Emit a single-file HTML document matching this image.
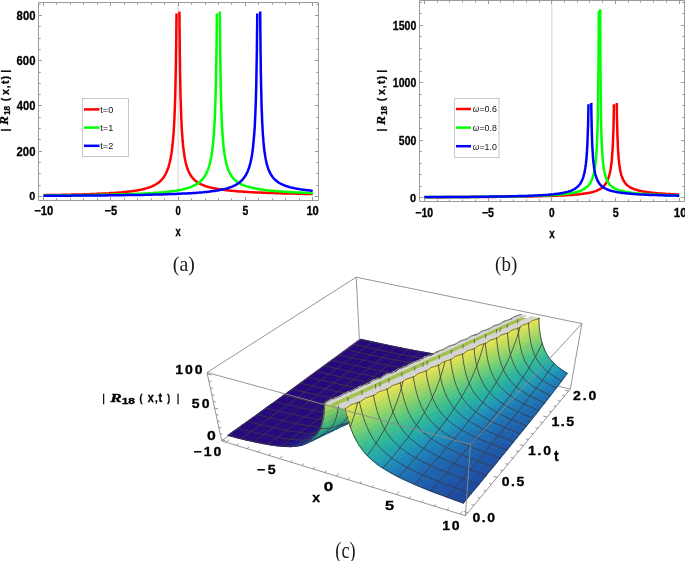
<!DOCTYPE html>
<html><head><meta charset="utf-8"><style>html,body{margin:0;padding:0;background:#fff;width:685px;height:561px;overflow:hidden}</style></head>
<body>
<svg width="685" height="561" viewBox="0 0 685 561" style="position:absolute;left:0;top:0;will-change:transform">
<rect width="685" height="561" fill="#fff"/>
<path d="M178.1 2.5V200.5" stroke="#d4d4d4" stroke-width="1"/>
<clipPath id="ca"><rect x="38.5" y="2.5" width="280.0" height="198.0"/></clipPath><g clip-path="url(#ca)">
<polyline points="43.5,195.2 46.3,195.1 49.2,195.1 51.9,195.0 54.7,195.0 57.3,194.9 60.0,194.9 62.6,194.8 65.2,194.8 67.7,194.7 70.2,194.7 72.6,194.6 75.1,194.6 77.4,194.5 79.8,194.4 82.1,194.4 84.3,194.3 86.6,194.2 88.8,194.2 90.9,194.1 93.0,194.0 95.1,193.9 97.2,193.8 99.2,193.7 101.2,193.7 103.1,193.6 105.0,193.5 106.9,193.4 108.8,193.3 110.6,193.1 112.4,193.0 114.1,192.9 115.8,192.8 117.5,192.7 119.2,192.5 120.8,192.4 122.4,192.3 123.9,192.1 125.5,192.0 127.0,191.8 128.4,191.6 129.9,191.5 131.3,191.3 132.7,191.1 134.0,190.9 135.4,190.7 136.7,190.5 137.9,190.3 139.2,190.0 140.4,189.8 141.6,189.5 142.8,189.3 143.9,189.0 145.0,188.7 146.1,188.4 147.1,188.1 148.2,187.8 149.2,187.4 150.2,187.1 151.1,186.7 152.1,186.3 153.0,185.9 153.9,185.5 154.8,185.0 155.6,184.5 156.4,184.0 157.2,183.5 158.0,183.0 158.8,182.4 159.5,181.8 160.2,181.2 160.9,180.5 161.6,179.8 162.3,179.1 162.9,178.3 163.5,177.5 164.1,176.6 164.7,175.7 165.3,174.7 165.8,173.7 166.3,172.6 166.8,171.5 167.3,170.3 167.8,169.1 168.3,167.7 168.7,166.3 169.1,164.8 169.5,163.3 169.9,161.6 170.3,159.9 170.7,158.0 171.0,156.0 171.4,154.0 171.7,151.8 172.0,149.5 172.3,147.0 172.6,144.5 172.8,141.7 173.1,138.9 173.3,135.9 173.6,132.7 173.8,129.4 174.0,125.9 174.2,122.3 174.4,118.5 174.6,114.6 174.7,110.5 174.9,106.2 175.0,101.8 175.2,97.3 175.3,92.7 175.4,88.0 175.5,83.2 175.6,78.4 175.7,73.5 175.8,68.6 175.9,63.8 176.0,59.1 176.0,54.5 176.1,50.0 176.2,45.7 176.2,41.6 176.3,37.7 176.3,34.1 176.3,30.8 176.4,27.8 176.4,25.1 176.4,22.8 176.4,20.7 176.5,18.9 176.5,17.5 176.5,16.3 176.5,15.3 176.5,14.6 176.5,14.1 176.5,13.8 176.5,13.6 176.5,13.4 176.5,13.4 176.5,13.4" fill="none" stroke="#ff0000" stroke-width="2.5" stroke-linejoin="round"/>
<polyline points="179.4,11.6 179.4,11.6 179.4,11.6 179.4,11.8 179.4,12.0 179.4,12.4 179.4,13.0 179.4,13.9 179.5,15.0 179.5,16.4 179.5,18.2 179.5,20.2 179.5,22.7 179.5,25.4 179.6,28.6 179.6,32.0 179.6,35.8 179.7,39.9 179.7,44.3 179.8,48.8 179.8,53.6 179.9,58.5 180.0,63.6 180.0,68.7 180.1,73.8 180.2,78.9 180.3,84.0 180.4,89.0 180.5,93.9 180.6,98.7 180.8,103.3 180.9,107.8 181.1,112.2 181.2,116.3 181.4,120.3 181.6,124.1 181.7,127.7 181.9,131.2 182.2,134.4 182.4,137.5 182.6,140.5 182.9,143.3 183.1,145.9 183.4,148.4 183.7,150.7 184.0,152.9 184.3,155.0 184.6,157.0 184.9,158.8 185.3,160.6 185.6,162.2 186.0,163.8 186.4,165.3 186.8,166.7 187.2,168.0 187.7,169.2 188.1,170.4 188.6,171.5 189.1,172.5 189.6,173.5 190.1,174.5 190.7,175.3 191.3,176.2 191.8,177.0 192.4,177.7 193.1,178.4 193.7,179.1 194.4,179.8 195.0,180.4 195.7,181.0 196.5,181.5 197.2,182.0 198.0,182.6 198.7,183.0 199.5,183.5 200.4,183.9 201.2,184.3 202.1,184.7 203.0,185.1 203.9,185.5 204.8,185.8 205.8,186.2 206.8,186.5 207.8,186.8 208.8,187.1 209.9,187.4 211.0,187.6 212.1,187.9 213.2,188.1 214.4,188.4 215.6,188.6 216.8,188.8 218.1,189.1 219.3,189.3 220.6,189.5 222.0,189.6 223.3,189.8 224.7,190.0 226.1,190.2 227.6,190.3 229.1,190.5 230.6,190.7 232.1,190.8 233.7,191.0 235.2,191.1 236.9,191.2 238.5,191.4 240.2,191.5 241.9,191.6 243.7,191.7 245.5,191.8 247.3,191.9 249.1,192.1 251.0,192.2 252.9,192.3 254.9,192.4 256.9,192.4 258.9,192.5 261.0,192.6 263.1,192.7 265.2,192.8 267.3,192.9 269.5,193.0 271.8,193.0 274.0,193.1 276.4,193.2 278.7,193.3 281.1,193.3 283.5,193.4 286.0,193.5 288.5,193.5 291.0,193.6 293.6,193.6 296.2,193.7 298.8,193.7 301.5,193.8 304.3,193.9 307.0,193.9 309.8,194.0 312.7,194.0" fill="none" stroke="#ff0000" stroke-width="2.5" stroke-linejoin="round"/>
<polyline points="43.5,195.6 47.2,195.5 50.9,195.5 54.5,195.5 58.0,195.5 61.5,195.4 65.0,195.4 68.4,195.3 71.7,195.3 75.0,195.3 78.3,195.2 81.5,195.2 84.6,195.1 87.7,195.1 90.8,195.1 93.8,195.0 96.7,195.0 99.7,194.9 102.5,194.8 105.3,194.8 108.1,194.7 110.8,194.7 113.5,194.6 116.1,194.5 118.7,194.5 121.2,194.4 123.7,194.3 126.2,194.3 128.6,194.2 131.0,194.1 133.3,194.0 135.6,193.9 137.8,193.8 140.0,193.7 142.1,193.6 144.3,193.5 146.3,193.4 148.4,193.3 150.4,193.2 152.3,193.1 154.2,192.9 156.1,192.8 158.0,192.7 159.8,192.5 161.5,192.4 163.3,192.2 165.0,192.0 166.6,191.9 168.2,191.7 169.8,191.5 171.4,191.3 172.9,191.1 174.4,190.9 175.8,190.7 177.2,190.4 178.6,190.2 180.0,189.9 181.3,189.7 182.6,189.4 183.8,189.1 185.1,188.8 186.2,188.5 187.4,188.1 188.5,187.8 189.6,187.4 190.7,187.0 191.8,186.6 192.8,186.2 193.8,185.7 194.7,185.2 195.7,184.7 196.6,184.2 197.5,183.6 198.3,183.0 199.2,182.4 200.0,181.7 200.7,181.0 201.5,180.3 202.2,179.5 202.9,178.7 203.6,177.8 204.3,176.9 204.9,175.9 205.5,174.9 206.1,173.8 206.7,172.6 207.3,171.4 207.8,170.1 208.3,168.7 208.8,167.2 209.3,165.6 209.7,164.0 210.2,162.2 210.6,160.3 211.0,158.3 211.4,156.2 211.7,153.9 212.1,151.5 212.4,149.0 212.7,146.3 213.1,143.4 213.3,140.4 213.6,137.2 213.9,133.8 214.1,130.2 214.3,126.4 214.6,122.5 214.8,118.4 215.0,114.0 215.1,109.5 215.3,104.8 215.5,100.0 215.6,95.0 215.7,89.9 215.9,84.7 216.0,79.4 216.1,74.1 216.2,68.8 216.3,63.6 216.4,58.4 216.4,53.4 216.5,48.5 216.6,43.9 216.6,39.5 216.7,35.5 216.7,31.8 216.7,28.4 216.8,25.4 216.8,22.8 216.8,20.6 216.8,18.7 216.8,17.1 216.9,15.9 216.9,15.0 216.9,14.3 216.9,13.9 216.9,13.6 216.9,13.5 216.9,13.4 216.9,13.4" fill="none" stroke="#00ff00" stroke-width="2.5" stroke-linejoin="round"/>
<polyline points="219.8,11.6 219.8,11.6 219.8,11.6 219.8,11.7 219.8,11.9 219.8,12.2 219.8,12.6 219.8,13.2 219.8,14.0 219.8,15.0 219.8,16.2 219.9,17.7 219.9,19.4 219.9,21.5 219.9,23.8 219.9,26.3 220.0,29.2 220.0,32.3 220.0,35.7 220.0,39.3 220.1,43.1 220.1,47.1 220.2,51.2 220.2,55.5 220.3,59.9 220.4,64.4 220.4,68.9 220.5,73.5 220.6,78.0 220.7,82.5 220.7,87.0 220.8,91.4 220.9,95.7 221.1,99.9 221.2,104.0 221.3,108.0 221.4,111.8 221.6,115.5 221.7,119.1 221.9,122.5 222.0,125.8 222.2,129.0 222.4,132.0 222.6,134.8 222.8,137.6 223.0,140.2 223.2,142.7 223.4,145.0 223.6,147.3 223.9,149.4 224.1,151.5 224.4,153.4 224.7,155.2 225.0,157.0 225.3,158.6 225.6,160.2 225.9,161.7 226.2,163.1 226.6,164.4 226.9,165.7 227.3,166.9 227.7,168.1 228.1,169.2 228.5,170.2 228.9,171.2 229.3,172.1 229.8,173.0 230.2,173.9 230.7,174.7 231.2,175.5 231.7,176.2 232.2,176.9 232.7,177.6 233.3,178.2 233.8,178.9 234.4,179.4 235.0,180.0 235.6,180.5 236.2,181.1 236.9,181.5 237.5,182.0 238.2,182.5 238.9,182.9 239.6,183.3 240.3,183.7 241.1,184.1 241.8,184.4 242.6,184.8 243.4,185.1 244.2,185.5 245.0,185.8 245.9,186.1 246.7,186.4 247.6,186.6 248.5,186.9 249.5,187.2 250.4,187.4 251.4,187.6 252.4,187.9 253.4,188.1 254.4,188.3 255.4,188.5 256.5,188.7 257.6,188.9 258.7,189.1 259.9,189.3 261.0,189.5 262.2,189.6 263.4,189.8 264.6,189.9 265.8,190.1 267.1,190.2 268.4,190.4 269.7,190.5 271.1,190.7 272.4,190.8 273.8,190.9 275.2,191.1 276.6,191.2 278.1,191.3 279.6,191.4 281.1,191.5 282.6,191.6 284.2,191.7 285.8,191.8 287.4,191.9 289.0,192.0 290.7,192.1 292.3,192.2 294.1,192.3 295.8,192.4 297.6,192.5 299.4,192.5 301.2,192.6 303.0,192.7 304.9,192.8 306.8,192.8 308.7,192.9 310.7,193.0 312.7,193.1" fill="none" stroke="#00ff00" stroke-width="2.5" stroke-linejoin="round"/>
<polyline points="43.5,195.8 48.1,195.8 52.6,195.8 57.0,195.7 61.4,195.7 65.7,195.7 70.0,195.7 74.2,195.6 78.3,195.6 82.4,195.6 86.4,195.6 90.3,195.5 94.2,195.5 98.0,195.5 101.8,195.4 105.5,195.4 109.1,195.3 112.7,195.3 116.3,195.3 119.7,195.2 123.1,195.2 126.5,195.1 129.8,195.1 133.0,195.0 136.2,195.0 139.3,194.9 142.4,194.9 145.4,194.8 148.4,194.7 151.3,194.7 154.2,194.6 157.0,194.5 159.8,194.5 162.5,194.4 165.1,194.3 167.7,194.2 170.3,194.1 172.8,194.0 175.3,193.9 177.7,193.8 180.0,193.7 182.3,193.6 184.6,193.5 186.8,193.4 189.0,193.3 191.2,193.2 193.2,193.0 195.3,192.9 197.3,192.7 199.2,192.6 201.1,192.4 203.0,192.3 204.8,192.1 206.6,191.9 208.4,191.7 210.1,191.5 211.7,191.3 213.4,191.1 215.0,190.9 216.5,190.6 218.0,190.4 219.5,190.1 220.9,189.8 222.3,189.5 223.7,189.2 225.0,188.9 226.3,188.6 227.6,188.2 228.8,187.8 230.0,187.4 231.1,187.0 232.2,186.6 233.3,186.1 234.4,185.6 235.4,185.1 236.4,184.5 237.4,183.9 238.3,183.3 239.2,182.7 240.1,182.0 240.9,181.2 241.7,180.5 242.5,179.6 243.3,178.7 244.0,177.8 244.7,176.8 245.4,175.8 246.1,174.6 246.7,173.4 247.3,172.2 247.9,170.8 248.5,169.3 249.0,167.8 249.5,166.2 250.0,164.4 250.5,162.5 250.9,160.5 251.4,158.4 251.8,156.1 252.2,153.7 252.5,151.1 252.9,148.3 253.2,145.4 253.5,142.2 253.8,138.9 254.1,135.4 254.4,131.6 254.7,127.6 254.9,123.5 255.1,119.1 255.3,114.4 255.5,109.6 255.7,104.6 255.9,99.4 256.0,94.0 256.2,88.5 256.3,82.9 256.4,77.2 256.5,71.5 256.6,65.9 256.7,60.3 256.8,54.9 256.9,49.6 256.9,44.6 257.0,39.9 257.0,35.5 257.1,31.6 257.1,28.0 257.2,24.9 257.2,22.1 257.2,19.9 257.2,18.0 257.2,16.5 257.2,15.4 257.3,14.5 257.3,14.0 257.3,13.6 257.3,13.5 257.3,13.4 257.3,13.4" fill="none" stroke="#0000ff" stroke-width="2.5" stroke-linejoin="round"/>
<polyline points="260.2,11.6 260.2,11.6 260.2,11.6 260.2,11.7 260.2,11.8 260.2,11.9 260.2,12.2 260.2,12.5 260.2,13.0 260.2,13.5 260.2,14.2 260.2,15.1 260.2,16.1 260.2,17.3 260.2,18.7 260.3,20.2 260.3,22.0 260.3,23.9 260.3,26.0 260.3,28.3 260.3,30.8 260.4,33.5 260.4,36.3 260.4,39.3 260.5,42.5 260.5,45.7 260.5,49.1 260.6,52.6 260.6,56.2 260.7,59.8 260.7,63.5 260.8,67.3 260.8,71.0 260.9,74.8 261.0,78.5 261.0,82.3 261.1,86.0 261.2,89.6 261.3,93.2 261.4,96.7 261.4,100.2 261.5,103.6 261.6,106.9 261.7,110.1 261.9,113.2 262.0,116.3 262.1,119.2 262.2,122.1 262.4,124.8 262.5,127.4 262.6,130.0 262.8,132.5 262.9,134.8 263.1,137.1 263.3,139.3 263.4,141.4 263.6,143.4 263.8,145.3 264.0,147.2 264.2,149.0 264.4,150.7 264.6,152.3 264.9,153.9 265.1,155.4 265.3,156.8 265.6,158.2 265.8,159.5 266.1,160.8 266.3,162.0 266.6,163.2 266.9,164.3 267.2,165.3 267.5,166.4 267.8,167.3 268.1,168.3 268.4,169.2 268.8,170.1 269.1,170.9 269.5,171.7 269.8,172.4 270.2,173.2 270.6,173.9 271.0,174.6 271.4,175.2 271.8,175.8 272.2,176.4 272.6,177.0 273.1,177.6 273.5,178.1 274.0,178.6 274.4,179.1 274.9,179.6 275.4,180.0 275.9,180.5 276.4,180.9 277.0,181.3 277.5,181.7 278.0,182.1 278.6,182.5 279.2,182.8 279.7,183.2 280.3,183.5 280.9,183.8 281.6,184.1 282.2,184.4 282.8,184.7 283.5,185.0 284.1,185.3 284.8,185.5 285.5,185.8 286.2,186.1 286.9,186.3 287.7,186.5 288.4,186.7 289.2,187.0 289.9,187.2 290.7,187.4 291.5,187.6 292.3,187.8 293.1,188.0 294.0,188.1 294.8,188.3 295.7,188.5 296.6,188.7 297.5,188.8 298.4,189.0 299.3,189.1 300.2,189.3 301.2,189.4 302.2,189.6 303.1,189.7 304.1,189.8 305.2,190.0 306.2,190.1 307.2,190.2 308.3,190.3 309.4,190.5 310.5,190.6 311.6,190.7 312.7,190.8" fill="none" stroke="#0000ff" stroke-width="2.5" stroke-linejoin="round"/>
</g>
<path d="M38.5 2.5H318.5V200.5H38.5ZM43.5 200.5v-3.6M43.5 2.5v3.6M110.5 200.5v-3.6M110.5 2.5v3.6M178.5 200.5v-3.6M178.5 2.5v3.6M245.5 200.5v-3.6M245.5 2.5v3.6M312.5 200.5v-3.6M312.5 2.5v3.6M56.5 200.5v-2.2M56.5 2.5v2.2M70.5 200.5v-2.2M70.5 2.5v2.2M83.5 200.5v-2.2M83.5 2.5v2.2M97.5 200.5v-2.2M97.5 2.5v2.2M124.5 200.5v-2.2M124.5 2.5v2.2M137.5 200.5v-2.2M137.5 2.5v2.2M151.5 200.5v-2.2M151.5 2.5v2.2M164.5 200.5v-2.2M164.5 2.5v2.2M191.5 200.5v-2.2M191.5 2.5v2.2M205.5 200.5v-2.2M205.5 2.5v2.2M218.5 200.5v-2.2M218.5 2.5v2.2M231.5 200.5v-2.2M231.5 2.5v2.2M258.5 200.5v-2.2M258.5 2.5v2.2M272.5 200.5v-2.2M272.5 2.5v2.2M285.5 200.5v-2.2M285.5 2.5v2.2M299.5 200.5v-2.2M299.5 2.5v2.2M38.5 196.5h3.6M318.5 196.5h-3.6M38.5 151.5h3.6M318.5 151.5h-3.6M38.5 105.5h3.6M318.5 105.5h-3.6M38.5 60.5h3.6M318.5 60.5h-3.6M38.5 15.5h3.6M318.5 15.5h-3.6M38.5 185.5h2.2M318.5 185.5h-2.2M38.5 173.5h2.2M318.5 173.5h-2.2M38.5 162.5h2.2M318.5 162.5h-2.2M38.5 139.5h2.2M318.5 139.5h-2.2M38.5 128.5h2.2M318.5 128.5h-2.2M38.5 117.5h2.2M318.5 117.5h-2.2M38.5 94.5h2.2M318.5 94.5h-2.2M38.5 83.5h2.2M318.5 83.5h-2.2M38.5 72.5h2.2M318.5 72.5h-2.2M38.5 49.5h2.2M318.5 49.5h-2.2M38.5 38.5h2.2M318.5 38.5h-2.2M38.5 26.5h2.2M318.5 26.5h-2.2M38.5 4.5h2.2M318.5 4.5h-2.2" stroke="#9a9a9a" stroke-width="1" fill="none"/>
<text transform="translate(16.55 155.56) scale(0.883 1)" font-family="Liberation Sans, sans-serif" font-weight="bold" font-style="normal" font-size="12.82" fill="#000" stroke="#000" stroke-width="0.30">200</text>
<text transform="translate(16.78 110.40) scale(0.872 1)" font-family="Liberation Sans, sans-serif" font-weight="bold" font-style="normal" font-size="12.82" fill="#000" stroke="#000" stroke-width="0.30">400</text>
<text transform="translate(16.55 65.24) scale(0.883 1)" font-family="Liberation Sans, sans-serif" font-weight="bold" font-style="normal" font-size="12.82" fill="#000" stroke="#000" stroke-width="0.30">600</text>
<text transform="translate(16.61 20.08) scale(0.880 1)" font-family="Liberation Sans, sans-serif" font-weight="bold" font-style="normal" font-size="12.82" fill="#000" stroke="#000" stroke-width="0.30">800</text>
<text transform="translate(29.22 200.23) scale(0.918 1)" font-family="Liberation Sans, sans-serif" font-weight="bold" font-style="normal" font-size="11.69" fill="#000" stroke="#000" stroke-width="0.30">0</text>
<text transform="translate(34.20 215.03) scale(0.920 1)" font-family="Liberation Sans, sans-serif" font-weight="bold" font-style="normal" font-size="12.25" fill="#000" stroke="#000" stroke-width="0.30">−10</text>
<text transform="translate(104.61 215.03) scale(0.891 1)" font-family="Liberation Sans, sans-serif" font-weight="bold" font-style="normal" font-size="12.43" fill="#000" stroke="#000" stroke-width="0.30">−5</text>
<text transform="translate(175.47 215.03) scale(0.773 1)" font-family="Liberation Sans, sans-serif" font-weight="bold" font-style="normal" font-size="12.25" fill="#000" stroke="#000" stroke-width="0.30">0</text>
<text transform="translate(242.54 215.03) scale(0.837 1)" font-family="Liberation Sans, sans-serif" font-weight="bold" font-style="normal" font-size="12.43" fill="#000" stroke="#000" stroke-width="0.30">5</text>
<text transform="translate(306.38 215.03) scale(0.905 1)" font-family="Liberation Sans, sans-serif" font-weight="bold" font-style="normal" font-size="12.25" fill="#000" stroke="#000" stroke-width="0.30">10</text>
<text transform="translate(175.56 236.05) scale(0.758 1)" font-family="Liberation Sans, sans-serif" font-weight="bold" font-style="normal" font-size="12.45" fill="#000" stroke="#000" stroke-width="0.30">x</text>
<text transform="translate(172.86 270.93) scale(0.985 1)" font-family="Liberation Serif, serif" font-weight="normal" font-style="normal" font-size="20.11" fill="#1a1a1a">(a)</text>
<rect x="82.5" y="98.5" width="46" height="58" fill="#fff" stroke="#c8c8c8" stroke-width="1"/>
<path d="M84 109.4H99.5" stroke="#ff0000" stroke-width="2.5"/>
<text transform="translate(100.31 112.86) scale(0.963 1)" font-family="Liberation Sans, sans-serif" font-weight="normal" font-style="normal" font-size="9.44" fill="#111">t=0</text>
<path d="M84 127.6H99.5" stroke="#00ff00" stroke-width="2.5"/>
<text transform="translate(100.31 131.05) scale(0.956 1)" font-family="Liberation Sans, sans-serif" font-weight="normal" font-style="normal" font-size="9.57" fill="#111">t=1</text>
<path d="M84 145.8H99.5" stroke="#0000ff" stroke-width="2.5"/>
<text transform="translate(100.31 149.26) scale(0.973 1)" font-family="Liberation Sans, sans-serif" font-weight="normal" font-style="normal" font-size="9.44" fill="#111">t=2</text>
<path d="M551.8 0.5V201.5" stroke="#d4d4d4" stroke-width="1"/>
<clipPath id="cb"><rect x="419.5" y="0.5" width="265.0" height="201.0"/></clipPath><g clip-path="url(#cb)">
<polyline points="424.3,197.2 428.4,197.2 432.4,197.2 436.3,197.2 440.2,197.2 444.0,197.2 447.8,197.1 451.5,197.1 455.2,197.1 458.8,197.1 462.4,197.1 465.9,197.1 469.3,197.0 472.7,197.0 476.0,197.0 479.3,197.0 482.5,197.0 485.7,196.9 488.9,196.9 491.9,196.9 495.0,196.9 497.9,196.8 500.9,196.8 503.7,196.8 506.6,196.8 509.3,196.7 512.1,196.7 514.7,196.7 517.4,196.6 520.0,196.6 522.5,196.5 525.0,196.5 527.4,196.5 529.9,196.4 532.2,196.4 534.5,196.3 536.8,196.3 539.0,196.2 541.2,196.2 543.3,196.1 545.4,196.1 547.5,196.0 549.5,196.0 551.5,195.9 553.4,195.8 555.3,195.8 557.2,195.7 559.0,195.6 560.7,195.5 562.5,195.5 564.2,195.4 565.8,195.3 567.5,195.2 569.0,195.1 570.6,195.0 572.1,194.9 573.6,194.8 575.0,194.6 576.4,194.5 577.8,194.4 579.1,194.3 580.5,194.1 581.7,194.0 583.0,193.8 584.2,193.6 585.3,193.5 586.5,193.3 587.6,193.1 588.7,192.9 589.7,192.7 590.8,192.4 591.8,192.2 592.7,191.9 593.7,191.7 594.6,191.4 595.5,191.1 596.3,190.8 597.1,190.5 597.9,190.1 598.7,189.7 599.5,189.3 600.2,188.9 600.9,188.5 601.6,188.0 602.2,187.5 602.8,187.0 603.5,186.4 604.0,185.8 604.6,185.2 605.1,184.5 605.7,183.8 606.2,183.0 606.6,182.2 607.1,181.3 607.5,180.3 607.9,179.4 608.3,178.3 608.7,177.2 609.1,176.0 609.4,174.7 609.8,173.3 610.1,171.9 610.4,170.3 610.7,168.7 610.9,166.9 611.2,165.1 611.4,163.2 611.7,161.1 611.9,159.0 612.1,156.7 612.2,154.3 612.4,151.9 612.6,149.3 612.7,146.6 612.9,143.9 613.0,141.2 613.1,138.3 613.2,135.5 613.3,132.7 613.4,129.8 613.5,127.1 613.6,124.4 613.6,121.8 613.7,119.4 613.7,117.1 613.8,115.0 613.8,113.0 613.8,111.3 613.9,109.8 613.9,108.5 613.9,107.4 613.9,106.5 613.9,105.8 613.9,105.2 614.0,104.8 614.0,104.6 614.0,104.4 614.0,104.3 614.0,104.3 614.0,104.3" fill="none" stroke="#ff0000" stroke-width="2.5" stroke-linejoin="round"/>
<polyline points="616.8,103.1 616.8,103.1 616.8,103.1 616.8,103.2 616.8,103.2 616.8,103.3 616.8,103.5 616.8,103.7 616.8,104.0 616.8,104.3 616.8,104.8 616.8,105.3 616.8,105.9 616.8,106.7 616.8,107.5 616.8,108.4 616.8,109.5 616.9,110.7 616.9,111.9 616.9,113.3 616.9,114.8 617.0,116.3 617.0,118.0 617.0,119.7 617.1,121.5 617.1,123.4 617.2,125.3 617.2,127.3 617.3,129.3 617.3,131.3 617.4,133.3 617.4,135.3 617.5,137.4 617.6,139.4 617.7,141.3 617.8,143.3 617.8,145.2 617.9,147.1 618.0,148.9 618.1,150.7 618.2,152.5 618.4,154.1 618.5,155.8 618.6,157.4 618.7,158.9 618.9,160.3 619.0,161.8 619.2,163.1 619.3,164.4 619.5,165.7 619.7,166.9 619.8,168.0 620.0,169.1 620.2,170.2 620.4,171.2 620.6,172.1 620.8,173.1 621.1,173.9 621.3,174.8 621.5,175.6 621.8,176.4 622.0,177.1 622.3,177.8 622.6,178.5 622.8,179.1 623.1,179.7 623.4,180.3 623.7,180.9 624.1,181.4 624.4,181.9 624.7,182.4 625.1,182.9 625.4,183.3 625.8,183.8 626.2,184.2 626.6,184.6 627.0,185.0 627.4,185.3 627.8,185.7 628.2,186.0 628.7,186.3 629.1,186.6 629.6,186.9 630.0,187.2 630.5,187.5 631.0,187.8 631.5,188.0 632.1,188.3 632.6,188.5 633.1,188.7 633.7,189.0 634.3,189.2 634.9,189.4 635.5,189.6 636.1,189.8 636.7,190.0 637.3,190.1 638.0,190.3 638.6,190.5 639.3,190.7 640.0,190.8 640.7,191.0 641.4,191.1 642.2,191.3 642.9,191.4 643.7,191.5 644.4,191.7 645.2,191.8 646.0,191.9 646.9,192.0 647.7,192.2 648.6,192.3 649.4,192.4 650.3,192.5 651.2,192.6 652.1,192.7 653.0,192.8 654.0,192.9 655.0,193.0 655.9,193.1 656.9,193.2 657.9,193.3 659.0,193.4 660.0,193.4 661.1,193.5 662.2,193.6 663.3,193.7 664.4,193.7 665.5,193.8 666.7,193.9 667.8,194.0 669.0,194.0 670.2,194.1 671.5,194.2 672.7,194.2 674.0,194.3 675.2,194.4 676.5,194.4 677.9,194.5 679.2,194.5" fill="none" stroke="#ff0000" stroke-width="2.5" stroke-linejoin="round"/>
<polyline points="424.3,197.2 428.0,197.2 431.7,197.1 435.4,197.1 438.9,197.1 442.5,197.1 445.9,197.1 449.4,197.1 452.7,197.0 456.0,197.0 459.3,197.0 462.5,197.0 465.7,197.0 468.8,196.9 471.9,196.9 474.9,196.9 477.9,196.9 480.8,196.8 483.7,196.8 486.5,196.8 489.3,196.8 492.0,196.7 494.7,196.7 497.4,196.7 500.0,196.6 502.5,196.6 505.0,196.6 507.5,196.5 509.9,196.5 512.3,196.5 514.6,196.4 516.9,196.4 519.2,196.3 521.4,196.3 523.6,196.2 525.7,196.2 527.8,196.1 529.8,196.1 531.8,196.0 533.8,196.0 535.7,195.9 537.6,195.8 539.5,195.8 541.3,195.7 543.1,195.6 544.8,195.5 546.5,195.5 548.2,195.4 549.8,195.3 551.4,195.2 553.0,195.1 554.5,195.0 556.0,194.9 557.5,194.8 558.9,194.7 560.3,194.5 561.6,194.4 563.0,194.3 564.3,194.1 565.5,194.0 566.8,193.8 568.0,193.7 569.1,193.5 570.3,193.3 571.4,193.1 572.5,192.9 573.5,192.7 574.5,192.5 575.5,192.3 576.5,192.0 577.4,191.8 578.4,191.5 579.2,191.2 580.1,190.9 580.9,190.6 581.8,190.2 582.5,189.8 583.3,189.5 584.0,189.0 584.8,188.6 585.4,188.1 586.1,187.6 586.8,187.1 587.4,186.5 588.0,185.9 588.6,185.3 589.1,184.6 589.7,183.9 590.2,183.1 590.7,182.2 591.1,181.3 591.6,180.3 592.0,179.3 592.5,178.2 592.9,177.0 593.3,175.7 593.6,174.3 594.0,172.7 594.3,171.1 594.6,169.3 594.9,167.4 595.2,165.4 595.5,163.2 595.8,160.8 596.0,158.2 596.2,155.4 596.5,152.3 596.7,149.1 596.9,145.5 597.0,141.7 597.2,137.6 597.4,133.2 597.5,128.5 597.6,123.5 597.8,118.2 597.9,112.5 598.0,106.6 598.1,100.3 598.2,93.8 598.3,87.1 598.3,80.3 598.4,73.4 598.5,66.4 598.5,59.6 598.6,53.0 598.6,46.6 598.6,40.6 598.7,35.1 598.7,30.1 598.7,25.7 598.7,22.0 598.8,18.8 598.8,16.3 598.8,14.4 598.8,12.9 598.8,12.0 598.8,11.4 598.8,11.1 598.8,11.0 598.8,10.9" fill="none" stroke="#00ff00" stroke-width="2.5" stroke-linejoin="round"/>
<polyline points="600.2,9.2 600.2,9.2 600.2,9.3 600.2,9.5 600.2,9.8 600.2,10.3 600.2,11.1 600.2,12.2 600.2,13.6 600.2,15.4 600.2,17.6 600.2,20.2 600.2,23.2 600.2,26.6 600.3,30.5 600.3,34.7 600.3,39.3 600.3,44.1 600.3,49.3 600.4,54.6 600.4,60.1 600.4,65.7 600.5,71.3 600.5,77.0 600.6,82.6 600.6,88.1 600.7,93.5 600.8,98.7 600.8,103.8 600.9,108.7 601.0,113.4 601.0,117.9 601.1,122.2 601.2,126.3 601.3,130.1 601.4,133.8 601.5,137.2 601.7,140.5 601.8,143.5 601.9,146.4 602.1,149.1 602.2,151.7 602.4,154.1 602.5,156.3 602.7,158.4 602.9,160.4 603.0,162.3 603.2,164.0 603.4,165.6 603.6,167.2 603.8,168.6 604.1,170.0 604.3,171.3 604.6,172.5 604.8,173.6 605.1,174.7 605.3,175.7 605.6,176.6 605.9,177.5 606.2,178.3 606.5,179.1 606.9,179.9 607.2,180.6 607.5,181.3 607.9,181.9 608.3,182.5 608.6,183.1 609.0,183.6 609.4,184.1 609.8,184.6 610.3,185.1 610.7,185.5 611.2,185.9 611.6,186.3 612.1,186.7 612.6,187.1 613.1,187.4 613.6,187.7 614.1,188.1 614.7,188.4 615.2,188.6 615.8,188.9 616.4,189.2 617.0,189.4 617.6,189.7 618.2,189.9 618.9,190.1 619.5,190.3 620.2,190.5 620.9,190.7 621.6,190.9 622.3,191.1 623.1,191.3 623.8,191.5 624.6,191.6 625.4,191.8 626.2,191.9 627.0,192.1 627.9,192.2 628.7,192.4 629.6,192.5 630.5,192.6 631.4,192.7 632.3,192.9 633.3,193.0 634.2,193.1 635.2,193.2 636.2,193.3 637.2,193.4 638.3,193.5 639.3,193.6 640.4,193.7 641.5,193.8 642.6,193.9 643.8,193.9 644.9,194.0 646.1,194.1 647.3,194.2 648.5,194.2 649.8,194.3 651.0,194.4 652.3,194.5 653.6,194.5 654.9,194.6 656.3,194.7 657.6,194.7 659.0,194.8 660.4,194.8 661.9,194.9 663.3,194.9 664.8,195.0 666.3,195.1 667.9,195.1 669.4,195.2 671.0,195.2 672.6,195.2 674.2,195.3 675.8,195.3 677.5,195.4 679.2,195.4" fill="none" stroke="#00ff00" stroke-width="2.5" stroke-linejoin="round"/>
<polyline points="424.3,197.1 427.8,197.1 431.3,197.1 434.7,197.1 438.1,197.1 441.4,197.1 444.7,197.0 447.9,197.0 451.0,197.0 454.2,197.0 457.2,197.0 460.3,196.9 463.3,196.9 466.2,196.9 469.1,196.9 471.9,196.8 474.7,196.8 477.5,196.8 480.2,196.8 482.8,196.7 485.5,196.7 488.0,196.7 490.6,196.6 493.1,196.6 495.5,196.6 497.9,196.5 500.3,196.5 502.6,196.5 504.9,196.4 507.1,196.4 509.3,196.3 511.5,196.3 513.6,196.2 515.7,196.2 517.7,196.1 519.7,196.1 521.7,196.0 523.6,196.0 525.5,195.9 527.3,195.9 529.2,195.8 530.9,195.7 532.7,195.7 534.4,195.6 536.1,195.5 537.7,195.4 539.3,195.3 540.9,195.3 542.4,195.2 543.9,195.1 545.4,195.0 546.8,194.9 548.2,194.8 549.6,194.6 550.9,194.5 552.2,194.4 553.5,194.3 554.8,194.1 556.0,194.0 557.2,193.8 558.3,193.7 559.5,193.5 560.6,193.3 561.6,193.2 562.7,193.0 563.7,192.8 564.7,192.6 565.7,192.3 566.6,192.1 567.5,191.9 568.4,191.6 569.3,191.3 570.1,191.1 570.9,190.8 571.7,190.4 572.4,190.1 573.2,189.7 573.9,189.4 574.6,189.0 575.3,188.6 575.9,188.1 576.5,187.6 577.2,187.1 577.7,186.6 578.3,186.1 578.8,185.5 579.4,184.8 579.9,184.2 580.4,183.5 580.8,182.7 581.3,181.9 581.7,181.1 582.1,180.1 582.5,179.2 582.9,178.2 583.3,177.1 583.6,175.9 583.9,174.7 584.3,173.4 584.6,172.0 584.8,170.6 585.1,169.0 585.4,167.4 585.6,165.7 585.9,163.9 586.1,162.0 586.3,159.9 586.5,157.8 586.7,155.6 586.8,153.3 587.0,150.9 587.1,148.5 587.3,145.9 587.4,143.3 587.5,140.7 587.6,138.0 587.7,135.3 587.8,132.6 587.9,129.9 588.0,127.3 588.1,124.7 588.1,122.2 588.2,119.9 588.2,117.6 588.3,115.6 588.3,113.7 588.3,112.0 588.4,110.4 588.4,109.1 588.4,107.9 588.4,107.0 588.4,106.2 588.5,105.6 588.5,105.1 588.5,104.8 588.5,104.5 588.5,104.4 588.5,104.3 588.5,104.3 588.5,104.3" fill="none" stroke="#0000ff" stroke-width="2.5" stroke-linejoin="round"/>
<polyline points="591.2,103.1 591.2,103.1 591.2,103.2 591.2,103.2 591.2,103.3 591.3,103.4 591.3,103.7 591.3,104.0 591.3,104.3 591.3,104.9 591.3,105.5 591.3,106.2 591.3,107.1 591.3,108.1 591.3,109.3 591.4,110.6 591.4,112.0 591.4,113.6 591.4,115.3 591.5,117.1 591.5,119.1 591.6,121.1 591.6,123.2 591.6,125.4 591.7,127.6 591.8,129.9 591.8,132.2 591.9,134.5 592.0,136.8 592.0,139.1 592.1,141.3 592.2,143.6 592.3,145.7 592.4,147.9 592.5,150.0 592.7,152.0 592.8,153.9 592.9,155.8 593.0,157.6 593.2,159.4 593.3,161.0 593.5,162.6 593.7,164.2 593.9,165.6 594.0,167.0 594.2,168.4 594.4,169.6 594.6,170.8 594.9,172.0 595.1,173.1 595.3,174.1 595.6,175.1 595.9,176.0 596.1,176.9 596.4,177.7 596.7,178.5 597.0,179.3 597.3,180.0 597.6,180.7 598.0,181.4 598.3,182.0 598.7,182.6 599.1,183.1 599.4,183.7 599.8,184.2 600.2,184.7 600.7,185.1 601.1,185.6 601.5,186.0 602.0,186.4 602.5,186.8 603.0,187.1 603.5,187.5 604.0,187.8 604.5,188.1 605.1,188.4 605.6,188.7 606.2,189.0 606.8,189.3 607.4,189.5 608.0,189.8 608.7,190.0 609.3,190.2 610.0,190.5 610.7,190.7 611.4,190.9 612.1,191.1 612.8,191.2 613.6,191.4 614.3,191.6 615.1,191.7 615.9,191.9 616.7,192.1 617.6,192.2 618.4,192.4 619.3,192.5 620.2,192.6 621.1,192.7 622.1,192.9 623.0,193.0 624.0,193.1 625.0,193.2 626.0,193.3 627.0,193.4 628.1,193.5 629.2,193.6 630.3,193.7 631.4,193.8 632.5,193.9 633.7,194.0 634.8,194.1 636.0,194.2 637.3,194.2 638.5,194.3 639.8,194.4 641.1,194.5 642.4,194.5 643.7,194.6 645.1,194.7 646.4,194.7 647.8,194.8 649.3,194.9 650.7,194.9 652.2,195.0 653.7,195.0 655.2,195.1 656.8,195.1 658.3,195.2 659.9,195.2 661.6,195.3 663.2,195.3 664.9,195.4 666.6,195.4 668.3,195.5 670.0,195.5 671.8,195.6 673.6,195.6 675.5,195.6 677.3,195.7 679.2,195.7" fill="none" stroke="#0000ff" stroke-width="2.5" stroke-linejoin="round"/>
</g>
<path d="M419.5 0.5H684.5V201.5H419.5ZM424.5 201.5v-3.6M424.5 0.5v3.6M488.5 201.5v-3.6M488.5 0.5v3.6M551.5 201.5v-3.6M551.5 0.5v3.6M615.5 201.5v-3.6M615.5 0.5v3.6M679.5 201.5v-3.6M679.5 0.5v3.6M437.5 201.5v-2.2M437.5 0.5v2.2M449.5 201.5v-2.2M449.5 0.5v2.2M462.5 201.5v-2.2M462.5 0.5v2.2M475.5 201.5v-2.2M475.5 0.5v2.2M500.5 201.5v-2.2M500.5 0.5v2.2M513.5 201.5v-2.2M513.5 0.5v2.2M526.5 201.5v-2.2M526.5 0.5v2.2M539.5 201.5v-2.2M539.5 0.5v2.2M564.5 201.5v-2.2M564.5 0.5v2.2M577.5 201.5v-2.2M577.5 0.5v2.2M589.5 201.5v-2.2M589.5 0.5v2.2M602.5 201.5v-2.2M602.5 0.5v2.2M628.5 201.5v-2.2M628.5 0.5v2.2M640.5 201.5v-2.2M640.5 0.5v2.2M653.5 201.5v-2.2M653.5 0.5v2.2M666.5 201.5v-2.2M666.5 0.5v2.2M419.5 197.5h3.6M684.5 197.5h-3.6M419.5 140.5h3.6M684.5 140.5h-3.6M419.5 82.5h3.6M684.5 82.5h-3.6M419.5 25.5h3.6M684.5 25.5h-3.6M419.5 186.5h2.2M684.5 186.5h-2.2M419.5 174.5h2.2M684.5 174.5h-2.2M419.5 163.5h2.2M684.5 163.5h-2.2M419.5 151.5h2.2M684.5 151.5h-2.2M419.5 128.5h2.2M684.5 128.5h-2.2M419.5 117.5h2.2M684.5 117.5h-2.2M419.5 105.5h2.2M684.5 105.5h-2.2M419.5 94.5h2.2M684.5 94.5h-2.2M419.5 71.5h2.2M684.5 71.5h-2.2M419.5 59.5h2.2M684.5 59.5h-2.2M419.5 48.5h2.2M684.5 48.5h-2.2M419.5 36.5h2.2M684.5 36.5h-2.2M419.5 13.5h2.2M684.5 13.5h-2.2M419.5 2.5h2.2M684.5 2.5h-2.2" stroke="#9a9a9a" stroke-width="1" fill="none"/>
<text transform="translate(392.82 29.72) scale(0.822 1)" font-family="Liberation Sans, sans-serif" font-weight="bold" font-style="normal" font-size="12.82" fill="#000" stroke="#000" stroke-width="0.30">1500</text>
<text transform="translate(392.82 87.12) scale(0.822 1)" font-family="Liberation Sans, sans-serif" font-weight="bold" font-style="normal" font-size="12.82" fill="#000" stroke="#000" stroke-width="0.30">1000</text>
<text transform="translate(398.84 144.52) scale(0.817 1)" font-family="Liberation Sans, sans-serif" font-weight="bold" font-style="normal" font-size="12.82" fill="#000" stroke="#000" stroke-width="0.30">500</text>
<text transform="translate(410.11 201.53) scale(0.925 1)" font-family="Liberation Sans, sans-serif" font-weight="bold" font-style="normal" font-size="11.83" fill="#000" stroke="#000" stroke-width="0.30">0</text>
<text transform="translate(415.33 216.83) scale(0.849 1)" font-family="Liberation Sans, sans-serif" font-weight="bold" font-style="normal" font-size="12.39" fill="#000" stroke="#000" stroke-width="0.30">−10</text>
<text transform="translate(481.93 216.82) scale(0.844 1)" font-family="Liberation Sans, sans-serif" font-weight="bold" font-style="normal" font-size="12.57" fill="#000" stroke="#000" stroke-width="0.30">−5</text>
<text transform="translate(549.05 216.83) scale(0.815 1)" font-family="Liberation Sans, sans-serif" font-weight="bold" font-style="normal" font-size="12.39" fill="#000" stroke="#000" stroke-width="0.30">0</text>
<text transform="translate(612.73 216.82) scale(0.859 1)" font-family="Liberation Sans, sans-serif" font-weight="bold" font-style="normal" font-size="12.57" fill="#000" stroke="#000" stroke-width="0.30">5</text>
<text transform="translate(673.85 216.83) scale(0.935 1)" font-family="Liberation Sans, sans-serif" font-weight="bold" font-style="normal" font-size="12.39" fill="#000" stroke="#000" stroke-width="0.30">10</text>
<text transform="translate(549.35 238.25) scale(0.743 1)" font-family="Liberation Sans, sans-serif" font-weight="bold" font-style="normal" font-size="13.21" fill="#000" stroke="#000" stroke-width="0.30">x</text>
<text transform="translate(495.10 271.18) scale(0.934 1)" font-family="Liberation Serif, serif" font-weight="normal" font-style="normal" font-size="20.33" fill="#1a1a1a">(b)</text>
<rect x="454.5" y="98.5" width="44.5" height="59" fill="#fff" stroke="#c8c8c8" stroke-width="1"/>
<path d="M456 109.0H471" stroke="#ff0000" stroke-width="2.5"/>
<text transform="translate(472.70 112.47) scale(1.019 1)" font-family="Liberation Sans, sans-serif" font-weight="normal" font-style="italic" font-size="8.18" fill="#111">ω</text>
<text transform="translate(479.41 112.46) scale(0.998 1)" font-family="Liberation Sans, sans-serif" font-weight="normal" font-style="normal" font-size="8.87" fill="#111">=0.6</text>
<path d="M456 127.6H471" stroke="#00ff00" stroke-width="2.5"/>
<text transform="translate(472.70 131.07) scale(1.019 1)" font-family="Liberation Sans, sans-serif" font-weight="normal" font-style="italic" font-size="8.18" fill="#111">ω</text>
<text transform="translate(479.41 131.06) scale(0.998 1)" font-family="Liberation Sans, sans-serif" font-weight="normal" font-style="normal" font-size="8.87" fill="#111">=0.8</text>
<path d="M456 146.2H471" stroke="#0000ff" stroke-width="2.5"/>
<text transform="translate(472.70 149.67) scale(1.019 1)" font-family="Liberation Sans, sans-serif" font-weight="normal" font-style="italic" font-size="8.18" fill="#111">ω</text>
<text transform="translate(479.41 149.66) scale(0.996 1)" font-family="Liberation Sans, sans-serif" font-weight="normal" font-style="normal" font-size="8.87" fill="#111">=1.0</text>
<text transform="translate(385.10 131.59) rotate(-90) scale(1.000 1)" font-family="Liberation Sans, sans-serif" font-weight="bold" font-style="normal" font-size="10.60" stroke="#000" stroke-width="0.25">|</text>
<text transform="translate(385.00 125.00) rotate(-90) scale(1.150 1)" font-family="Liberation Serif, serif" font-weight="bold" font-style="italic" font-size="11.60" stroke="#000" stroke-width="0.25">R</text>
<text transform="translate(386.80 114.99) rotate(-90) scale(1.000 1)" font-family="Liberation Sans, sans-serif" font-weight="bold" font-style="normal" font-size="8.20" stroke="#000" stroke-width="0.25">18</text>
<text transform="translate(385.10 101.23) rotate(-90) scale(1.000 1)" font-family="Liberation Sans, sans-serif" font-weight="bold" font-style="normal" font-size="10.60" stroke="#000" stroke-width="0.25">(</text>
<text transform="translate(385.10 95.11) rotate(-90) scale(1.000 1)" font-family="Liberation Sans, sans-serif" font-weight="bold" font-style="normal" font-size="10.60" stroke="#000" stroke-width="0.25">x</text>
<text transform="translate(385.10 88.34) rotate(-90) scale(1.000 1)" font-family="Liberation Sans, sans-serif" font-weight="bold" font-style="normal" font-size="10.60" stroke="#000" stroke-width="0.25">,</text>
<text transform="translate(385.10 83.91) rotate(-90) scale(1.000 1)" font-family="Liberation Sans, sans-serif" font-weight="bold" font-style="normal" font-size="10.60" stroke="#000" stroke-width="0.25">t</text>
<text transform="translate(385.10 79.40) rotate(-90) scale(1.000 1)" font-family="Liberation Sans, sans-serif" font-weight="bold" font-style="normal" font-size="10.60" stroke="#000" stroke-width="0.25">)</text>
<text transform="translate(385.10 72.80) rotate(-90) scale(1.000 1)" font-family="Liberation Sans, sans-serif" font-weight="bold" font-style="normal" font-size="10.60" stroke="#000" stroke-width="0.25">|</text>
<text transform="translate(8.50 131.59) rotate(-90) scale(1.000 1)" font-family="Liberation Sans, sans-serif" font-weight="bold" font-style="normal" font-size="10.60" stroke="#000" stroke-width="0.25">|</text>
<text transform="translate(8.40 125.00) rotate(-90) scale(1.150 1)" font-family="Liberation Serif, serif" font-weight="bold" font-style="italic" font-size="11.60" stroke="#000" stroke-width="0.25">R</text>
<text transform="translate(10.20 114.99) rotate(-90) scale(1.000 1)" font-family="Liberation Sans, sans-serif" font-weight="bold" font-style="normal" font-size="8.20" stroke="#000" stroke-width="0.25">18</text>
<text transform="translate(8.50 101.23) rotate(-90) scale(1.000 1)" font-family="Liberation Sans, sans-serif" font-weight="bold" font-style="normal" font-size="10.60" stroke="#000" stroke-width="0.25">(</text>
<text transform="translate(8.50 95.11) rotate(-90) scale(1.000 1)" font-family="Liberation Sans, sans-serif" font-weight="bold" font-style="normal" font-size="10.60" stroke="#000" stroke-width="0.25">x</text>
<text transform="translate(8.50 88.34) rotate(-90) scale(1.000 1)" font-family="Liberation Sans, sans-serif" font-weight="bold" font-style="normal" font-size="10.60" stroke="#000" stroke-width="0.25">,</text>
<text transform="translate(8.50 83.91) rotate(-90) scale(1.000 1)" font-family="Liberation Sans, sans-serif" font-weight="bold" font-style="normal" font-size="10.60" stroke="#000" stroke-width="0.25">t</text>
<text transform="translate(8.50 79.40) rotate(-90) scale(1.000 1)" font-family="Liberation Sans, sans-serif" font-weight="bold" font-style="normal" font-size="10.60" stroke="#000" stroke-width="0.25">)</text>
<text transform="translate(8.50 72.80) rotate(-90) scale(1.000 1)" font-family="Liberation Sans, sans-serif" font-weight="bold" font-style="normal" font-size="10.60" stroke="#000" stroke-width="0.25">|</text>
<text transform="translate(335.33 558.29) scale(0.790 1)" font-family="Liberation Serif, serif" font-weight="normal" font-style="normal" font-size="23.08" fill="#1a1a1a">(c)</text>
<path d="M221.7 440.9L359.4 339.3" stroke="#8a8a8a" stroke-width="0.90" fill="none"/>
<path d="M359.4 339.3L570.3 389.1" stroke="#8a8a8a" stroke-width="0.90" fill="none"/>
<path d="M359.4 339.3L356.2 277.2" stroke="#8a8a8a" stroke-width="0.90" fill="none"/>
<style>path[class^=c]{stroke-width:1.3}.c0{fill:#28087c;stroke:#28087c}.c1{fill:#280c7c;stroke:#280c7c}.c2{fill:#28107c;stroke:#28107c}.c3{fill:#281080;stroke:#281080}.c4{fill:#241884;stroke:#241884}.c5{fill:#24248c;stroke:#24248c}.c6{fill:#241c84;stroke:#241c84}.c7{fill:#242890;stroke:#242890}.c8{fill:#203c98;stroke:#203c98}.c9{fill:#241c88;stroke:#241c88}.c10{fill:#1c7894;stroke:#1c7894}.c11{fill:#203c9c;stroke:#203c9c}.c12{fill:#208890;stroke:#208890}.c13{fill:#281480;stroke:#281480}.c14{fill:#242c90;stroke:#242c90}.c15{fill:#20409c;stroke:#20409c}.c16{fill:#249888;stroke:#249888}.c17{fill:#242088;stroke:#242088}.c18{fill:#34a480;stroke:#34a480}.c19{fill:#1c7c94;stroke:#1c7c94}.c20{fill:#208c90;stroke:#208c90}.c21{fill:#241484;stroke:#241484}.c22{fill:#243094;stroke:#243094}.c23{fill:#289888;stroke:#289888}.c24{fill:#20449c;stroke:#20449c}.c25{fill:#1c7c98;stroke:#1c7c98}.c26{fill:#4cb078;stroke:#4cb078}.c27{fill:#2094b8;stroke:#2094b8}.c28{fill:#249cb8;stroke:#249cb8}.c29{fill:#2090b8;stroke:#2090b8}.c30{fill:#24a0b4;stroke:#24a0b4}.c31{fill:#2088b8;stroke:#2088b8}.c32{fill:#24a4b0;stroke:#24a4b0}.c33{fill:#28a8ac;stroke:#28a8ac}.c34{fill:#2044a0;stroke:#2044a0}.c35{fill:#28b0a4;stroke:#28b0a4}.c36{fill:#2cb4a0;stroke:#2cb4a0}.c37{fill:#30b89c;stroke:#30b89c}.c38{fill:#38bc94;stroke:#38bc94}.c39{fill:#4cb478;stroke:#4cb478}.c40{fill:#2098b8;stroke:#2098b8}.c41{fill:#249cb4;stroke:#249cb4}.c42{fill:#208cb8;stroke:#208cb8}.c43{fill:#24a0b0;stroke:#24a0b0}.c44{fill:#24208c;stroke:#24208c}.c45{fill:#2084b8;stroke:#2084b8}.c46{fill:#24a4ac;stroke:#24a4ac}.c47{fill:#40c090;stroke:#40c090}.c48{fill:#28aca8;stroke:#28aca8}.c49{fill:#2048a0;stroke:#2048a0}.c50{fill:#6cc070;stroke:#6cc070}.c51{fill:#4cc488;stroke:#4cc488}.c52{fill:#34a880;stroke:#34a880}.c53{fill:#30b49c;stroke:#30b49c}.c54{fill:#34b898;stroke:#34b898}.c55{fill:#54c484;stroke:#54c484}.c56{fill:#2498b8;stroke:#2498b8}.c57{fill:#3cbc90;stroke:#3cbc90}.c58{fill:#2080b8;stroke:#2080b8}.c59{fill:#64c87c;stroke:#64c87c}.c60{fill:#243494;stroke:#243494}.c61{fill:#289c88;stroke:#289c88}.c62{fill:#28aca4;stroke:#28aca4}.c63{fill:#44c08c;stroke:#44c08c}.c64{fill:#6cc06c;stroke:#6cc06c}.c65{fill:#70cc78;stroke:#70cc78}.c66{fill:#50c488;stroke:#50c488}.c67{fill:#34b89c;stroke:#34b89c}.c68{fill:#1c8094;stroke:#1c8094}.c69{fill:#90cc64;stroke:#90cc64}.c70{fill:#7cd074;stroke:#7cd074}.c71{fill:#5cc880;stroke:#5cc880}.c72{fill:#207cb8;stroke:#207cb8}.c73{fill:#2cb0a4;stroke:#2cb0a4}.c74{fill:#6ccc78;stroke:#6ccc78}.c75{fill:#8cd46c;stroke:#8cd46c}.c76{fill:#78d074;stroke:#78d074}.c77{fill:#9cd468;stroke:#9cd468}.c78{fill:#58c884;stroke:#58c884}.c79{fill:#50b478;stroke:#50b478}.c80{fill:#209090;stroke:#209090}.c81{fill:#3cc090;stroke:#3cc090}.c82{fill:#acd460;stroke:#acd460}.c83{fill:#2078b4;stroke:#2078b4}.c84{fill:#68cc7c;stroke:#68cc7c}.c85{fill:#88d070;stroke:#88d070}.c86{fill:#a8d864;stroke:#a8d864}.c87{fill:#203494;stroke:#203494}.c88{fill:#48c08c;stroke:#48c08c}.c89{fill:#74d074;stroke:#74d074}.c90{fill:#bcdc60;stroke:#bcdc60}.c91{fill:#98d468;stroke:#98d468}.c92{fill:#b4dc60;stroke:#b4dc60}.c93{fill:#3cbc94;stroke:#3cbc94}.c94{fill:#24a8ac;stroke:#24a8ac}.c95{fill:#84d070;stroke:#84d070}.c96{fill:#d4d4d4;stroke:#d4d4d4}.c97{fill:#c0dc60;stroke:#c0dc60}.c98{fill:#2cb0a0;stroke:#2cb0a0}.c99{fill:#203898;stroke:#203898}.c100{fill:#cce05c;stroke:#cce05c}.c101{fill:#204ca0;stroke:#204ca0}.c102{fill:#38a880;stroke:#38a880}.c103{fill:#94d46c;stroke:#94d46c}.c104{fill:#b4d860;stroke:#b4d860}.c105{fill:#d4e05c;stroke:#d4e05c}.c106{fill:#60c880;stroke:#60c880}.c107{fill:#80d070;stroke:#80d070}.c108{fill:#a4d864;stroke:#a4d864}.c109{fill:#28a8a8;stroke:#28a8a8}.c110{fill:#e0e058;stroke:#e0e058}.c111{fill:#20908c;stroke:#20908c}.c112{fill:#e4e458;stroke:#e4e458}.c113{fill:#2074b4;stroke:#2074b4}.c114{fill:#e8e458;stroke:#e8e458}.c115{fill:#90d46c;stroke:#90d46c}.c116{fill:#ece458;stroke:#ece458}.c117{fill:#70c06c;stroke:#70c06c}.c118{fill:#b0d860;stroke:#b0d860}.c119{fill:#a3c24a;stroke:#a3c24a}.c120{fill:#1c7094;stroke:#1c7094}.c121{fill:#a0d864;stroke:#a0d864}.c122{fill:#dce058;stroke:#dce058}.c123{fill:#2c9c88;stroke:#2c9c88}.c124{fill:#c8e05c;stroke:#c8e05c}.c125{fill:#2070b4;stroke:#2070b4}.c126{fill:#b0d864;stroke:#b0d864}.c127{fill:#1c8494;stroke:#1c8494}.c128{fill:#50b474;stroke:#50b474}.c129{fill:#64cc7c;stroke:#64cc7c}.c130{fill:#c8dc5c;stroke:#c8dc5c}.c131{fill:#acd864;stroke:#acd864}.c132{fill:#1c7494;stroke:#1c7494}.c133{fill:#b8dc60;stroke:#b8dc60}.c134{fill:#54b474;stroke:#54b474}.c135{fill:#20948c;stroke:#20948c}.c136{fill:#2c9c84;stroke:#2c9c84}.c137{fill:#206cb0;stroke:#206cb0}.c138{fill:#d0e05c;stroke:#d0e05c}.c139{fill:#3ca87c;stroke:#3ca87c}.c140{fill:#c4dc5c;stroke:#c4dc5c}.c141{fill:#30b4a0;stroke:#30b4a0}.c142{fill:#2068b0;stroke:#2068b0}.c143{fill:#94cc64;stroke:#94cc64}.c144{fill:#208494;stroke:#208494}.c145{fill:#2ca084;stroke:#2ca084}.c146{fill:#74c46c;stroke:#74c46c}.c147{fill:#3cac7c;stroke:#3cac7c}.c148{fill:#d8e058;stroke:#d8e058}.c149{fill:#c4dc60;stroke:#c4dc60}.c150{fill:#54b874;stroke:#54b874}.c151{fill:#24948c;stroke:#24948c}.c152{fill:#58c484;stroke:#58c484}.c153{fill:#2064b0;stroke:#2064b0}.c154{fill:#a0d468;stroke:#a0d468}.c155{fill:#2064ac;stroke:#2064ac}.c156{fill:#e0e458;stroke:#e0e458}.c157{fill:#88d46c;stroke:#88d46c}.c158{fill:#58b874;stroke:#58b874}.c159{fill:#38b898;stroke:#38b898}.c160{fill:#40ac7c;stroke:#40ac7c}.c161{fill:#acd860;stroke:#acd860}.c162{fill:#2060ac;stroke:#2060ac}.c163{fill:#24988c;stroke:#24988c}.c164{fill:#30a084;stroke:#30a084}.c165{fill:#d8e05c;stroke:#d8e05c}.c166{fill:#78c46c;stroke:#78c46c}.c167{fill:#203498;stroke:#203498}.c168{fill:#48c48c;stroke:#48c48c}.c169{fill:#94d468;stroke:#94d468}.c170{fill:#5cb874;stroke:#5cb874}.c171{fill:#205cac;stroke:#205cac}.c172{fill:#30a484;stroke:#30a484}.c173{fill:#98d064;stroke:#98d064}.c174{fill:#44ac7c;stroke:#44ac7c}.c175{fill:#205ca8;stroke:#205ca8}.c176{fill:#2058a8;stroke:#2058a8}.c177{fill:#30a480;stroke:#30a480}.c178{fill:#44b07c;stroke:#44b07c}.c179{fill:#7cc46c;stroke:#7cc46c}.c180{fill:#5cbc70;stroke:#5cbc70}.c181{fill:#48b078;stroke:#48b078}.c182{fill:#74cc78;stroke:#74cc78}.c183{fill:#60bc70;stroke:#60bc70}.c184{fill:#2054a8;stroke:#2054a8}.c185{fill:#7cc468;stroke:#7cc468}.c186{fill:#2054a4;stroke:#2054a4}.c187{fill:#9cd064;stroke:#9cd064}.c188{fill:#80c868;stroke:#80c868}.c189{fill:#2050a4;stroke:#2050a4}.c190{fill:#64bc70;stroke:#64bc70}.c191{fill:#80d074;stroke:#80d074}.c192{fill:#204ca4;stroke:#204ca4}.c193{fill:#68c070;stroke:#68c070}.c194{fill:#84c868;stroke:#84c868}.c195{fill:#a0d064;stroke:#a0d064}.c196{fill:#a0d060;stroke:#a0d060}.m{fill:none;stroke:#3a3a44;stroke-width:.8}</style>
<g stroke-linejoin="round" stroke-linecap="round">
<path class="c0" d="M357.3 342.0L371.1 345.0L374.6 342.5L360.7 339.5Z"/>
<path class="c0" d="M353.8 344.5L367.5 347.5L371.1 345.0L357.3 342.0Z"/>
<path class="c0" d="M371.1 345.0L384.2 347.8L387.9 345.3L374.6 342.5Z"/>
<path class="c0" d="M350.3 347.1L363.8 350.1L367.5 347.5L353.8 344.5Z"/>
<path class="c0" d="M367.5 347.5L380.5 350.3L384.2 347.8L371.1 345.0Z"/>
<path class="c0" d="M384.2 347.8L396.8 350.4L400.6 347.9L387.9 345.3Z"/>
<path class="c0" d="M346.7 349.7L360.1 352.7L363.8 350.1L350.3 347.1Z"/>
<path class="c0" d="M363.8 350.1L376.7 352.9L380.5 350.3L367.5 347.5Z"/>
<path class="c0" d="M380.5 350.3L393.0 352.9L396.8 350.4L384.2 347.8Z"/>
<path class="c0" d="M396.8 350.4L408.8 352.8L412.7 350.3L400.6 347.9Z"/>
<path class="c0" d="M343.1 352.3L356.4 355.3L360.1 352.7L346.7 349.7Z"/>
<path class="c0" d="M360.1 352.7L372.9 355.4L376.7 352.9L363.8 350.1Z"/>
<path class="c0" d="M376.7 352.9L389.1 355.4L393.0 352.9L380.5 350.3Z"/>
<path class="c0" d="M393.0 352.9L404.8 355.3L408.8 352.8L396.8 350.4Z"/>
<path class="c1" d="M408.8 352.8L420.1 354.9L424.1 352.4L412.7 350.3Z"/>
<path class="c0" d="M339.5 355.0L352.6 357.9L356.4 355.3L343.1 352.3Z"/>
<path class="c0" d="M356.4 355.3L369.1 358.1L372.9 355.4L360.1 352.7Z"/>
<path class="c0" d="M372.9 355.4L385.2 358.0L389.1 355.4L376.7 352.9Z"/>
<path class="c1" d="M389.1 355.4L400.8 357.8L404.8 355.3L393.0 352.9Z"/>
<path class="c1" d="M404.8 355.3L416.1 357.3L420.1 354.9L408.8 352.8Z"/>
<path class="c1" d="M420.1 354.9L430.8 356.7L434.9 354.2L424.1 352.4Z"/>
<path class="c0" d="M335.8 357.7L348.8 360.6L352.6 357.9L339.5 355.0Z"/>
<path class="c0" d="M352.6 357.9L365.2 360.7L369.1 358.1L356.4 355.3Z"/>
<path class="c0" d="M369.1 358.1L381.2 360.6L385.2 358.0L372.9 355.4Z"/>
<path class="c1" d="M385.2 358.0L396.8 360.3L400.8 357.8L389.1 355.4Z"/>
<path class="c1" d="M400.8 357.8L412.0 359.9L416.1 357.3L404.8 355.3Z"/>
<path class="c1" d="M416.1 357.3L426.6 359.1L430.8 356.7L420.1 354.9Z"/>
<path class="c1" d="M430.8 356.7L440.8 358.2L445.0 355.8L434.9 354.2Z"/>
<path class="c0" d="M332.1 360.4L344.9 363.3L348.8 360.6L335.8 357.7Z"/>
<path class="c0" d="M348.8 360.6L361.3 363.3L365.2 360.7L352.6 357.9Z"/>
<path class="c0" d="M365.2 360.7L377.2 363.2L381.2 360.6L369.1 358.1Z"/>
<path class="c1" d="M381.2 360.6L392.7 362.9L396.8 360.3L385.2 358.0Z"/>
<path class="c1" d="M396.8 360.3L407.8 362.4L412.0 359.9L400.8 357.8Z"/>
<path class="c1" d="M412.0 359.9L422.4 361.6L426.6 359.1L416.1 357.3Z"/>
<path class="c1" d="M426.6 359.1L436.6 360.6L440.8 358.2L430.8 356.7Z"/>
<path class="c0" d="M328.3 363.1L341.1 366.0L344.9 363.3L332.1 360.4Z"/>
<path class="c1" d="M440.8 358.2L450.2 359.3L454.5 356.9L445.0 355.8Z"/>
<path class="c0" d="M344.9 363.3L357.3 366.0L361.3 363.3L348.8 360.6Z"/>
<path class="c0" d="M361.3 363.3L373.1 365.8L377.2 363.2L365.2 360.7Z"/>
<path class="c1" d="M377.2 363.2L388.6 365.5L392.7 362.9L381.2 360.6Z"/>
<path class="c1" d="M392.7 362.9L403.6 364.9L407.8 362.4L396.8 360.3Z"/>
<path class="c1" d="M407.8 362.4L418.2 364.1L422.4 361.6L412.0 359.9Z"/>
<path class="c1" d="M422.4 361.6L432.3 363.1L436.6 360.6L426.6 359.1Z"/>
<path class="c1" d="M436.6 360.6L445.9 361.7L450.2 359.3L440.8 358.2Z"/>
<path class="c1" d="M450.2 359.3L458.9 360.0L463.3 357.6L454.5 356.9Z"/>
<path class="c0" d="M324.5 365.9L337.1 368.8L341.1 366.0L328.3 363.1Z"/>
<path class="c0" d="M341.1 366.0L353.3 368.7L357.3 366.0L344.9 363.3Z"/>
<path class="c0" d="M357.3 366.0L369.0 368.5L373.1 365.8L361.3 363.3Z"/>
<path class="c1" d="M373.1 365.8L384.4 368.1L388.6 365.5L377.2 363.2Z"/>
<path class="c1" d="M388.6 365.5L399.4 367.5L403.6 364.9L392.7 362.9Z"/>
<path class="c1" d="M403.6 364.9L413.9 366.7L418.2 364.1L407.8 362.4Z"/>
<path class="c1" d="M418.2 364.1L427.9 365.6L432.3 363.1L422.4 361.6Z"/>
<path class="c1" d="M432.3 363.1L441.5 364.2L445.9 361.7L436.6 360.6Z"/>
<path class="c1" d="M445.9 361.7L454.5 362.4L458.9 360.0L450.2 359.3Z"/>
<path class="c2" d="M458.9 360.0L467.0 360.2L471.5 357.9L463.3 357.6Z"/>
<path class="c0" d="M320.6 368.7L333.1 371.6L337.1 368.8L324.5 365.9Z"/>
<path class="c0" d="M337.1 368.8L349.2 371.5L353.3 368.7L341.1 366.0Z"/>
<path class="c0" d="M353.3 368.7L364.9 371.2L369.0 368.5L357.3 366.0Z"/>
<path class="c1" d="M369.0 368.5L380.2 370.8L384.4 368.1L373.1 365.8Z"/>
<path class="c1" d="M384.4 368.1L395.1 370.1L399.4 367.5L388.6 365.5Z"/>
<path class="c1" d="M399.4 367.5L409.5 369.2L413.9 366.7L403.6 364.9Z"/>
<path class="c1" d="M413.9 366.7L423.5 368.1L427.9 365.6L418.2 364.1Z"/>
<path class="c1" d="M427.9 365.6L437.0 366.7L441.5 364.2L432.3 363.1Z"/>
<path class="c1" d="M441.5 364.2L450.0 364.8L454.5 362.4L445.9 361.7Z"/>
<path class="c3" d="M454.5 362.4L462.5 362.6L467.0 360.2L458.9 360.0Z"/>
<path class="c4" d="M467.0 360.2L474.4 359.8L478.9 357.5L471.5 357.9Z"/>
<path class="c0" d="M316.7 371.5L329.1 374.4L333.1 371.6L320.6 368.7Z"/>
<path class="c0" d="M333.1 371.6L345.1 374.2L349.2 371.5L337.1 368.8Z"/>
<path class="c0" d="M349.2 371.5L360.7 373.9L364.9 371.2L353.3 368.7Z"/>
<path class="c1" d="M364.9 371.2L375.9 373.5L380.2 370.8L369.0 368.5Z"/>
<path class="c1" d="M380.2 370.8L390.8 372.8L395.1 370.1L384.4 368.1Z"/>
<path class="c1" d="M395.1 370.1L405.2 371.8L409.5 369.2L399.4 367.5Z"/>
<path class="c1" d="M409.5 369.2L419.1 370.6L423.5 368.1L413.9 366.7Z"/>
<path class="c1" d="M423.5 368.1L432.5 369.2L437.0 366.7L427.9 365.6Z"/>
<path class="c1" d="M437.0 366.7L445.5 367.3L450.0 364.8L441.5 364.2Z"/>
<path class="c3" d="M450.0 364.8L457.9 365.0L462.5 362.6L454.5 362.4Z"/>
<path class="c4" d="M462.5 362.6L469.8 362.2L474.4 359.8L467.0 360.2Z"/>
<path class="c5" d="M474.4 359.8L481.2 358.7L485.8 356.4L478.9 357.5Z"/>
<path class="c0" d="M312.8 374.4L325.0 377.2L329.1 374.4L316.7 371.5Z"/>
<path class="c0" d="M329.1 374.4L340.9 377.0L345.1 374.2L333.1 371.6Z"/>
<path class="c1" d="M345.1 374.2L356.5 376.7L360.7 373.9L349.2 371.5Z"/>
<path class="c1" d="M360.7 373.9L371.6 376.2L375.9 373.5L364.9 371.2Z"/>
<path class="c1" d="M375.9 373.5L386.4 375.4L390.8 372.8L380.2 370.8Z"/>
<path class="c1" d="M390.8 372.8L400.7 374.4L405.2 371.8L395.1 370.1Z"/>
<path class="c1" d="M405.2 371.8L414.6 373.2L419.1 370.6L409.5 369.2Z"/>
<path class="c1" d="M419.1 370.6L428.0 371.7L432.5 369.2L423.5 368.1Z"/>
<path class="c1" d="M432.5 369.2L440.9 369.8L445.5 367.3L437.0 366.7Z"/>
<path class="c3" d="M445.5 367.3L453.3 367.4L457.9 365.0L450.0 364.8Z"/>
<path class="c6" d="M457.9 365.0L465.1 364.6L469.8 362.2L462.5 362.6Z"/>
<path class="c7" d="M469.8 362.2L476.5 361.0L481.2 358.7L474.4 359.8Z"/>
<path class="c0" d="M308.8 377.3L320.9 380.1L325.0 377.2L312.8 374.4Z"/>
<path class="c8" d="M481.2 358.7L487.3 356.7L492.0 354.4L485.8 356.4Z"/>
<path class="c0" d="M325.0 377.2L336.7 379.9L340.9 377.0L329.1 374.4Z"/>
<path class="c1" d="M340.9 377.0L352.2 379.5L356.5 376.7L345.1 374.2Z"/>
<path class="c1" d="M356.5 376.7L367.3 378.9L371.6 376.2L360.7 373.9Z"/>
<path class="c1" d="M371.6 376.2L382.0 378.1L386.4 375.4L375.9 373.5Z"/>
<path class="c1" d="M386.4 375.4L396.2 377.1L400.7 374.4L390.8 372.8Z"/>
<path class="c1" d="M400.7 374.4L410.1 375.8L414.6 373.2L405.2 371.8Z"/>
<path class="c1" d="M414.6 373.2L423.4 374.2L428.0 371.7L419.1 370.6Z"/>
<path class="c1" d="M428.0 371.7L436.3 372.3L440.9 369.8L432.5 369.2Z"/>
<path class="c3" d="M440.9 369.8L448.6 369.9L453.3 367.4L445.5 367.3Z"/>
<path class="c9" d="M453.3 367.4L460.5 366.9L465.1 364.6L457.9 365.0Z"/>
<path class="c7" d="M465.1 364.6L471.8 363.4L476.5 361.0L469.8 362.2Z"/>
<path class="c8" d="M476.5 361.0L482.6 359.0L487.3 356.7L481.2 358.7Z"/>
<path class="c0" d="M304.8 380.2L316.7 383.0L320.9 380.1L308.8 377.3Z"/>
<path class="c0" d="M320.9 380.1L332.5 382.7L336.7 379.9L325.0 377.2Z"/>
<path class="c10" d="M487.3 356.7L492.9 353.5L497.6 351.3L492.0 354.4Z"/>
<path class="c1" d="M336.7 379.9L347.8 382.3L352.2 379.5L340.9 377.0Z"/>
<path class="c1" d="M352.2 379.5L362.9 381.7L367.3 378.9L356.5 376.7Z"/>
<path class="c1" d="M367.3 378.9L377.5 380.8L382.0 378.1L371.6 376.2Z"/>
<path class="c1" d="M382.0 378.1L391.7 379.8L396.2 377.1L386.4 375.4Z"/>
<path class="c1" d="M396.2 377.1L405.5 378.4L410.1 375.8L400.7 374.4Z"/>
<path class="c1" d="M410.1 375.8L418.8 376.8L423.4 374.2L414.6 373.2Z"/>
<path class="c1" d="M423.4 374.2L431.6 374.8L436.3 372.3L428.0 371.7Z"/>
<path class="c3" d="M436.3 372.3L443.9 372.3L448.6 369.9L440.9 369.8Z"/>
<path class="c9" d="M448.6 369.9L455.7 369.4L460.5 366.9L453.3 367.4Z"/>
<path class="c7" d="M460.5 366.9L467.0 365.7L471.8 363.4L465.1 364.6Z"/>
<path class="c11" d="M471.8 363.4L477.8 361.3L482.6 359.0L476.5 361.0Z"/>
<path class="c0" d="M300.7 383.2L312.5 386.0L316.7 383.0L304.8 380.2Z"/>
<path class="c10" d="M482.6 359.0L488.1 355.8L492.9 353.5L487.3 356.7Z"/>
<path class="c0" d="M316.7 383.0L328.1 385.6L332.5 382.7L320.9 380.1Z"/>
<path class="c1" d="M332.5 382.7L343.5 385.1L347.8 382.3L336.7 379.9Z"/>
<path class="c1" d="M347.8 382.3L358.4 384.4L362.9 381.7L352.2 379.5Z"/>
<path class="c1" d="M362.9 381.7L373.0 383.6L377.5 380.8L367.3 378.9Z"/>
<path class="c1" d="M377.5 380.8L387.1 382.4L391.7 379.8L382.0 378.1Z"/>
<path class="c1" d="M391.7 379.8L400.8 381.1L405.5 378.4L396.2 377.1Z"/>
<path class="c1" d="M405.5 378.4L414.1 379.4L418.8 376.8L410.1 375.8Z"/>
<path class="c1" d="M418.8 376.8L426.9 377.3L431.6 374.8L423.4 374.2Z"/>
<path class="c12" d="M492.9 353.5L497.9 349.6L502.7 347.3L497.6 351.3Z"/>
<path class="c13" d="M431.6 374.8L439.2 374.8L443.9 372.3L436.3 372.3Z"/>
<path class="c9" d="M443.9 372.3L450.9 371.8L455.7 369.4L448.6 369.9Z"/>
<path class="c14" d="M455.7 369.4L462.2 368.1L467.0 365.7L460.5 366.9Z"/>
<path class="c15" d="M467.0 365.7L473.0 363.6L477.8 361.3L471.8 363.4Z"/>
<path class="c10" d="M477.8 361.3L483.2 358.0L488.1 355.8L482.6 359.0Z"/>
<path class="c0" d="M296.6 386.2L308.2 388.9L312.5 386.0L300.7 383.2Z"/>
<path class="c0" d="M312.5 386.0L323.8 388.5L328.1 385.6L316.7 383.0Z"/>
<path class="c1" d="M328.1 385.6L339.0 388.0L343.5 385.1L332.5 382.7Z"/>
<path class="c1" d="M343.5 385.1L353.9 387.3L358.4 384.4L347.8 382.3Z"/>
<path class="c1" d="M358.4 384.4L368.4 386.3L373.0 383.6L362.9 381.7Z"/>
<path class="c1" d="M373.0 383.6L382.5 385.2L387.1 382.4L377.5 380.8Z"/>
<path class="c1" d="M387.1 382.4L396.2 383.7L400.8 381.1L391.7 379.8Z"/>
<path class="c1" d="M400.8 381.1L409.4 382.0L414.1 379.4L405.5 378.4Z"/>
<path class="c12" d="M488.1 355.8L493.0 351.8L497.9 349.6L492.9 353.5Z"/>
<path class="c1" d="M414.1 379.4L422.1 379.9L426.9 377.3L418.8 376.8Z"/>
<path class="c13" d="M426.9 377.3L434.3 377.3L439.2 374.8L431.6 374.8Z"/>
<path class="c9" d="M439.2 374.8L446.1 374.3L450.9 371.8L443.9 372.3Z"/>
<path class="c14" d="M450.9 371.8L457.3 370.5L462.2 368.1L455.7 369.4Z"/>
<path class="c16" d="M497.9 349.6L502.1 346.0L507.0 343.7L502.7 347.3Z"/>
<path class="c15" d="M462.2 368.1L468.1 365.9L473.0 363.6L467.0 365.7Z"/>
<path class="c10" d="M473.0 363.6L478.3 360.3L483.2 358.0L477.8 361.3Z"/>
<path class="c0" d="M292.4 389.2L303.9 392.0L308.2 388.9L296.6 386.2Z"/>
<path class="c0" d="M308.2 388.9L319.4 391.5L323.8 388.5L312.5 386.0Z"/>
<path class="c1" d="M323.8 388.5L334.5 390.9L339.0 388.0L328.1 385.6Z"/>
<path class="c1" d="M339.0 388.0L349.4 390.1L353.9 387.3L343.5 385.1Z"/>
<path class="c12" d="M483.2 358.0L488.1 354.2L493.0 351.8L488.1 355.8Z"/>
<path class="c1" d="M353.9 387.3L363.8 389.1L368.4 386.3L358.4 384.4Z"/>
<path class="c1" d="M368.4 386.3L377.8 387.9L382.5 385.2L373.0 383.6Z"/>
<path class="c1" d="M382.5 385.2L391.4 386.4L396.2 383.7L387.1 382.4Z"/>
<path class="c1" d="M396.2 383.7L404.6 384.6L409.4 382.0L400.8 381.1Z"/>
<path class="c1" d="M409.4 382.0L417.3 382.5L422.1 379.9L414.1 379.4Z"/>
<path class="c13" d="M422.1 379.9L429.5 379.9L434.3 377.3L426.9 377.3Z"/>
<path class="c17" d="M434.3 377.3L441.2 376.7L446.1 374.3L439.2 374.8Z"/>
<path class="c14" d="M446.1 374.3L452.4 372.9L457.3 370.5L450.9 371.8Z"/>
<path class="c16" d="M493.0 351.8L497.2 348.2L502.1 346.0L497.9 349.6Z"/>
<path class="c15" d="M457.3 370.5L463.1 368.3L468.1 365.9L462.2 368.1Z"/>
<path class="c18" d="M502.1 346.0L505.8 341.2L510.8 339.0L507.0 343.7Z"/>
<path class="c19" d="M468.1 365.9L473.4 362.6L478.3 360.3L473.0 363.6Z"/>
<path class="c0" d="M288.2 392.3L299.5 395.0L303.9 392.0L292.4 389.2Z"/>
<path class="c0" d="M303.9 392.0L314.9 394.5L319.4 391.5L308.2 388.9Z"/>
<path class="c20" d="M478.3 360.3L483.1 356.5L488.1 354.2L483.2 358.0Z"/>
<path class="c1" d="M319.4 391.5L330.0 393.8L334.5 390.9L323.8 388.5Z"/>
<path class="c1" d="M334.5 390.9L344.7 393.0L349.4 390.1L339.0 388.0Z"/>
<path class="c1" d="M404.6 384.6L412.4 385.1L417.3 382.5L409.4 382.0Z"/>
<path class="c1" d="M391.4 386.4L399.8 387.3L404.6 384.6L396.2 383.7Z"/>
<path class="c1" d="M349.4 390.1L359.1 392.0L363.8 389.1L353.9 387.3Z"/>
<path class="c1" d="M377.8 387.9L386.6 389.2L391.4 386.4L382.5 385.2Z"/>
<path class="c21" d="M417.3 382.5L424.6 382.4L429.5 379.9L422.1 379.9Z"/>
<path class="c1" d="M363.8 389.1L373.1 390.7L377.8 387.9L368.4 386.3Z"/>
<path class="c17" d="M429.5 379.9L436.3 379.2L441.2 376.7L434.3 377.3Z"/>
<path class="c22" d="M441.2 376.7L447.4 375.4L452.4 372.9L446.1 374.3Z"/>
<path class="c23" d="M488.1 354.2L492.2 350.5L497.2 348.2L493.0 351.8Z"/>
<path class="c24" d="M452.4 372.9L458.1 370.7L463.1 368.3L457.3 370.5Z"/>
<path class="c18" d="M497.2 348.2L500.8 343.5L505.8 341.2L502.1 346.0Z"/>
<path class="c25" d="M463.1 368.3L468.4 364.9L473.4 362.6L468.1 365.9Z"/>
<path class="c20" d="M473.4 362.6L478.0 358.8L483.1 356.5L478.3 360.3Z"/>
<path class="c26" d="M505.8 341.2L509.0 335.4L514.0 333.2L510.8 339.0Z"/>
<path class="c0" d="M283.9 395.4L295.1 398.1L299.5 395.0L288.2 392.3Z"/>
<path class="c1" d="M299.5 395.0L310.4 397.5L314.9 394.5L303.9 392.0Z"/>
<path class="c1" d="M399.8 387.3L407.5 387.7L412.4 385.1L404.6 384.6Z"/>
<path class="c21" d="M412.4 385.1L419.6 385.0L424.6 382.4L417.3 382.5Z"/>
<path class="c1" d="M386.6 389.2L394.9 390.0L399.8 387.3L391.4 386.4Z"/>
<path class="c27" d="M556.5 372.3L559.0 373.9L562.1 370.2L559.8 368.6Z"/>
<path class="c1" d="M314.9 394.5L325.4 396.8L330.0 393.8L319.4 391.5Z"/>
<path class="c1" d="M373.1 390.7L381.8 391.9L386.6 389.2L377.8 387.9Z"/>
<path class="c28" d="M554.2 370.6L556.5 372.3L559.8 368.6L557.6 366.9Z"/>
<path class="c29" d="M559.0 373.9L561.6 375.5L564.5 371.8L562.1 370.2Z"/>
<path class="c1" d="M359.1 392.0L368.3 393.5L373.1 390.7L363.8 389.1Z"/>
<path class="c17" d="M424.6 382.4L431.3 381.8L436.3 379.2L429.5 379.9Z"/>
<path class="c1" d="M330.0 393.8L340.1 395.9L344.7 393.0L334.5 390.9Z"/>
<path class="c1" d="M344.7 393.0L354.4 394.8L359.1 392.0L349.4 390.1Z"/>
<path class="c30" d="M552.0 368.8L554.2 370.6L557.6 366.9L555.6 365.2Z"/>
<path class="c31" d="M561.6 375.5L564.3 377.1L567.1 373.4L564.5 371.8Z"/>
<path class="c22" d="M436.3 379.2L442.4 377.8L447.4 375.4L441.2 376.7Z"/>
<path class="c32" d="M550.0 367.0L552.0 368.8L555.6 365.2L553.7 363.4Z"/>
<path class="c23" d="M483.1 356.5L487.2 352.8L492.2 350.5L488.1 354.2Z"/>
<path class="c33" d="M548.1 365.1L550.0 367.0L553.7 363.4L551.9 361.5Z"/>
<path class="c34" d="M447.4 375.4L453.1 373.1L458.1 370.7L452.4 372.9Z"/>
<path class="c35" d="M546.3 363.1L548.1 365.1L551.9 361.5L550.3 359.6Z"/>
<path class="c18" d="M492.2 350.5L495.8 345.8L500.8 343.5L497.2 348.2Z"/>
<path class="c36" d="M544.6 361.1L546.3 363.1L550.3 359.6L548.7 357.5Z"/>
<path class="c19" d="M458.1 370.7L463.3 367.2L468.4 364.9L463.1 368.3Z"/>
<path class="c37" d="M543.1 358.9L544.6 361.1L548.7 357.5L547.3 355.4Z"/>
<path class="c20" d="M468.4 364.9L473.0 361.2L478.0 358.8L473.4 362.6Z"/>
<path class="c38" d="M541.7 356.7L543.1 358.9L547.3 355.4L546.0 353.1Z"/>
<path class="c39" d="M500.8 343.5L503.9 337.6L509.0 335.4L505.8 341.2Z"/>
<path class="c40" d="M550.8 374.2L553.3 375.9L556.5 372.3L554.2 370.6Z"/>
<path class="c29" d="M553.3 375.9L555.9 377.6L559.0 373.9L556.5 372.3Z"/>
<path class="c41" d="M548.4 372.4L550.8 374.2L554.2 370.6L552.0 368.8Z"/>
<path class="c42" d="M555.9 377.6L558.6 379.2L561.6 375.5L559.0 373.9Z"/>
<path class="c4" d="M407.5 387.7L414.6 387.6L419.6 385.0L412.4 385.1Z"/>
<path class="c1" d="M394.9 390.0L402.5 390.4L407.5 387.7L399.8 387.3Z"/>
<path class="c43" d="M546.3 370.6L548.4 372.4L552.0 368.8L550.0 367.0Z"/>
<path class="c1" d="M381.8 391.9L389.9 392.7L394.9 390.0L386.6 389.2Z"/>
<path class="c44" d="M419.6 385.0L426.2 384.3L431.3 381.8L424.6 382.4Z"/>
<path class="c45" d="M558.6 379.2L561.6 380.8L564.3 377.1L561.6 375.5Z"/>
<path class="c0" d="M279.5 398.5L290.6 401.2L295.1 398.1L283.9 395.4Z"/>
<path class="c1" d="M368.3 393.5L376.9 394.7L381.8 391.9L373.1 390.7Z"/>
<path class="c1" d="M354.4 394.8L363.5 396.3L368.3 393.5L359.1 392.0Z"/>
<path class="c1" d="M295.1 398.1L305.9 400.6L310.4 397.5L299.5 395.0Z"/>
<path class="c46" d="M544.2 368.7L546.3 370.6L550.0 367.0L548.1 365.1Z"/>
<path class="c1" d="M340.1 395.9L349.6 397.7L354.4 394.8L344.7 393.0Z"/>
<path class="c1" d="M310.4 397.5L320.8 399.8L325.4 396.8L314.9 394.5Z"/>
<path class="c1" d="M325.4 396.8L335.4 398.8L340.1 395.9L330.0 393.8Z"/>
<path class="c22" d="M431.3 381.8L437.3 380.3L442.4 377.8L436.3 379.2Z"/>
<path class="c47" d="M540.4 354.3L541.7 356.7L546.0 353.1L544.9 350.8Z"/>
<path class="c23" d="M478.0 358.8L482.1 355.2L487.2 352.8L483.1 356.5Z"/>
<path class="c48" d="M542.3 366.7L544.2 368.7L548.1 365.1L546.3 363.1Z"/>
<path class="c49" d="M442.4 377.8L448.0 375.5L453.1 373.1L447.4 375.4Z"/>
<path class="c35" d="M540.5 364.6L542.3 366.7L546.3 363.1L544.6 361.1Z"/>
<path class="c50" d="M509.0 335.4L511.6 328.9L516.6 326.6L514.0 333.2Z"/>
<path class="c51" d="M539.3 351.8L540.4 354.3L544.9 350.8L543.8 348.3Z"/>
<path class="c52" d="M487.2 352.8L490.7 348.1L495.8 345.8L492.2 350.5Z"/>
<path class="c53" d="M538.9 362.4L540.5 364.6L544.6 361.1L543.1 358.9Z"/>
<path class="c19" d="M453.1 373.1L458.2 369.6L463.3 367.2L458.1 370.7Z"/>
<path class="c54" d="M537.4 360.2L538.9 362.4L543.1 358.9L541.7 356.7Z"/>
<path class="c55" d="M538.3 349.2L539.3 351.8L543.8 348.3L542.9 345.8Z"/>
<path class="c39" d="M495.8 345.8L498.9 339.9L503.9 337.6L500.8 343.5Z"/>
<path class="c20" d="M463.3 367.2L467.8 363.6L473.0 361.2L468.4 364.9Z"/>
<path class="c27" d="M547.3 377.8L550.0 379.5L553.3 375.9L550.8 374.2Z"/>
<path class="c56" d="M544.8 376.0L547.3 377.8L550.8 374.2L548.4 372.4Z"/>
<path class="c42" d="M550.0 379.5L552.7 381.2L555.9 377.6L553.3 375.9Z"/>
<path class="c41" d="M542.5 374.1L544.8 376.0L548.4 372.4L546.3 370.6Z"/>
<path class="c45" d="M552.7 381.2L555.7 382.8L558.6 379.2L555.9 377.6Z"/>
<path class="c57" d="M536.0 357.8L537.4 360.2L541.7 356.7L540.4 354.3Z"/>
<path class="c32" d="M540.3 372.2L542.5 374.1L546.3 370.6L544.2 368.7Z"/>
<path class="c4" d="M402.5 390.4L409.5 390.3L414.6 387.6L407.5 387.7Z"/>
<path class="c58" d="M555.7 382.8L558.8 384.5L561.6 380.8L558.6 379.2Z"/>
<path class="c2" d="M389.9 392.7L397.5 393.1L402.5 390.4L394.9 390.0Z"/>
<path class="c44" d="M414.6 387.6L421.1 386.9L426.2 384.3L419.6 385.0Z"/>
<path class="c1" d="M376.9 394.7L384.9 395.5L389.9 392.7L381.8 391.9Z"/>
<path class="c33" d="M538.2 370.2L540.3 372.2L544.2 368.7L542.3 366.7Z"/>
<path class="c59" d="M537.4 346.5L538.3 349.2L542.9 345.8L542.1 343.2Z"/>
<path class="c1" d="M363.5 396.3L372.0 397.5L376.9 394.7L368.3 393.5Z"/>
<path class="c1" d="M349.6 397.7L358.6 399.2L363.5 396.3L354.4 394.8Z"/>
<path class="c60" d="M426.2 384.3L432.2 382.8L437.3 380.3L431.3 381.8Z"/>
<path class="c61" d="M473.0 361.2L476.9 357.5L482.1 355.2L478.0 358.8Z"/>
<path class="c1" d="M335.4 398.8L344.8 400.6L349.6 397.7L340.1 395.9Z"/>
<path class="c0" d="M275.2 401.7L286.1 404.3L290.6 401.2L279.5 398.5Z"/>
<path class="c1" d="M320.8 399.8L330.6 401.8L335.4 398.8L325.4 396.8Z"/>
<path class="c1" d="M290.6 401.2L301.2 403.6L305.9 400.6L295.1 398.1Z"/>
<path class="c1" d="M305.9 400.6L316.1 402.8L320.8 399.8L310.4 397.5Z"/>
<path class="c62" d="M536.3 368.1L538.2 370.2L542.3 366.7L540.5 364.6Z"/>
<path class="c63" d="M534.7 355.3L536.0 357.8L540.4 354.3L539.3 351.8Z"/>
<path class="c49" d="M437.3 380.3L442.8 377.9L448.0 375.5L442.4 377.8Z"/>
<path class="c64" d="M503.9 337.6L506.5 331.1L511.6 328.9L509.0 335.4Z"/>
<path class="c36" d="M534.6 365.9L536.3 368.1L540.5 364.6L538.9 362.4Z"/>
<path class="c52" d="M482.1 355.2L485.6 350.4L490.7 348.1L487.2 352.8Z"/>
<path class="c65" d="M536.6 343.8L537.4 346.5L542.1 343.2L541.3 340.5Z"/>
<path class="c66" d="M533.6 352.6L534.7 355.3L539.3 351.8L538.3 349.2Z"/>
<path class="c67" d="M533.0 363.6L534.6 365.9L538.9 362.4L537.4 360.2Z"/>
<path class="c68" d="M448.0 375.5L453.0 372.0L458.2 369.6L453.1 373.1Z"/>
<path class="c38" d="M531.5 361.2L533.0 363.6L537.4 360.2L536.0 357.8Z"/>
<path class="c69" d="M511.6 328.9L513.5 322.7L518.6 320.5L516.6 326.6Z"/>
<path class="c40" d="M541.2 379.6L543.8 381.4L547.3 377.8L544.8 376.0Z"/>
<path class="c29" d="M543.8 381.4L546.6 383.1L550.0 379.5L547.3 377.8Z"/>
<path class="c41" d="M538.7 377.7L541.2 379.6L544.8 376.0L542.5 374.1Z"/>
<path class="c39" d="M490.7 348.1L493.7 342.2L498.9 339.9L495.8 345.8Z"/>
<path class="c70" d="M535.9 341.0L536.6 343.8L541.3 340.5L540.7 337.7Z"/>
<path class="c20" d="M458.2 369.6L462.6 366.0L467.8 363.6L463.3 367.2Z"/>
<path class="c31" d="M546.6 383.1L549.6 384.8L552.7 381.2L550.0 379.5Z"/>
<path class="c43" d="M536.4 375.8L538.7 377.7L542.5 374.1L540.3 372.2Z"/>
<path class="c71" d="M532.7 349.9L533.6 352.6L538.3 349.2L537.4 346.5Z"/>
<path class="c45" d="M549.6 384.8L552.7 386.5L555.7 382.8L552.7 381.2Z"/>
<path class="c46" d="M534.2 373.7L536.4 375.8L540.3 372.2L538.2 370.2Z"/>
<path class="c72" d="M552.7 386.5L556.0 388.1L558.8 384.5L555.7 382.8Z"/>
<path class="c4" d="M397.5 393.1L404.4 392.9L409.5 390.3L402.5 390.4Z"/>
<path class="c3" d="M384.9 395.5L392.4 395.8L397.5 393.1L389.9 392.7Z"/>
<path class="c47" d="M530.2 358.7L531.5 361.2L536.0 357.8L534.7 355.3Z"/>
<path class="c5" d="M409.5 390.3L415.9 389.5L421.1 386.9L414.6 387.6Z"/>
<path class="c48" d="M532.2 371.6L534.2 373.7L538.2 370.2L536.3 368.1Z"/>
<path class="c1" d="M372.0 397.5L379.9 398.2L384.9 395.5L376.9 394.7Z"/>
<path class="c61" d="M467.8 363.6L471.7 359.9L476.9 357.5L473.0 361.2Z"/>
<path class="c1" d="M358.6 399.2L367.0 400.3L372.0 397.5L363.5 396.3Z"/>
<path class="c60" d="M421.1 386.9L427.0 385.4L432.2 382.8L426.2 384.3Z"/>
<path class="c1" d="M344.8 400.6L353.6 402.1L358.6 399.2L349.6 397.7Z"/>
<path class="c73" d="M530.3 369.4L532.2 371.6L536.3 368.1L534.6 365.9Z"/>
<path class="c1" d="M330.6 401.8L339.9 403.6L344.8 400.6L335.4 398.8Z"/>
<path class="c1" d="M316.1 402.8L325.8 404.8L330.6 401.8L320.8 399.8Z"/>
<path class="c74" d="M531.8 347.1L532.7 349.9L537.4 346.5L536.6 343.8Z"/>
<path class="c1" d="M301.2 403.6L311.3 405.9L316.1 402.8L305.9 400.6Z"/>
<path class="c75" d="M535.4 338.1L535.9 341.0L540.7 337.7L540.2 335.0Z"/>
<path class="c1" d="M286.1 404.3L296.6 406.8L301.2 403.6L290.6 401.2Z"/>
<path class="c0" d="M270.7 404.9L281.5 407.5L286.1 404.3L275.2 401.7Z"/>
<path class="c49" d="M432.2 382.8L437.6 380.4L442.8 377.9L437.3 380.3Z"/>
<path class="c64" d="M498.9 339.9L501.3 333.4L506.5 331.1L503.9 337.6Z"/>
<path class="c51" d="M529.0 356.0L530.2 358.7L534.7 355.3L533.6 352.6Z"/>
<path class="c52" d="M476.9 357.5L480.4 352.7L485.6 350.4L482.1 355.2Z"/>
<path class="c53" d="M528.6 367.1L530.3 369.4L534.6 365.9L533.0 363.6Z"/>
<path class="c68" d="M442.8 377.9L447.8 374.4L453.0 372.0L448.0 375.5Z"/>
<path class="c54" d="M527.0 364.7L528.6 367.1L533.0 363.6L531.5 361.2Z"/>
<path class="c76" d="M531.1 344.2L531.8 347.1L536.6 343.8L535.9 341.0Z"/>
<path class="c77" d="M534.9 335.3L535.4 338.1L540.2 335.0L539.8 332.2Z"/>
<path class="c78" d="M527.9 353.3L529.0 356.0L533.6 352.6L532.7 349.9Z"/>
<path class="c27" d="M537.5 383.1L540.3 385.0L543.8 381.4L541.2 379.6Z"/>
<path class="c56" d="M534.9 381.2L537.5 383.1L541.2 379.6L538.7 377.7Z"/>
<path class="c69" d="M506.5 331.1L508.4 325.0L513.5 322.7L511.6 328.9Z"/>
<path class="c42" d="M540.3 385.0L543.2 386.7L546.6 383.1L543.8 381.4Z"/>
<path class="c41" d="M532.4 379.3L534.9 381.2L538.7 377.7L536.4 375.8Z"/>
<path class="c79" d="M485.6 350.4L488.5 344.5L493.7 342.2L490.7 348.1Z"/>
<path class="c45" d="M543.2 386.7L546.4 388.5L549.6 384.8L546.6 383.1Z"/>
<path class="c32" d="M530.1 377.3L532.4 379.3L536.4 375.8L534.2 373.7Z"/>
<path class="c80" d="M453.0 372.0L457.4 368.5L462.6 366.0L458.2 369.6Z"/>
<path class="c81" d="M525.5 362.1L527.0 364.7L531.5 361.2L530.2 358.7Z"/>
<path class="c82" d="M513.5 322.7L514.7 318.4L519.8 316.1L518.6 320.5Z"/>
<path class="c58" d="M546.4 388.5L549.7 390.2L552.7 386.5L549.6 384.8Z"/>
<path class="c33" d="M527.9 375.1L530.1 377.3L534.2 373.7L532.2 371.6Z"/>
<path class="c83" d="M549.7 390.2L553.1 391.8L556.0 388.1L552.7 386.5Z"/>
<path class="c4" d="M392.4 395.8L399.2 395.6L404.4 392.9L397.5 393.1Z"/>
<path class="c5" d="M404.4 392.9L410.7 392.1L415.9 389.5L409.5 390.3Z"/>
<path class="c3" d="M379.9 398.2L387.2 398.5L392.4 395.8L384.9 395.5Z"/>
<path class="c35" d="M525.9 372.9L527.9 375.1L532.2 371.6L530.3 369.4Z"/>
<path class="c84" d="M527.0 350.4L527.9 353.3L532.7 349.9L531.8 347.1Z"/>
<path class="c85" d="M530.4 341.3L531.1 344.2L535.9 341.0L535.4 338.1Z"/>
<path class="c61" d="M462.6 366.0L466.5 362.3L471.7 359.9L467.8 363.6Z"/>
<path class="c1" d="M367.0 400.3L374.8 401.0L379.9 398.2L372.0 397.5Z"/>
<path class="c86" d="M534.5 332.6L534.9 335.3L539.8 332.2L539.5 329.6Z"/>
<path class="c87" d="M415.9 389.5L421.8 387.9L427.0 385.4L421.1 386.9Z"/>
<path class="c1" d="M353.6 402.1L361.9 403.2L367.0 400.3L358.6 399.2Z"/>
<path class="c88" d="M524.3 359.5L525.5 362.1L530.2 358.7L529.0 356.0Z"/>
<path class="c1" d="M339.9 403.6L348.6 405.0L353.6 402.1L344.8 400.6Z"/>
<path class="c36" d="M524.1 370.6L525.9 372.9L530.3 369.4L528.6 367.1Z"/>
<path class="c1" d="M325.8 404.8L334.9 406.5L339.9 403.6L330.6 401.8Z"/>
<path class="c64" d="M493.7 342.2L496.1 335.7L501.3 333.4L498.9 339.9Z"/>
<path class="c49" d="M427.0 385.4L432.4 382.9L437.6 380.4L432.2 382.8Z"/>
<path class="c1" d="M311.3 405.9L320.9 407.8L325.8 404.8L316.1 402.8Z"/>
<path class="c1" d="M296.6 406.8L306.5 409.0L311.3 405.9L301.2 403.6Z"/>
<path class="c52" d="M471.7 359.9L475.1 355.1L480.4 352.7L476.9 357.5Z"/>
<path class="c1" d="M281.5 407.5L291.8 409.9L296.6 406.8L286.1 404.3Z"/>
<path class="c0" d="M266.2 408.1L276.9 410.7L281.5 407.5L270.7 404.9Z"/>
<path class="c54" d="M522.4 368.1L524.1 370.6L528.6 367.1L527.0 364.7Z"/>
<path class="c89" d="M526.2 347.5L527.0 350.4L531.8 347.1L531.1 344.2Z"/>
<path class="c90" d="M514.7 318.4L514.5 316.6L520.8 314.6L519.8 316.1Z"/>
<path class="c91" d="M529.9 338.4L530.4 341.3L535.4 338.1L534.9 335.3Z"/>
<path class="c55" d="M523.1 356.6L524.3 359.5L529.0 356.0L527.9 353.3Z"/>
<path class="c92" d="M534.2 330.0L534.5 332.6L539.5 329.6L539.2 327.1Z"/>
<path class="c68" d="M437.6 380.4L442.5 376.8L447.8 374.4L442.8 377.9Z"/>
<path class="c40" d="M531.0 384.8L533.8 386.7L537.5 383.1L534.9 381.2Z"/>
<path class="c29" d="M533.8 386.7L536.7 388.5L540.3 385.0L537.5 383.1Z"/>
<path class="c41" d="M528.4 382.8L531.0 384.8L534.9 381.2L532.4 379.3Z"/>
<path class="c69" d="M501.3 333.4L503.2 327.4L508.4 325.0L506.5 331.1Z"/>
<path class="c93" d="M520.9 365.6L522.4 368.1L527.0 364.7L525.5 362.1Z"/>
<path class="c31" d="M536.7 388.5L539.9 390.3L543.2 386.7L540.3 385.0Z"/>
<path class="c43" d="M525.9 380.8L528.4 382.8L532.4 379.3L530.1 377.3Z"/>
<path class="c79" d="M480.4 352.7L483.2 346.8L488.5 344.5L485.6 350.4Z"/>
<path class="c58" d="M539.9 390.3L543.2 392.1L546.4 388.5L543.2 386.7Z"/>
<path class="c94" d="M523.7 378.6L525.9 380.8L530.1 377.3L527.9 375.1Z"/>
<path class="c82" d="M508.4 325.0L509.5 320.7L514.7 318.4L513.5 322.7Z"/>
<path class="c80" d="M447.8 374.4L452.1 370.9L457.4 368.5L453.0 372.0Z"/>
<path class="c59" d="M522.1 353.7L523.1 356.6L527.9 353.3L527.0 350.4Z"/>
<path class="c72" d="M543.2 392.1L546.6 393.8L549.7 390.2L546.4 388.5Z"/>
<path class="c95" d="M525.5 344.5L526.2 347.5L531.1 344.2L530.4 341.3Z"/>
<path class="c96" d="M514.5 316.6L521.0 318.0L526.2 315.7L520.8 314.6Z"/>
<path class="c97" d="M534.0 327.6L534.2 330.0L539.2 327.1L539.0 324.8Z"/>
<path class="c48" d="M521.6 376.4L523.7 378.6L527.9 375.1L525.9 372.9Z"/>
<path class="c86" d="M529.5 335.5L529.9 338.4L534.9 335.3L534.5 332.6Z"/>
<path class="c63" d="M519.5 362.9L520.9 365.6L525.5 362.1L524.3 359.5Z"/>
<path class="c83" d="M546.6 393.8L550.3 395.5L553.1 391.8L549.7 390.2Z"/>
<path class="c61" d="M457.4 368.5L461.2 364.7L466.5 362.3L462.6 366.0Z"/>
<path class="c4" d="M387.2 398.5L393.9 398.3L399.2 395.6L392.4 395.8Z"/>
<path class="c5" d="M399.2 395.6L405.4 394.7L410.7 392.1L404.4 392.9Z"/>
<path class="c3" d="M374.8 401.0L382.0 401.3L387.2 398.5L379.9 398.2Z"/>
<path class="c98" d="M519.6 374.1L521.6 376.4L525.9 372.9L524.1 370.6Z"/>
<path class="c1" d="M361.9 403.2L369.6 403.9L374.8 401.0L367.0 400.3Z"/>
<path class="c99" d="M410.7 392.1L416.5 390.5L421.8 387.9L415.9 389.5Z"/>
<path class="c1" d="M348.6 405.0L356.8 406.1L361.9 403.2L353.6 402.1Z"/>
<path class="c64" d="M488.5 344.5L490.9 338.1L496.1 335.7L493.7 342.2Z"/>
<path class="c1" d="M334.9 406.5L343.5 407.9L348.6 405.0L339.9 403.6Z"/>
<path class="c100" d="M533.8 325.4L534.0 327.6L539.0 324.8L538.9 322.8Z"/>
<path class="c65" d="M521.2 350.7L522.1 353.7L527.0 350.4L526.2 347.5Z"/>
<path class="c101" d="M421.8 387.9L427.0 385.4L432.4 382.9L427.0 385.4Z"/>
<path class="c37" d="M517.8 371.6L519.6 374.1L524.1 370.6L522.4 368.1Z"/>
<path class="c1" d="M320.9 407.8L329.9 409.5L334.9 406.5L325.8 404.8Z"/>
<path class="c102" d="M466.5 362.3L469.8 357.4L475.1 355.1L471.7 359.9Z"/>
<path class="c66" d="M518.3 360.0L519.5 362.9L524.3 359.5L523.1 356.6Z"/>
<path class="c103" d="M524.9 341.5L525.5 344.5L530.4 341.3L529.9 338.4Z"/>
<path class="c104" d="M529.2 332.8L529.5 335.5L534.5 332.6L534.2 330.0Z"/>
<path class="c1" d="M306.5 409.0L316.0 410.9L320.9 407.8L311.3 405.9Z"/>
<path class="c90" d="M509.5 320.7L510.5 319.2L514.5 316.6L514.7 318.4Z"/>
<path class="c1" d="M291.8 409.9L301.7 412.1L306.5 409.0L296.6 406.8Z"/>
<path class="c1" d="M276.9 410.7L287.1 413.1L291.8 409.9L281.5 407.5Z"/>
<path class="c1" d="M261.7 411.4L272.2 414.0L276.9 410.7L266.2 408.1Z"/>
<path class="c38" d="M516.2 369.0L517.8 371.6L522.4 368.1L520.9 365.6Z"/>
<path class="c68" d="M432.4 382.9L437.1 379.2L442.5 376.8L437.6 380.4Z"/>
<path class="c105" d="M533.7 323.7L533.8 325.4L538.9 322.8L538.8 321.1Z"/>
<path class="c27" d="M527.1 388.3L530.0 390.3L533.8 386.7L531.0 384.8Z"/>
<path class="c56" d="M524.4 386.4L527.1 388.3L531.0 384.8L528.4 382.8Z"/>
<path class="c42" d="M530.0 390.3L533.1 392.1L536.7 388.5L533.8 386.7Z"/>
<path class="c69" d="M496.1 335.7L497.9 329.7L503.2 327.4L501.3 333.4Z"/>
<path class="c30" d="M521.8 384.3L524.4 386.4L528.4 382.8L525.9 380.8Z"/>
<path class="c45" d="M533.1 392.1L536.4 394.0L539.9 390.3L536.7 388.5Z"/>
<path class="c32" d="M519.4 382.1L521.8 384.3L525.9 380.8L523.7 378.6Z"/>
<path class="c106" d="M517.2 357.1L518.3 360.0L523.1 356.6L522.1 353.7Z"/>
<path class="c107" d="M520.5 347.7L521.2 350.7L526.2 347.5L525.5 344.5Z"/>
<path class="c79" d="M475.1 355.1L477.9 349.2L483.2 346.8L480.4 352.7Z"/>
<path class="c82" d="M503.2 327.4L504.3 323.1L509.5 320.7L508.4 325.0Z"/>
<path class="c58" d="M536.4 394.0L539.9 395.8L543.2 392.1L539.9 390.3Z"/>
<path class="c97" d="M528.9 330.3L529.2 332.8L534.2 330.0L534.0 327.6Z"/>
<path class="c108" d="M524.5 338.5L524.9 341.5L529.9 338.4L529.5 335.5Z"/>
<path class="c109" d="M517.1 379.9L519.4 382.1L523.7 378.6L521.6 376.4Z"/>
<path class="c110" d="M533.6 322.3L533.7 323.7L538.8 321.1L538.7 319.8Z"/>
<path class="c111" d="M442.5 376.8L446.7 373.4L452.1 370.9L447.8 374.4Z"/>
<path class="c47" d="M514.7 366.3L516.2 369.0L520.9 365.6L519.5 362.9Z"/>
<path class="c96" d="M510.5 319.2L515.9 320.4L521.0 318.0L514.5 316.6Z"/>
<path class="c96" d="M526.0 319.0L532.7 320.4L539.5 318.4L531.1 316.7Z"/>
<path class="c83" d="M539.9 395.8L543.6 397.5L546.6 393.8L543.2 392.1Z"/>
<path class="c35" d="M515.1 377.5L517.1 379.9L521.6 376.4L519.6 374.1Z"/>
<path class="c112" d="M533.6 321.3L533.6 322.3L538.7 319.8L538.7 318.9Z"/>
<path class="c113" d="M543.6 397.5L547.4 399.3L550.3 395.5L546.6 393.8Z"/>
<path class="c61" d="M452.1 370.9L455.8 367.2L461.2 364.7L457.4 368.5Z"/>
<path class="c9" d="M382.0 401.3L388.6 401.0L393.9 398.3L387.2 398.5Z"/>
<path class="c5" d="M393.9 398.3L400.1 397.4L405.4 394.7L399.2 395.6Z"/>
<path class="c3" d="M369.6 403.9L376.7 404.1L382.0 401.3L374.8 401.0Z"/>
<path class="c74" d="M516.3 354.0L517.2 357.1L522.1 353.7L521.2 350.7Z"/>
<path class="c114" d="M533.6 320.8L533.6 321.3L538.7 318.9L538.7 318.4Z"/>
<path class="c100" d="M528.7 328.1L528.9 330.3L534.0 327.6L533.8 325.4Z"/>
<path class="c99" d="M405.4 394.7L411.1 393.1L416.5 390.5L410.7 392.1Z"/>
<path class="c53" d="M513.2 375.0L515.1 377.5L519.6 374.1L517.8 371.6Z"/>
<path class="c51" d="M513.4 363.4L514.7 366.3L519.5 362.9L518.3 360.0Z"/>
<path class="c115" d="M519.9 344.6L520.5 347.7L525.5 344.5L524.9 341.5Z"/>
<path class="c1" d="M356.8 406.1L364.4 406.7L369.6 403.9L361.9 403.2Z"/>
<path class="c116" d="M532.7 320.4L533.6 320.8L538.7 318.4L539.5 318.4Z"/>
<path class="c117" d="M483.2 346.8L485.6 340.4L490.9 338.1L488.5 344.5Z"/>
<path class="c118" d="M524.1 335.7L524.5 338.5L529.5 335.5L529.2 332.8Z"/>
<path class="c1" d="M343.5 407.9L351.6 409.0L356.8 406.1L348.6 405.0Z"/>
<path class="c119" d="M515.9 320.4L520.8 321.4L526.0 319.0L521.0 318.0Z"/>
<path class="c120" d="M416.5 390.5L421.7 387.9L427.0 385.4L421.8 387.9Z"/>
<path class="c102" d="M461.2 364.7L464.4 359.9L469.8 357.4L466.5 362.3Z"/>
<path class="c1" d="M329.9 409.5L338.4 410.9L343.5 407.9L334.9 406.5Z"/>
<path class="c90" d="M504.3 323.1L504.0 321.3L510.5 319.2L509.5 320.7Z"/>
<path class="c1" d="M316.0 410.9L324.9 412.6L329.9 409.5L320.9 407.8Z"/>
<path class="c54" d="M511.5 372.4L513.2 375.0L517.8 371.6L516.2 369.0Z"/>
<path class="c1" d="M301.7 412.1L311.0 414.0L316.0 410.9L306.5 409.0Z"/>
<path class="c105" d="M528.6 326.2L528.7 328.1L533.8 325.4L533.7 323.7Z"/>
<path class="c1" d="M287.1 413.1L296.7 415.3L301.7 412.1L291.8 409.9Z"/>
<path class="c40" d="M520.3 389.9L523.2 391.9L527.1 388.3L524.4 386.4Z"/>
<path class="c29" d="M523.2 391.9L526.2 393.8L530.0 390.3L527.1 388.3Z"/>
<path class="c71" d="M512.3 360.4L513.4 363.4L518.3 360.0L517.2 357.1Z"/>
<path class="c41" d="M517.6 387.8L520.3 389.9L524.4 386.4L521.8 384.3Z"/>
<path class="c70" d="M515.5 350.9L516.3 354.0L521.2 350.7L520.5 347.7Z"/>
<path class="c68" d="M427.0 385.4L431.7 381.7L437.1 379.2L432.4 382.9Z"/>
<path class="c1" d="M272.2 414.0L282.2 416.3L287.1 413.1L276.9 410.7Z"/>
<path class="c31" d="M526.2 393.8L529.5 395.7L533.1 392.1L530.0 390.3Z"/>
<path class="c69" d="M490.9 338.1L492.6 332.1L497.9 329.7L496.1 335.7Z"/>
<path class="c43" d="M515.0 385.6L517.6 387.8L521.8 384.3L519.4 382.1Z"/>
<path class="c1" d="M257.1 414.7L267.4 417.3L272.2 414.0L261.7 411.4Z"/>
<path class="c121" d="M519.4 341.6L519.9 344.6L524.9 341.5L524.5 338.5Z"/>
<path class="c90" d="M523.8 333.1L524.1 335.7L529.2 332.8L528.9 330.3Z"/>
<path class="c58" d="M529.5 395.7L533.0 397.6L536.4 394.0L533.1 392.1Z"/>
<path class="c81" d="M509.9 369.7L511.5 372.4L516.2 369.0L514.7 366.3Z"/>
<path class="c79" d="M469.8 357.4L472.6 351.6L477.9 349.2L475.1 355.1Z"/>
<path class="c82" d="M497.9 329.7L499.0 325.5L504.3 323.1L503.2 327.4Z"/>
<path class="c33" d="M512.7 383.4L515.0 385.6L519.4 382.1L517.1 379.9Z"/>
<path class="c122" d="M528.5 324.7L528.6 326.2L533.7 323.7L533.6 322.3Z"/>
<path class="c72" d="M533.0 397.6L536.6 399.4L539.9 395.8L536.4 394.0Z"/>
<path class="c96" d="M504.0 321.3L510.6 322.7L515.9 320.4L510.5 319.2Z"/>
<path class="c96" d="M520.8 321.4L529.3 323.2L532.7 320.4L526.0 319.0Z"/>
<path class="c111" d="M437.1 379.2L441.3 375.9L446.7 373.4L442.5 376.8Z"/>
<path class="c35" d="M510.5 381.0L512.7 383.4L517.1 379.9L515.1 377.5Z"/>
<path class="c113" d="M536.6 399.4L540.4 401.2L543.6 397.5L539.9 395.8Z"/>
<path class="c112" d="M528.5 323.7L528.5 324.7L533.6 322.3L533.6 321.3Z"/>
<path class="c84" d="M511.2 357.3L512.3 360.4L517.2 357.1L516.3 354.0Z"/>
<path class="c75" d="M514.8 347.7L515.5 350.9L520.5 347.7L519.9 344.6Z"/>
<path class="c51" d="M508.5 366.8L509.9 369.7L514.7 366.3L513.4 363.4Z"/>
<path class="c123" d="M446.7 373.4L450.4 369.6L455.8 367.2L452.1 370.9Z"/>
<path class="c36" d="M508.5 378.5L510.5 381.0L515.1 377.5L513.2 375.0Z"/>
<path class="c124" d="M523.6 330.8L523.8 333.1L528.9 330.3L528.7 328.1Z"/>
<path class="c114" d="M528.4 323.2L528.5 323.7L533.6 321.3L533.6 320.8Z"/>
<path class="c125" d="M540.4 401.2L544.5 403.0L547.4 399.3L543.6 397.5Z"/>
<path class="c126" d="M519.0 338.6L519.4 341.6L524.5 338.5L524.1 335.7Z"/>
<path class="c9" d="M376.7 404.1L383.3 403.8L388.6 401.0L382.0 401.3Z"/>
<path class="c7" d="M388.6 401.0L394.7 400.1L400.1 397.4L393.9 398.3Z"/>
<path class="c116" d="M529.3 323.2L528.4 323.2L533.6 320.8L532.7 320.4Z"/>
<path class="c13" d="M364.4 406.7L371.4 406.9L376.7 404.1L369.6 403.9Z"/>
<path class="c117" d="M477.9 349.2L480.2 342.8L485.6 340.4L483.2 346.8Z"/>
<path class="c99" d="M400.1 397.4L405.7 395.7L411.1 393.1L405.4 394.7Z"/>
<path class="c1" d="M351.6 409.0L359.1 409.6L364.4 406.7L356.8 406.1Z"/>
<path class="c119" d="M510.6 322.7L515.6 323.8L520.8 321.4L515.9 320.4Z"/>
<path class="c54" d="M506.7 375.8L508.5 378.5L513.2 375.0L511.5 372.4Z"/>
<path class="c1" d="M338.4 410.9L346.3 411.9L351.6 409.0L343.5 407.9Z"/>
<path class="c102" d="M455.8 367.2L459.0 362.3L464.4 359.9L461.2 364.7Z"/>
<path class="c90" d="M499.0 325.5L500.0 324.0L504.0 321.3L504.3 323.1Z"/>
<path class="c120" d="M411.1 393.1L416.2 390.5L421.7 387.9L416.5 390.5Z"/>
<path class="c1" d="M324.9 412.6L333.2 413.9L338.4 410.9L329.9 409.5Z"/>
<path class="c105" d="M523.4 328.8L523.6 330.8L528.7 328.1L528.6 326.2Z"/>
<path class="c78" d="M507.3 363.7L508.5 366.8L513.4 363.4L512.3 360.4Z"/>
<path class="c76" d="M510.4 354.1L511.2 357.3L516.3 354.0L515.5 350.9Z"/>
<path class="c1" d="M311.0 414.0L319.7 415.6L324.9 412.6L316.0 410.9Z"/>
<path class="c27" d="M516.2 393.4L519.2 395.5L523.2 391.9L520.3 389.9Z"/>
<path class="c41" d="M513.3 391.3L516.2 393.4L520.3 389.9L517.6 387.8Z"/>
<path class="c77" d="M514.2 344.6L514.8 347.7L519.9 344.6L519.4 341.6Z"/>
<path class="c42" d="M519.2 395.5L522.4 397.4L526.2 393.8L523.2 391.9Z"/>
<path class="c43" d="M510.7 389.1L513.3 391.3L517.6 387.8L515.0 385.6Z"/>
<path class="c90" d="M518.6 335.9L519.0 338.6L524.1 335.7L523.8 333.1Z"/>
<path class="c93" d="M505.0 373.1L506.7 375.8L511.5 372.4L509.9 369.7Z"/>
<path class="c1" d="M296.7 415.3L305.9 417.1L311.0 414.0L301.7 412.1Z"/>
<path class="c69" d="M485.6 340.4L487.3 334.5L492.6 332.1L490.9 338.1Z"/>
<path class="c45" d="M522.4 397.4L525.8 399.3L529.5 395.7L526.2 393.8Z"/>
<path class="c127" d="M421.7 387.9L426.3 384.2L431.7 381.7L427.0 385.4Z"/>
<path class="c46" d="M508.2 386.8L510.7 389.1L515.0 385.6L512.7 383.4Z"/>
<path class="c1" d="M282.2 416.3L291.8 418.5L296.7 415.3L287.1 413.1Z"/>
<path class="c58" d="M525.8 399.3L529.5 401.2L533.0 397.6L529.5 395.7Z"/>
<path class="c122" d="M523.3 327.3L523.4 328.8L528.6 326.2L528.5 324.7Z"/>
<path class="c82" d="M492.6 332.1L493.7 327.9L499.0 325.5L497.9 329.7Z"/>
<path class="c128" d="M464.4 359.9L467.1 354.0L472.6 351.6L469.8 357.4Z"/>
<path class="c1" d="M267.4 417.3L277.3 419.6L282.2 416.3L272.2 414.0Z"/>
<path class="c96" d="M500.0 324.0L505.4 325.1L510.6 322.7L504.0 321.3Z"/>
<path class="c48" d="M505.9 384.5L508.2 386.8L512.7 383.4L510.5 381.0Z"/>
<path class="c96" d="M515.6 323.8L522.4 325.2L529.3 323.2L520.8 321.4Z"/>
<path class="c1" d="M252.4 418.1L262.6 420.6L267.4 417.3L257.1 414.7Z"/>
<path class="c83" d="M529.5 401.2L533.3 403.1L536.6 399.4L533.0 397.6Z"/>
<path class="c129" d="M506.2 360.6L507.3 363.7L512.3 360.4L511.2 357.3Z"/>
<path class="c111" d="M431.7 381.7L435.8 378.5L441.3 375.9L437.1 379.2Z"/>
<path class="c85" d="M509.6 350.8L510.4 354.1L515.5 350.9L514.8 347.7Z"/>
<path class="c88" d="M503.5 370.1L505.0 373.1L509.9 369.7L508.5 366.8Z"/>
<path class="c112" d="M523.3 326.2L523.3 327.3L528.5 324.7L528.5 323.7Z"/>
<path class="c98" d="M503.8 381.9L505.9 384.5L510.5 381.0L508.5 378.5Z"/>
<path class="c113" d="M533.3 403.1L537.3 404.9L540.4 401.2L536.6 399.4Z"/>
<path class="c130" d="M518.4 333.5L518.6 335.9L523.8 333.1L523.6 330.8Z"/>
<path class="c131" d="M513.8 341.6L514.2 344.6L519.4 341.6L519.0 338.6Z"/>
<path class="c114" d="M523.2 325.6L523.3 326.2L528.5 323.7L528.4 323.2Z"/>
<path class="c123" d="M441.3 375.9L444.9 372.1L450.4 369.6L446.7 373.4Z"/>
<path class="c116" d="M522.4 325.2L523.2 325.6L528.4 323.2L529.3 323.2Z"/>
<path class="c125" d="M537.3 404.9L541.5 406.7L544.5 403.0L540.4 401.2Z"/>
<path class="c117" d="M472.6 351.6L474.8 345.2L480.2 342.8L477.9 349.2Z"/>
<path class="c7" d="M383.3 403.8L389.3 402.8L394.7 400.1L388.6 401.0Z"/>
<path class="c37" d="M501.9 379.3L503.8 381.9L508.5 378.5L506.7 375.8Z"/>
<path class="c9" d="M371.4 406.9L377.8 406.6L383.3 403.8L376.7 404.1Z"/>
<path class="c119" d="M505.4 325.1L510.4 326.2L515.6 323.8L510.6 322.7Z"/>
<path class="c13" d="M359.1 409.6L366.0 409.8L371.4 406.9L364.4 406.7Z"/>
<path class="c8" d="M394.7 400.1L400.2 398.4L405.7 395.7L400.1 397.4Z"/>
<path class="c55" d="M502.2 367.1L503.5 370.1L508.5 366.8L507.3 363.7Z"/>
<path class="c89" d="M505.2 357.3L506.2 360.6L511.2 357.3L510.4 354.1Z"/>
<path class="c90" d="M493.7 327.9L493.4 326.1L500.0 324.0L499.0 325.5Z"/>
<path class="c1" d="M346.3 411.9L353.7 412.5L359.1 409.6L351.6 409.0Z"/>
<path class="c105" d="M518.2 331.4L518.4 333.5L523.6 330.8L523.4 328.8Z"/>
<path class="c102" d="M450.4 369.6L453.5 364.7L459.0 362.3L455.8 367.2Z"/>
<path class="c132" d="M405.7 395.7L410.7 393.1L416.2 390.5L411.1 393.1Z"/>
<path class="c91" d="M509.0 347.6L509.6 350.8L514.8 347.7L514.2 344.6Z"/>
<path class="c1" d="M333.2 413.9L341.0 414.9L346.3 411.9L338.4 410.9Z"/>
<path class="c38" d="M500.1 376.5L501.9 379.3L506.7 375.8L505.0 373.1Z"/>
<path class="c133" d="M513.4 338.7L513.8 341.6L519.0 338.6L518.6 335.9Z"/>
<path class="c56" d="M509.0 394.8L512.0 397.0L516.2 393.4L513.3 391.3Z"/>
<path class="c29" d="M512.0 397.0L515.2 399.0L519.2 395.5L516.2 393.4Z"/>
<path class="c1" d="M319.7 415.6L328.0 417.0L333.2 413.9L324.9 412.6Z"/>
<path class="c41" d="M506.2 392.6L509.0 394.8L513.3 391.3L510.7 389.1Z"/>
<path class="c31" d="M515.2 399.0L518.6 401.0L522.4 397.4L519.2 395.5Z"/>
<path class="c69" d="M480.2 342.8L481.8 336.9L487.3 334.5L485.6 340.4Z"/>
<path class="c32" d="M503.6 390.3L506.2 392.6L510.7 389.1L508.2 386.8Z"/>
<path class="c45" d="M518.6 401.0L522.2 403.0L525.8 399.3L522.4 397.4Z"/>
<path class="c1" d="M305.9 417.1L314.5 418.7L319.7 415.6L311.0 414.0Z"/>
<path class="c122" d="M518.1 329.8L518.2 331.4L523.4 328.8L523.3 327.3Z"/>
<path class="c127" d="M416.2 390.5L420.7 386.7L426.3 384.2L421.7 387.9Z"/>
<path class="c82" d="M487.3 334.5L488.3 330.3L493.7 327.9L492.6 332.1Z"/>
<path class="c1" d="M291.8 418.5L300.8 420.3L305.9 417.1L296.7 415.3Z"/>
<path class="c59" d="M501.1 363.9L502.2 367.1L507.3 363.7L506.2 360.6Z"/>
<path class="c109" d="M501.2 387.9L503.6 390.3L508.2 386.8L505.9 384.5Z"/>
<path class="c72" d="M522.2 403.0L525.9 404.9L529.5 401.2L525.8 399.3Z"/>
<path class="c96" d="M493.4 326.1L500.0 327.6L505.4 325.1L500.0 324.0Z"/>
<path class="c134" d="M459.0 362.3L461.6 356.4L467.1 354.0L464.4 359.9Z"/>
<path class="c96" d="M510.4 326.2L518.9 328.0L522.4 325.2L515.6 323.8Z"/>
<path class="c85" d="M504.4 354.0L505.2 357.3L510.4 354.1L509.6 350.8Z"/>
<path class="c63" d="M498.5 373.5L500.1 376.5L505.0 373.1L503.5 370.1Z"/>
<path class="c1" d="M277.3 419.6L286.7 421.7L291.8 418.5L282.2 416.3Z"/>
<path class="c83" d="M525.9 404.9L529.9 406.8L533.3 403.1L529.5 401.2Z"/>
<path class="c112" d="M518.0 328.7L518.1 329.8L523.3 327.3L523.3 326.2Z"/>
<path class="c35" d="M499.0 385.4L501.2 387.9L505.9 384.5L503.8 381.9Z"/>
<path class="c1" d="M262.6 420.6L272.4 422.9L277.3 419.6L267.4 417.3Z"/>
<path class="c86" d="M508.5 344.5L509.0 347.6L514.2 344.6L513.8 341.6Z"/>
<path class="c130" d="M513.2 336.2L513.4 338.7L518.6 335.9L518.4 333.5Z"/>
<path class="c135" d="M426.3 384.2L430.3 381.0L435.8 378.5L431.7 381.7Z"/>
<path class="c1" d="M247.7 421.5L257.7 424.0L262.6 420.6L252.4 418.1Z"/>
<path class="c114" d="M518.0 328.0L518.0 328.7L523.3 326.2L523.2 325.6Z"/>
<path class="c125" d="M529.9 406.8L534.1 408.6L537.3 404.9L533.3 403.1Z"/>
<path class="c116" d="M518.9 328.0L518.0 328.0L523.2 325.6L522.4 325.2Z"/>
<path class="c53" d="M497.0 382.7L499.0 385.4L503.8 381.9L501.9 379.3Z"/>
<path class="c136" d="M435.8 378.5L439.4 374.6L444.9 372.1L441.3 375.9Z"/>
<path class="c66" d="M497.1 370.4L498.5 373.5L503.5 370.1L502.2 367.1Z"/>
<path class="c65" d="M500.1 360.5L501.1 363.9L506.2 360.6L505.2 357.3Z"/>
<path class="c117" d="M467.1 354.0L469.3 347.6L474.8 345.2L472.6 351.6Z"/>
<path class="c119" d="M500.0 327.6L505.0 328.7L510.4 326.2L505.4 325.1Z"/>
<path class="c137" d="M534.1 408.6L538.6 410.5L541.5 406.7L537.3 404.9Z"/>
<path class="c14" d="M377.8 406.6L383.7 405.6L389.3 402.8L383.3 403.8Z"/>
<path class="c9" d="M366.0 409.8L372.4 409.4L377.8 406.6L371.4 406.9Z"/>
<path class="c138" d="M513.0 334.0L513.2 336.2L518.4 333.5L518.2 331.4Z"/>
<path class="c90" d="M488.3 330.3L489.2 328.9L493.4 326.1L493.7 327.9Z"/>
<path class="c91" d="M503.8 350.7L504.4 354.0L509.6 350.8L509.0 347.6Z"/>
<path class="c8" d="M389.3 402.8L394.7 401.0L400.2 398.4L394.7 400.1Z"/>
<path class="c13" d="M353.7 412.5L360.5 412.7L366.0 409.8L359.1 409.6Z"/>
<path class="c38" d="M495.2 379.9L497.0 382.7L501.9 379.3L500.1 376.5Z"/>
<path class="c139" d="M444.9 372.1L448.0 367.2L453.5 364.7L450.4 369.6Z"/>
<path class="c133" d="M508.2 341.6L508.5 344.5L513.8 341.6L513.4 338.7Z"/>
<path class="c1" d="M341.0 414.9L348.3 415.5L353.7 412.5L346.3 411.9Z"/>
<path class="c40" d="M504.7 398.4L507.8 400.5L512.0 397.0L509.0 394.8Z"/>
<path class="c132" d="M400.2 398.4L405.1 395.7L410.7 393.1L405.7 395.7Z"/>
<path class="c29" d="M507.8 400.5L511.1 402.6L515.2 399.0L512.0 397.0Z"/>
<path class="c41" d="M501.8 396.2L504.7 398.4L509.0 394.8L506.2 392.6Z"/>
<path class="c1" d="M328.0 417.0L335.7 417.9L341.0 414.9L333.2 413.9Z"/>
<path class="c31" d="M511.1 402.6L514.7 404.6L518.6 401.0L515.2 399.0Z"/>
<path class="c43" d="M499.1 393.8L501.8 396.2L506.2 392.6L503.6 390.3Z"/>
<path class="c69" d="M474.8 345.2L476.4 339.3L481.8 336.9L480.2 342.8Z"/>
<path class="c106" d="M495.9 367.2L497.1 370.4L502.2 367.1L501.1 363.9Z"/>
<path class="c122" d="M512.8 332.3L513.0 334.0L518.2 331.4L518.1 329.8Z"/>
<path class="c1" d="M314.5 418.7L322.7 420.0L328.0 417.0L319.7 415.6Z"/>
<path class="c58" d="M514.7 404.6L518.4 406.6L522.2 403.0L518.6 401.0Z"/>
<path class="c33" d="M496.6 391.4L499.1 393.8L503.6 390.3L501.2 387.9Z"/>
<path class="c82" d="M481.8 336.9L482.8 332.7L488.3 330.3L487.3 334.5Z"/>
<path class="c95" d="M499.2 357.2L500.1 360.5L505.2 357.3L504.4 354.0Z"/>
<path class="c47" d="M493.5 376.9L495.2 379.9L500.1 376.5L498.5 373.5Z"/>
<path class="c96" d="M489.2 328.9L494.6 330.0L500.0 327.6L493.4 326.1Z"/>
<path class="c1" d="M300.8 420.3L309.3 421.9L314.5 418.7L305.9 417.1Z"/>
<path class="c127" d="M410.7 393.1L415.2 389.2L420.7 386.7L416.2 390.5Z"/>
<path class="c83" d="M518.4 406.6L522.4 408.6L525.9 404.9L522.2 403.0Z"/>
<path class="c96" d="M505.0 328.7L511.8 330.1L518.9 328.0L510.4 326.2Z"/>
<path class="c134" d="M453.5 364.7L456.1 358.9L461.6 356.4L459.0 362.3Z"/>
<path class="c86" d="M503.3 347.5L503.8 350.7L509.0 347.6L508.5 344.5Z"/>
<path class="c35" d="M494.2 388.9L496.6 391.4L501.2 387.9L499.0 385.4Z"/>
<path class="c140" d="M507.9 339.0L508.2 341.6L513.4 338.7L513.2 336.2Z"/>
<path class="c1" d="M286.7 421.7L295.6 423.5L300.8 420.3L291.8 418.5Z"/>
<path class="c112" d="M512.8 331.2L512.8 332.3L518.1 329.8L518.0 328.7Z"/>
<path class="c113" d="M522.4 408.6L526.5 410.5L529.9 406.8L525.9 404.9Z"/>
<path class="c1" d="M272.4 422.9L281.6 425.0L286.7 421.7L277.3 419.6Z"/>
<path class="c135" d="M420.7 386.7L424.7 383.6L430.3 381.0L426.3 384.2Z"/>
<path class="c114" d="M512.7 330.5L512.8 331.2L518.0 328.7L518.0 328.0Z"/>
<path class="c141" d="M492.1 386.2L494.2 388.9L499.0 385.4L497.0 382.7Z"/>
<path class="c1" d="M257.7 424.0L267.3 426.2L272.4 422.9L262.6 420.6Z"/>
<path class="c65" d="M494.8 363.8L495.9 367.2L501.1 363.9L500.1 360.5Z"/>
<path class="c51" d="M492.0 373.8L493.5 376.9L498.5 373.5L497.1 370.4Z"/>
<path class="c116" d="M511.8 330.1L512.7 330.5L518.0 328.0L518.9 328.0Z"/>
<path class="c125" d="M526.5 410.5L530.9 412.4L534.1 408.6L529.9 406.8Z"/>
<path class="c136" d="M430.3 381.0L433.8 377.2L439.4 374.6L435.8 378.5Z"/>
<path class="c1" d="M242.9 424.9L252.8 427.4L257.7 424.0L247.7 421.5Z"/>
<path class="c103" d="M498.5 353.8L499.2 357.2L504.4 354.0L503.8 350.7Z"/>
<path class="c119" d="M494.6 330.0L499.7 331.1L505.0 328.7L500.0 327.6Z"/>
<path class="c117" d="M461.6 356.4L463.7 350.1L469.3 347.6L467.1 354.0Z"/>
<path class="c138" d="M507.6 336.7L507.9 339.0L513.2 336.2L513.0 334.0Z"/>
<path class="c90" d="M482.8 332.7L482.5 331.1L489.2 328.9L488.3 330.3Z"/>
<path class="c54" d="M490.2 383.3L492.1 386.2L497.0 382.7L495.2 379.9Z"/>
<path class="c133" d="M502.8 344.5L503.3 347.5L508.5 344.5L508.2 341.6Z"/>
<path class="c14" d="M372.4 409.4L378.1 408.3L383.7 405.6L377.8 406.6Z"/>
<path class="c142" d="M530.9 412.4L535.6 414.3L538.6 410.5L534.1 408.6Z"/>
<path class="c17" d="M360.5 412.7L366.8 412.2L372.4 409.4L366.0 409.8Z"/>
<path class="c15" d="M383.7 405.6L389.0 403.7L394.7 401.0L389.3 402.8Z"/>
<path class="c139" d="M439.4 374.6L442.4 369.7L448.0 367.2L444.9 372.1Z"/>
<path class="c21" d="M348.3 415.5L355.0 415.6L360.5 412.7L353.7 412.5Z"/>
<path class="c27" d="M500.3 401.9L503.6 404.1L507.8 400.5L504.7 398.4Z"/>
<path class="c41" d="M497.3 399.7L500.3 401.9L504.7 398.4L501.8 396.2Z"/>
<path class="c42" d="M503.6 404.1L507.0 406.2L511.1 402.6L507.8 400.5Z"/>
<path class="c71" d="M490.7 370.5L492.0 373.8L497.1 370.4L495.9 367.2Z"/>
<path class="c1" d="M335.7 417.9L342.8 418.4L348.3 415.5L341.0 414.9Z"/>
<path class="c43" d="M494.4 397.4L497.3 399.7L501.8 396.2L499.1 393.8Z"/>
<path class="c132" d="M394.7 401.0L399.5 398.3L405.1 395.7L400.2 398.4Z"/>
<path class="c45" d="M507.0 406.2L510.7 408.3L514.7 404.6L511.1 402.6Z"/>
<path class="c107" d="M493.9 360.4L494.8 363.8L500.1 360.5L499.2 357.2Z"/>
<path class="c122" d="M507.5 334.9L507.6 336.7L513.0 334.0L512.8 332.3Z"/>
<path class="c143" d="M469.3 347.6L470.8 341.8L476.4 339.3L474.8 345.2Z"/>
<path class="c81" d="M488.4 380.3L490.2 383.3L495.2 379.9L493.5 376.9Z"/>
<path class="c94" d="M491.8 394.9L494.4 397.4L499.1 393.8L496.6 391.4Z"/>
<path class="c1" d="M322.7 420.0L330.3 420.9L335.7 417.9L328.0 417.0Z"/>
<path class="c72" d="M510.7 408.3L514.6 410.3L518.4 406.6L514.7 404.6Z"/>
<path class="c82" d="M476.4 339.3L477.3 335.2L482.8 332.7L481.8 336.9Z"/>
<path class="c96" d="M482.5 331.1L489.2 332.5L494.6 330.0L489.2 328.9Z"/>
<path class="c108" d="M497.9 350.5L498.5 353.8L503.8 350.7L503.3 347.5Z"/>
<path class="c1" d="M309.3 421.9L317.3 423.1L322.7 420.0L314.5 418.7Z"/>
<path class="c96" d="M499.7 331.1L508.2 333.0L511.8 330.1L505.0 328.7Z"/>
<path class="c48" d="M489.4 392.3L491.8 394.9L496.6 391.4L494.2 388.9Z"/>
<path class="c140" d="M502.5 341.7L502.8 344.5L508.2 341.6L507.9 339.0Z"/>
<path class="c134" d="M448.0 367.2L450.5 361.4L456.1 358.9L453.5 364.7Z"/>
<path class="c144" d="M405.1 395.7L409.5 391.8L415.2 389.2L410.7 393.1Z"/>
<path class="c83" d="M514.6 410.3L518.8 412.3L522.4 408.6L518.4 406.6Z"/>
<path class="c112" d="M507.4 333.7L507.5 334.9L512.8 332.3L512.8 331.2Z"/>
<path class="c1" d="M295.6 423.5L304.0 425.1L309.3 421.9L300.8 420.3Z"/>
<path class="c36" d="M487.1 389.6L489.4 392.3L494.2 388.9L492.1 386.2Z"/>
<path class="c74" d="M489.6 367.1L490.7 370.5L495.9 367.2L494.8 363.8Z"/>
<path class="c51" d="M486.8 377.1L488.4 380.3L493.5 376.9L492.0 373.8Z"/>
<path class="c1" d="M281.6 425.0L290.4 426.8L295.6 423.5L286.7 421.7Z"/>
<path class="c125" d="M518.8 412.3L523.1 414.2L526.5 410.5L522.4 408.6Z"/>
<path class="c114" d="M507.4 333.0L507.4 333.7L512.8 331.2L512.7 330.5Z"/>
<path class="c135" d="M415.2 389.2L419.0 386.2L424.7 383.6L420.7 386.7Z"/>
<path class="c116" d="M508.2 333.0L507.4 333.0L512.7 330.5L511.8 330.1Z"/>
<path class="c115" d="M493.2 356.9L493.9 360.4L499.2 357.2L498.5 353.8Z"/>
<path class="c1" d="M267.3 426.2L276.4 428.3L281.6 425.0L272.4 422.9Z"/>
<path class="c145" d="M424.7 383.6L428.1 379.7L433.8 377.2L430.3 381.0Z"/>
<path class="c119" d="M489.2 332.5L494.2 333.6L499.7 331.1L494.6 330.0Z"/>
<path class="c138" d="M502.3 339.4L502.5 341.7L507.9 339.0L507.6 336.7Z"/>
<path class="c137" d="M523.1 414.2L527.7 416.2L530.9 412.4L526.5 410.5Z"/>
<path class="c54" d="M485.1 386.8L487.1 389.6L492.1 386.2L490.2 383.3Z"/>
<path class="c1" d="M252.8 427.4L262.2 429.6L267.3 426.2L257.7 424.0Z"/>
<path class="c146" d="M456.1 358.9L458.1 352.6L463.7 350.1L461.6 356.4Z"/>
<path class="c92" d="M497.5 347.4L497.9 350.5L503.3 347.5L502.8 344.5Z"/>
<path class="c90" d="M477.3 335.2L478.2 333.8L482.5 331.1L482.8 332.7Z"/>
<path class="c1" d="M238.1 428.4L247.8 430.8L252.8 427.4L242.9 424.9Z"/>
<path class="c78" d="M485.5 373.8L486.8 377.1L492.0 373.8L490.7 370.5Z"/>
<path class="c14" d="M366.8 412.2L372.5 411.1L378.1 408.3L372.4 409.4Z"/>
<path class="c56" d="M492.7 403.2L495.9 405.5L500.3 401.9L497.3 399.7Z"/>
<path class="c17" d="M355.0 415.6L361.2 415.1L366.8 412.2L360.5 412.7Z"/>
<path class="c29" d="M495.9 405.5L499.3 407.7L503.6 404.1L500.3 401.9Z"/>
<path class="c142" d="M527.7 416.2L532.5 418.1L535.6 414.3L530.9 412.4Z"/>
<path class="c147" d="M433.8 377.2L436.7 372.3L442.4 369.7L439.4 374.6Z"/>
<path class="c15" d="M378.1 408.3L383.4 406.5L389.0 403.7L383.7 405.6Z"/>
<path class="c70" d="M488.6 363.6L489.6 367.1L494.8 363.8L493.9 360.4Z"/>
<path class="c30" d="M489.8 400.9L492.7 403.2L497.3 399.7L494.4 397.4Z"/>
<path class="c31" d="M499.3 407.7L502.9 409.8L507.0 406.2L503.6 404.1Z"/>
<path class="c4" d="M342.8 418.4L349.4 418.5L355.0 415.6L348.3 415.5Z"/>
<path class="c57" d="M483.3 383.7L485.1 386.8L490.2 383.3L488.4 380.3Z"/>
<path class="c148" d="M502.1 337.5L502.3 339.4L507.6 336.7L507.5 334.9Z"/>
<path class="c46" d="M487.0 398.4L489.8 400.9L494.4 397.4L491.8 394.9Z"/>
<path class="c58" d="M502.9 409.8L506.8 411.9L510.7 408.3L507.0 406.2Z"/>
<path class="c143" d="M463.7 350.1L465.2 344.3L470.8 341.8L469.3 347.6Z"/>
<path class="c2" d="M330.3 420.9L337.3 421.4L342.8 418.4L335.7 417.9Z"/>
<path class="c10" d="M389.0 403.7L393.8 400.9L399.5 398.3L394.7 401.0Z"/>
<path class="c108" d="M492.5 353.5L493.2 356.9L498.5 353.8L497.9 350.5Z"/>
<path class="c82" d="M470.8 341.8L471.7 337.7L477.3 335.2L476.4 339.3Z"/>
<path class="c96" d="M478.2 333.8L483.7 335.0L489.2 332.5L482.5 331.1Z"/>
<path class="c48" d="M484.5 395.8L487.0 398.4L491.8 394.9L489.4 392.3Z"/>
<path class="c72" d="M506.8 411.9L510.8 414.0L514.6 410.3L510.7 408.3Z"/>
<path class="c149" d="M497.1 344.5L497.5 347.4L502.8 344.5L502.5 341.7Z"/>
<path class="c1" d="M317.3 423.1L324.8 424.0L330.3 420.9L322.7 420.0Z"/>
<path class="c96" d="M494.2 333.6L501.1 335.1L508.2 333.0L499.7 331.1Z"/>
<path class="c112" d="M502.0 336.2L502.1 337.5L507.5 334.9L507.4 333.7Z"/>
<path class="c150" d="M442.4 369.7L444.8 363.9L450.5 361.4L448.0 367.2Z"/>
<path class="c1" d="M304.0 425.1L311.9 426.3L317.3 423.1L309.3 421.9Z"/>
<path class="c113" d="M510.8 414.0L515.1 416.0L518.8 412.3L514.6 410.3Z"/>
<path class="c84" d="M484.2 370.4L485.5 373.8L490.7 370.5L489.6 367.1Z"/>
<path class="c12" d="M399.5 398.3L403.8 394.5L409.5 391.8L405.1 395.7Z"/>
<path class="c88" d="M481.6 380.5L483.3 383.7L488.4 380.3L486.8 377.1Z"/>
<path class="c73" d="M482.1 393.1L484.5 395.8L489.4 392.3L487.1 389.6Z"/>
<path class="c114" d="M501.9 335.5L502.0 336.2L507.4 333.7L507.4 333.0Z"/>
<path class="c1" d="M290.4 426.8L298.6 428.3L304.0 425.1L295.6 423.5Z"/>
<path class="c115" d="M487.8 360.0L488.6 363.6L493.9 360.4L493.2 356.9Z"/>
<path class="c116" d="M501.1 335.1L501.9 335.5L507.4 333.0L508.2 333.0Z"/>
<path class="c125" d="M515.1 416.0L519.7 418.0L523.1 414.2L518.8 412.3Z"/>
<path class="c151" d="M409.5 391.8L413.3 388.9L419.0 386.2L415.2 389.2Z"/>
<path class="c1" d="M276.4 428.3L285.0 430.0L290.4 426.8L281.6 425.0Z"/>
<path class="c37" d="M480.0 390.2L482.1 393.1L487.1 389.6L485.1 386.8Z"/>
<path class="c138" d="M496.8 342.1L497.1 344.5L502.5 341.7L502.3 339.4Z"/>
<path class="c104" d="M492.0 350.3L492.5 353.5L497.9 350.5L497.5 347.4Z"/>
<path class="c119" d="M483.7 335.0L488.7 336.2L494.2 333.6L489.2 332.5Z"/>
<path class="c145" d="M419.0 386.2L422.4 382.3L428.1 379.7L424.7 383.6Z"/>
<path class="c146" d="M450.5 361.4L452.4 355.1L458.1 352.6L456.1 358.9Z"/>
<path class="c90" d="M471.7 337.7L471.4 336.1L478.2 333.8L477.3 335.2Z"/>
<path class="c1" d="M262.2 429.6L271.2 431.6L276.4 428.3L267.3 426.2Z"/>
<path class="c142" d="M519.7 418.0L524.4 420.0L527.7 416.2L523.1 414.2Z"/>
<path class="c152" d="M480.1 377.2L481.6 380.5L486.8 377.1L485.5 373.8Z"/>
<path class="c76" d="M483.2 366.8L484.2 370.4L489.6 367.1L488.6 363.6Z"/>
<path class="c1" d="M247.8 430.8L257.1 433.0L262.2 429.6L252.8 427.4Z"/>
<path class="c40" d="M488.1 406.8L491.4 409.1L495.9 405.5L492.7 403.2Z"/>
<path class="c38" d="M478.1 387.2L480.0 390.2L485.1 386.8L483.3 383.7Z"/>
<path class="c29" d="M491.4 409.1L495.0 411.3L499.3 407.7L495.9 405.5Z"/>
<path class="c41" d="M485.0 404.4L488.1 406.8L492.7 403.2L489.8 400.9Z"/>
<path class="c147" d="M428.1 379.7L430.9 374.8L436.7 372.3L433.8 377.2Z"/>
<path class="c31" d="M495.0 411.3L498.7 413.5L502.9 409.8L499.3 407.7Z"/>
<path class="c22" d="M361.2 415.1L366.8 413.9L372.5 411.1L366.8 412.2Z"/>
<path class="c148" d="M496.7 340.2L496.8 342.1L502.3 339.4L502.1 337.5Z"/>
<path class="c32" d="M482.2 402.0L485.0 404.4L489.8 400.9L487.0 398.4Z"/>
<path class="c44" d="M349.4 418.5L355.5 418.0L361.2 415.1L355.0 415.6Z"/>
<path class="c1" d="M233.1 431.9L242.7 434.3L247.8 430.8L238.1 428.4Z"/>
<path class="c15" d="M372.5 411.1L377.6 409.2L383.4 406.5L378.1 408.3Z"/>
<path class="c121" d="M487.1 356.6L487.8 360.0L493.2 356.9L492.5 353.5Z"/>
<path class="c153" d="M524.4 420.0L529.4 422.0L532.5 418.1L527.7 416.2Z"/>
<path class="c4" d="M337.3 421.4L343.8 421.5L349.4 418.5L342.8 418.4Z"/>
<path class="c58" d="M498.7 413.5L502.7 415.6L506.8 411.9L502.9 409.8Z"/>
<path class="c143" d="M458.1 352.6L459.6 346.8L465.2 344.3L463.7 350.1Z"/>
<path class="c109" d="M479.5 399.3L482.2 402.0L487.0 398.4L484.5 395.8Z"/>
<path class="c97" d="M491.6 347.4L492.0 350.3L497.5 347.4L497.1 344.5Z"/>
<path class="c82" d="M465.2 344.3L466.1 340.3L471.7 337.7L470.8 341.8Z"/>
<path class="c96" d="M471.4 336.1L478.1 337.6L483.7 335.0L478.2 333.8Z"/>
<path class="c10" d="M383.4 406.5L388.0 403.6L393.8 400.9L389.0 403.7Z"/>
<path class="c3" d="M324.8 424.0L331.7 424.5L337.3 421.4L330.3 420.9Z"/>
<path class="c96" d="M488.7 336.2L497.3 338.0L501.1 335.1L494.2 333.6Z"/>
<path class="c83" d="M502.7 415.6L507.0 417.7L510.8 414.0L506.8 411.9Z"/>
<path class="c84" d="M478.9 373.7L480.1 377.2L485.5 373.8L484.2 370.4Z"/>
<path class="c112" d="M496.5 338.8L496.7 340.2L502.1 337.5L502.0 336.2Z"/>
<path class="c63" d="M476.3 383.9L478.1 387.2L483.3 383.7L481.6 380.5Z"/>
<path class="c35" d="M477.1 396.6L479.5 399.3L484.5 395.8L482.1 393.1Z"/>
<path class="c1" d="M311.9 426.3L319.2 427.1L324.8 424.0L317.3 423.1Z"/>
<path class="c150" d="M436.7 372.3L439.1 366.4L444.8 363.9L442.4 369.7Z"/>
<path class="c75" d="M482.3 363.2L483.2 366.8L488.6 363.6L487.8 360.0Z"/>
<path class="c113" d="M507.0 417.7L511.4 419.7L515.1 416.0L510.8 414.0Z"/>
<path class="c12" d="M393.8 400.9L398.0 397.3L403.8 394.5L399.5 398.3Z"/>
<path class="c114" d="M496.5 338.1L496.5 338.8L502.0 336.2L501.9 335.5Z"/>
<path class="c1" d="M298.6 428.3L306.3 429.4L311.9 426.3L304.0 425.1Z"/>
<path class="c116" d="M497.3 338.0L496.5 338.1L501.9 335.5L501.1 335.1Z"/>
<path class="c53" d="M474.9 393.7L477.1 396.6L482.1 393.1L480.0 390.2Z"/>
<path class="c118" d="M486.5 353.3L487.1 356.6L492.5 353.5L492.0 350.3Z"/>
<path class="c100" d="M491.3 344.9L491.6 347.4L497.1 344.5L496.8 342.1Z"/>
<path class="c1" d="M285.0 430.0L293.2 431.5L298.6 428.3L290.4 426.8Z"/>
<path class="c151" d="M403.8 394.5L407.5 391.6L413.3 388.9L409.5 391.8Z"/>
<path class="c137" d="M511.4 419.7L516.2 421.8L519.7 418.0L515.1 416.0Z"/>
<path class="c119" d="M478.1 337.6L483.2 338.7L488.7 336.2L483.7 335.0Z"/>
<path class="c55" d="M474.8 380.5L476.3 383.9L481.6 380.5L480.1 377.2Z"/>
<path class="c90" d="M466.1 340.3L467.0 338.9L471.4 336.1L471.7 337.7Z"/>
<path class="c145" d="M413.3 388.9L416.6 385.0L422.4 382.3L419.0 386.2Z"/>
<path class="c1" d="M271.2 431.6L279.7 433.3L285.0 430.0L276.4 428.3Z"/>
<path class="c146" d="M444.8 363.9L446.7 357.6L452.4 355.1L450.5 361.4Z"/>
<path class="c76" d="M477.8 370.0L478.9 373.7L484.2 370.4L483.2 366.8Z"/>
<path class="c38" d="M472.8 390.6L474.9 393.7L480.0 390.2L478.1 387.2Z"/>
<path class="c142" d="M516.2 421.8L521.1 423.8L524.4 420.0L519.7 418.0Z"/>
<path class="c27" d="M483.5 410.4L486.9 412.7L491.4 409.1L488.1 406.8Z"/>
<path class="c41" d="M480.3 408.0L483.5 410.4L488.1 406.8L485.0 404.4Z"/>
<path class="c1" d="M257.1 433.0L265.9 435.0L271.2 431.6L262.2 429.6Z"/>
<path class="c42" d="M486.9 412.7L490.6 414.9L495.0 411.3L491.4 409.1Z"/>
<path class="c154" d="M481.6 359.6L482.3 363.2L487.8 360.0L487.1 356.6Z"/>
<path class="c148" d="M491.1 342.9L491.3 344.9L496.8 342.1L496.7 340.2Z"/>
<path class="c43" d="M477.3 405.5L480.3 408.0L485.0 404.4L482.2 402.0Z"/>
<path class="c45" d="M490.6 414.9L494.5 417.1L498.7 413.5L495.0 411.3Z"/>
<path class="c147" d="M422.4 382.3L425.1 377.4L430.9 374.8L428.1 379.7Z"/>
<path class="c1" d="M242.7 434.3L251.9 436.5L257.1 433.0L247.8 430.8Z"/>
<path class="c22" d="M355.5 418.0L361.0 416.8L366.8 413.9L361.2 415.1Z"/>
<path class="c33" d="M474.5 402.9L477.3 405.5L482.2 402.0L479.5 399.3Z"/>
<path class="c97" d="M486.1 350.2L486.5 353.3L492.0 350.3L491.6 347.4Z"/>
<path class="c143" d="M452.4 355.1L453.9 349.4L459.6 346.8L458.1 352.6Z"/>
<path class="c5" d="M343.8 421.5L349.7 420.9L355.5 418.0L349.4 418.5Z"/>
<path class="c24" d="M366.8 413.9L371.8 412.0L377.6 409.2L372.5 411.1Z"/>
<path class="c72" d="M494.5 417.1L498.7 419.3L502.7 415.6L498.7 413.5Z"/>
<path class="c82" d="M459.6 346.8L460.4 342.8L466.1 340.3L465.2 344.3Z"/>
<path class="c155" d="M521.1 423.8L526.3 425.9L529.4 422.0L524.4 420.0Z"/>
<path class="c96" d="M467.0 338.9L472.5 340.1L478.1 337.6L471.4 336.1Z"/>
<path class="c59" d="M473.4 377.0L474.8 380.5L480.1 377.2L478.9 373.7Z"/>
<path class="c4" d="M331.7 424.5L338.1 424.5L343.8 421.5L337.3 421.4Z"/>
<path class="c63" d="M471.0 387.4L472.8 390.6L478.1 387.2L476.3 383.9Z"/>
<path class="c96" d="M483.2 338.7L490.0 340.2L497.3 338.0L488.7 336.2Z"/>
<path class="c1" d="M228.2 435.4L237.6 437.8L242.7 434.3L233.1 431.9Z"/>
<path class="c156" d="M491.0 341.4L491.1 342.9L496.7 340.2L496.5 338.8Z"/>
<path class="c10" d="M377.6 409.2L382.2 406.3L388.0 403.6L383.4 406.5Z"/>
<path class="c35" d="M472.0 400.1L474.5 402.9L479.5 399.3L477.1 396.6Z"/>
<path class="c83" d="M498.7 419.3L503.1 421.4L507.0 417.7L502.7 415.6Z"/>
<path class="c3" d="M319.2 427.1L326.0 427.5L331.7 424.5L324.8 424.0Z"/>
<path class="c157" d="M476.8 366.4L477.8 370.0L483.2 366.8L482.3 363.2Z"/>
<path class="c158" d="M430.9 374.8L433.3 369.0L439.1 366.4L436.7 372.3Z"/>
<path class="c114" d="M490.9 340.6L491.0 341.4L496.5 338.8L496.5 338.1Z"/>
<path class="c1" d="M306.3 429.4L313.6 430.2L319.2 427.1L311.9 426.3Z"/>
<path class="c125" d="M503.1 421.4L507.7 423.5L511.4 419.7L507.0 417.7Z"/>
<path class="c141" d="M469.7 397.2L472.0 400.1L477.1 396.6L474.9 393.7Z"/>
<path class="c12" d="M388.0 403.6L392.1 400.0L398.0 397.3L393.8 400.9Z"/>
<path class="c126" d="M481.0 356.3L481.6 359.6L487.1 356.6L486.5 353.3Z"/>
<path class="c116" d="M490.0 340.2L490.9 340.6L496.5 338.1L497.3 338.0Z"/>
<path class="c100" d="M485.8 347.6L486.1 350.2L491.6 347.4L491.3 344.9Z"/>
<path class="c1" d="M293.2 431.5L300.8 432.6L306.3 429.4L298.6 428.3Z"/>
<path class="c66" d="M469.4 383.9L471.0 387.4L476.3 383.9L474.8 380.5Z"/>
<path class="c119" d="M472.5 340.1L477.6 341.3L483.2 338.7L478.1 337.6Z"/>
<path class="c151" d="M398.0 397.3L401.7 394.2L407.5 391.6L403.8 394.5Z"/>
<path class="c89" d="M472.3 373.3L473.4 377.0L478.9 373.7L477.8 370.0Z"/>
<path class="c137" d="M507.7 423.5L512.6 425.6L516.2 421.8L511.4 419.7Z"/>
<path class="c90" d="M460.4 342.8L460.0 341.2L467.0 338.9L466.1 340.3Z"/>
<path class="c1" d="M279.7 433.3L287.7 434.8L293.2 431.5L285.0 430.0Z"/>
<path class="c159" d="M467.5 394.1L469.7 397.2L474.9 393.7L472.8 390.6Z"/>
<path class="c146" d="M439.1 366.4L440.9 360.2L446.7 357.6L444.8 363.9Z"/>
<path class="c145" d="M407.5 391.6L410.7 387.6L416.6 385.0L413.3 388.9Z"/>
<path class="c77" d="M476.0 362.7L476.8 366.4L482.3 363.2L481.6 359.6Z"/>
<path class="c29" d="M478.8 414.0L482.4 416.3L486.9 412.7L483.5 410.4Z"/>
<path class="c56" d="M475.5 411.6L478.8 414.0L483.5 410.4L480.3 408.0Z"/>
<path class="c1" d="M265.9 435.0L274.2 436.7L279.7 433.3L271.2 431.6Z"/>
<path class="c148" d="M485.6 345.6L485.8 347.6L491.3 344.9L491.1 342.9Z"/>
<path class="c31" d="M482.4 416.3L486.2 418.6L490.6 414.9L486.9 412.7Z"/>
<path class="c43" d="M472.4 409.1L475.5 411.6L480.3 408.0L477.3 405.5Z"/>
<path class="c142" d="M512.6 425.6L517.8 427.7L521.1 423.8L516.2 421.8Z"/>
<path class="c58" d="M486.2 418.6L490.2 420.8L494.5 417.1L490.6 414.9Z"/>
<path class="c97" d="M480.5 353.1L481.0 356.3L486.5 353.3L486.1 350.2Z"/>
<path class="c46" d="M469.5 406.4L472.4 409.1L477.3 405.5L474.5 402.9Z"/>
<path class="c160" d="M416.6 385.0L419.3 380.0L425.1 377.4L422.4 382.3Z"/>
<path class="c106" d="M468.0 380.3L469.4 383.9L474.8 380.5L473.4 377.0Z"/>
<path class="c1" d="M251.9 436.5L260.5 438.4L265.9 435.0L257.1 433.0Z"/>
<path class="c143" d="M446.7 357.6L448.1 352.0L453.9 349.4L452.4 355.1Z"/>
<path class="c47" d="M465.6 390.8L467.5 394.1L472.8 390.6L471.0 387.4Z"/>
<path class="c96" d="M460.0 341.2L466.8 342.7L472.5 340.1L467.0 338.9Z"/>
<path class="c161" d="M453.9 349.4L454.7 345.4L460.4 342.8L459.6 346.8Z"/>
<path class="c60" d="M349.7 420.9L355.1 419.7L361.0 416.8L355.5 418.0Z"/>
<path class="c72" d="M490.2 420.8L494.6 423.0L498.7 419.3L494.5 417.1Z"/>
<path class="c5" d="M338.1 424.5L343.9 423.9L349.7 420.9L343.8 421.5Z"/>
<path class="c96" d="M477.6 341.3L486.2 343.2L490.0 340.2L483.2 338.7Z"/>
<path class="c34" d="M361.0 416.8L365.9 414.8L371.8 412.0L366.8 413.9Z"/>
<path class="c48" d="M466.8 403.6L469.5 406.4L474.5 402.9L472.0 400.1Z"/>
<path class="c156" d="M485.4 344.1L485.6 345.6L491.1 342.9L491.0 341.4Z"/>
<path class="c85" d="M471.3 369.6L472.3 373.3L477.8 370.0L476.8 366.4Z"/>
<path class="c1" d="M237.6 437.8L246.6 440.0L251.9 436.5L242.7 434.3Z"/>
<path class="c162" d="M517.8 427.7L523.2 429.8L526.3 425.9L521.1 423.8Z"/>
<path class="c4" d="M326.0 427.5L332.3 427.5L338.1 424.5L331.7 424.5Z"/>
<path class="c19" d="M371.8 412.0L376.3 409.0L382.2 406.3L377.6 409.2Z"/>
<path class="c113" d="M494.6 423.0L499.1 425.2L503.1 421.4L498.7 419.3Z"/>
<path class="c3" d="M313.6 430.2L320.3 430.6L326.0 427.5L319.2 427.1Z"/>
<path class="c158" d="M425.1 377.4L427.4 371.6L433.3 369.0L430.9 374.8Z"/>
<path class="c114" d="M485.4 343.3L485.4 344.1L491.0 341.4L490.9 340.6Z"/>
<path class="c36" d="M464.4 400.7L466.8 403.6L472.0 400.1L469.7 397.2Z"/>
<path class="c131" d="M475.4 359.3L476.0 362.7L481.6 359.6L481.0 356.3Z"/>
<path class="c100" d="M480.2 350.4L480.5 353.1L486.1 350.2L485.8 347.6Z"/>
<path class="c116" d="M486.2 343.2L485.4 343.3L490.9 340.6L490.0 340.2Z"/>
<path class="c66" d="M463.9 387.3L465.6 390.8L471.0 387.4L469.4 383.9Z"/>
<path class="c125" d="M499.1 425.2L503.9 427.3L507.7 423.5L503.1 421.4Z"/>
<path class="c1" d="M300.8 432.6L307.9 433.4L313.6 430.2L306.3 429.4Z"/>
<path class="c12" d="M382.2 406.3L386.2 402.8L392.1 400.0L388.0 403.6Z"/>
<path class="c65" d="M466.7 376.6L468.0 380.3L473.4 377.0L472.3 373.3Z"/>
<path class="c119" d="M466.8 342.7L471.9 343.9L477.6 341.3L472.5 340.1Z"/>
<path class="c54" d="M462.2 397.6L464.4 400.7L469.7 397.2L467.5 394.1Z"/>
<path class="c1" d="M287.7 434.8L295.1 435.9L300.8 432.6L293.2 431.5Z"/>
<path class="c163" d="M392.1 400.0L395.7 397.0L401.7 394.2L398.0 397.3Z"/>
<path class="c90" d="M454.7 345.4L455.5 344.1L460.0 341.2L460.4 342.8Z"/>
<path class="c142" d="M503.9 427.3L509.0 429.4L512.6 425.6L507.7 423.5Z"/>
<path class="c91" d="M470.4 365.9L471.3 369.6L476.8 366.4L476.0 362.7Z"/>
<path class="c146" d="M433.3 369.0L435.1 362.8L440.9 360.2L439.1 366.4Z"/>
<path class="c164" d="M401.7 394.2L404.8 390.3L410.7 387.6L407.5 391.6Z"/>
<path class="c56" d="M470.6 415.2L474.1 417.6L478.8 414.0L475.5 411.6Z"/>
<path class="c1" d="M274.2 436.7L282.1 438.1L287.7 434.8L279.7 433.3Z"/>
<path class="c29" d="M474.1 417.6L477.8 420.0L482.4 416.3L478.8 414.0Z"/>
<path class="c165" d="M479.9 348.3L480.2 350.4L485.8 347.6L485.6 345.6Z"/>
<path class="c41" d="M467.4 412.6L470.6 415.2L475.5 411.6L472.4 409.1Z"/>
<path class="c31" d="M477.8 420.0L481.7 422.3L486.2 418.6L482.4 416.3Z"/>
<path class="c90" d="M474.9 356.1L475.4 359.3L481.0 356.3L480.5 353.1Z"/>
<path class="c106" d="M462.4 383.7L463.9 387.3L469.4 383.9L468.0 380.3Z"/>
<path class="c46" d="M464.4 410.0L467.4 412.6L472.4 409.1L469.5 406.4Z"/>
<path class="c81" d="M460.2 394.3L462.2 397.6L467.5 394.1L465.6 390.8Z"/>
<path class="c58" d="M481.7 422.3L485.9 424.5L490.2 420.8L486.2 418.6Z"/>
<path class="c1" d="M260.5 438.4L268.7 440.1L274.2 436.7L265.9 435.0Z"/>
<path class="c153" d="M509.0 429.4L514.4 431.6L517.8 427.7L512.6 425.6Z"/>
<path class="c160" d="M410.7 387.6L413.3 382.6L419.3 380.0L416.6 385.0Z"/>
<path class="c143" d="M440.9 360.2L442.2 354.6L448.1 352.0L446.7 357.6Z"/>
<path class="c96" d="M455.5 344.1L461.0 345.4L466.8 342.7L460.0 341.2Z"/>
<path class="c95" d="M465.7 372.8L466.7 376.6L472.3 373.3L471.3 369.6Z"/>
<path class="c161" d="M448.1 352.0L448.8 348.0L454.7 345.4L453.9 349.4Z"/>
<path class="c48" d="M461.6 407.2L464.4 410.0L469.5 406.4L466.8 403.6Z"/>
<path class="c96" d="M471.9 343.9L478.8 345.4L486.2 343.2L477.6 341.3Z"/>
<path class="c83" d="M485.9 424.5L490.4 426.8L494.6 423.0L490.2 420.8Z"/>
<path class="c110" d="M479.8 346.7L479.9 348.3L485.6 345.6L485.4 344.1Z"/>
<path class="c1" d="M246.6 440.0L255.1 441.8L260.5 438.4L251.9 436.5Z"/>
<path class="c87" d="M343.9 423.9L349.2 422.6L355.1 419.7L349.7 420.9Z"/>
<path class="c49" d="M355.1 419.7L360.0 417.6L365.9 414.8L361.0 416.8Z"/>
<path class="c5" d="M332.3 427.5L338.0 426.8L343.9 423.9L338.1 424.5Z"/>
<path class="c98" d="M459.1 404.2L461.6 407.2L466.8 403.6L464.4 400.7Z"/>
<path class="c131" d="M469.7 362.3L470.4 365.9L476.0 362.7L475.4 359.3Z"/>
<path class="c9" d="M320.3 430.6L326.4 430.5L332.3 427.5L326.0 427.5Z"/>
<path class="c162" d="M514.4 431.6L520.0 433.7L523.2 429.8L517.8 427.7Z"/>
<path class="c113" d="M490.4 426.8L495.1 428.9L499.1 425.2L494.6 423.0Z"/>
<path class="c114" d="M479.7 345.9L479.8 346.7L485.4 344.1L485.4 343.3Z"/>
<path class="c19" d="M365.9 414.8L370.3 411.8L376.3 409.0L371.8 412.0Z"/>
<path class="c51" d="M458.4 390.8L460.2 394.3L465.6 390.8L463.9 387.3Z"/>
<path class="c158" d="M419.3 380.0L421.5 374.2L427.4 371.6L425.1 377.4Z"/>
<path class="c100" d="M474.5 353.3L474.9 356.1L480.5 353.1L480.2 350.4Z"/>
<path class="c116" d="M478.8 345.4L479.7 345.9L485.4 343.3L486.2 343.2Z"/>
<path class="c65" d="M461.1 379.9L462.4 383.7L468.0 380.3L466.7 376.6Z"/>
<path class="c13" d="M307.9 433.4L314.5 433.8L320.3 430.6L313.6 430.2Z"/>
<path class="c137" d="M495.1 428.9L500.1 431.1L503.9 427.3L499.1 425.2Z"/>
<path class="c12" d="M376.3 409.0L380.2 405.6L386.2 402.8L382.2 406.3Z"/>
<path class="c119" d="M461.0 345.4L466.2 346.5L471.9 343.9L466.8 342.7Z"/>
<path class="c54" d="M456.8 401.1L459.1 404.2L464.4 400.7L462.2 397.6Z"/>
<path class="c1" d="M295.1 435.9L302.1 436.6L307.9 433.4L300.8 432.6Z"/>
<path class="c90" d="M448.8 348.0L448.4 346.4L455.5 344.1L454.7 345.4Z"/>
<path class="c91" d="M464.8 369.0L465.7 372.8L471.3 369.6L470.4 365.9Z"/>
<path class="c163" d="M386.2 402.8L389.7 399.7L395.7 397.0L392.1 400.0Z"/>
<path class="c1" d="M282.1 438.1L289.4 439.1L295.1 435.9L287.7 434.8Z"/>
<path class="c166" d="M427.4 371.6L429.1 365.4L435.1 362.8L433.3 369.0Z"/>
<path class="c27" d="M465.7 418.8L469.3 421.3L474.1 417.6L470.6 415.2Z"/>
<path class="c165" d="M474.3 351.0L474.5 353.3L480.2 350.4L479.9 348.3Z"/>
<path class="c142" d="M500.1 431.1L505.4 433.3L509.0 429.4L503.9 427.3Z"/>
<path class="c41" d="M462.3 416.2L465.7 418.8L470.6 415.2L467.4 412.6Z"/>
<path class="c42" d="M469.3 421.3L473.1 423.7L477.8 420.0L474.1 417.6Z"/>
<path class="c71" d="M456.8 387.1L458.4 390.8L463.9 387.3L462.4 383.7Z"/>
<path class="c164" d="M395.7 397.0L398.8 393.0L404.8 390.3L401.7 394.2Z"/>
<path class="c90" d="M469.2 359.0L469.7 362.3L475.4 359.3L474.9 356.1Z"/>
<path class="c57" d="M454.7 397.7L456.8 401.1L462.2 397.6L460.2 394.3Z"/>
<path class="c45" d="M473.1 423.7L477.2 426.0L481.7 422.3L477.8 420.0Z"/>
<path class="c32" d="M459.2 413.6L462.3 416.2L467.4 412.6L464.4 410.0Z"/>
<path class="c1" d="M268.7 440.1L276.4 441.4L282.1 438.1L274.2 436.7Z"/>
<path class="c95" d="M460.0 376.1L461.1 379.9L466.7 376.6L465.7 372.8Z"/>
<path class="c72" d="M477.2 426.0L481.6 428.3L485.9 424.5L481.7 422.3Z"/>
<path class="c109" d="M456.4 410.7L459.2 413.6L464.4 410.0L461.6 407.2Z"/>
<path class="c96" d="M448.4 346.4L455.2 348.0L461.0 345.4L455.5 344.1Z"/>
<path class="c143" d="M435.1 362.8L436.3 357.2L442.2 354.6L440.9 360.2Z"/>
<path class="c160" d="M404.8 390.3L407.3 385.3L413.3 382.6L410.7 387.6Z"/>
<path class="c118" d="M442.2 354.6L443.0 350.7L448.8 348.0L448.1 352.0Z"/>
<path class="c96" d="M466.2 346.5L474.9 348.5L478.8 345.4L471.9 343.9Z"/>
<path class="c155" d="M505.4 433.3L511.0 435.5L514.4 431.6L509.0 429.4Z"/>
<path class="c110" d="M474.1 349.4L474.3 351.0L479.9 348.3L479.8 346.7Z"/>
<path class="c1" d="M255.1 441.8L263.1 443.5L268.7 440.1L260.5 438.4Z"/>
<path class="c83" d="M481.6 428.3L486.2 430.5L490.4 426.8L485.9 424.5Z"/>
<path class="c86" d="M464.0 365.4L464.8 369.0L470.4 365.9L469.7 362.3Z"/>
<path class="c73" d="M453.7 407.8L456.4 410.7L461.6 407.2L459.1 404.2Z"/>
<path class="c167" d="M338.0 426.8L343.2 425.5L349.2 422.6L343.9 423.9Z"/>
<path class="c168" d="M452.8 394.2L454.7 397.7L460.2 394.3L458.4 390.8Z"/>
<path class="c49" d="M349.2 422.6L354.0 420.5L360.0 417.6L355.1 419.7Z"/>
<path class="c5" d="M326.4 430.5L332.1 429.8L338.0 426.8L332.3 427.5Z"/>
<path class="c114" d="M474.0 348.5L474.1 349.4L479.8 346.7L479.7 345.9Z"/>
<path class="c74" d="M455.5 383.3L456.8 387.1L462.4 383.7L461.1 379.9Z"/>
<path class="c124" d="M468.8 356.1L469.2 359.0L474.9 356.1L474.5 353.3Z"/>
<path class="c125" d="M486.2 430.5L491.1 432.8L495.1 428.9L490.4 426.8Z"/>
<path class="c9" d="M314.5 433.8L320.5 433.6L326.4 430.5L320.3 430.6Z"/>
<path class="c158" d="M413.3 382.6L415.5 376.8L421.5 374.2L419.3 380.0Z"/>
<path class="c116" d="M474.9 348.5L474.0 348.5L479.7 345.9L478.8 345.4Z"/>
<path class="c19" d="M360.0 417.6L364.3 414.6L370.3 411.8L365.9 414.8Z"/>
<path class="c162" d="M511.0 435.5L516.8 437.7L520.0 433.7L514.4 431.6Z"/>
<path class="c37" d="M451.3 404.6L453.7 407.8L459.1 404.2L456.8 401.1Z"/>
<path class="c119" d="M455.2 348.0L460.4 349.2L466.2 346.5L461.0 345.4Z"/>
<path class="c13" d="M302.1 436.6L308.6 436.9L314.5 433.8L307.9 433.4Z"/>
<path class="c169" d="M459.0 372.2L460.0 376.1L465.7 372.8L464.8 369.0Z"/>
<path class="c20" d="M370.3 411.8L374.2 408.4L380.2 405.6L376.3 409.0Z"/>
<path class="c137" d="M491.1 432.8L496.3 435.0L500.1 431.1L495.1 428.9Z"/>
<path class="c90" d="M443.0 350.7L443.8 349.4L448.4 346.4L448.8 348.0Z"/>
<path class="c1" d="M289.4 439.1L296.3 439.8L302.1 436.6L295.1 435.9Z"/>
<path class="c78" d="M451.2 390.5L452.8 394.2L458.4 390.8L456.8 387.1Z"/>
<path class="c16" d="M380.2 405.6L383.7 402.5L389.7 399.7L386.2 402.8Z"/>
<path class="c105" d="M468.5 353.8L468.8 356.1L474.5 353.3L474.3 351.0Z"/>
<path class="c27" d="M460.7 422.5L464.4 425.0L469.3 421.3L465.7 418.8Z"/>
<path class="c166" d="M421.5 374.2L423.1 368.1L429.1 365.4L427.4 371.6Z"/>
<path class="c90" d="M463.5 362.0L464.0 365.4L469.7 362.3L469.2 359.0Z"/>
<path class="c41" d="M457.2 419.9L460.7 422.5L465.7 418.8L462.3 416.2Z"/>
<path class="c38" d="M449.2 401.3L451.3 404.6L456.8 401.1L454.7 397.7Z"/>
<path class="c42" d="M464.4 425.0L468.4 427.4L473.1 423.7L469.3 421.3Z"/>
<path class="c43" d="M454.0 417.2L457.2 419.9L462.3 416.2L459.2 413.6Z"/>
<path class="c164" d="M389.7 399.7L392.7 395.7L398.8 393.0L395.7 397.0Z"/>
<path class="c1" d="M276.4 441.4L283.6 442.5L289.4 439.1L282.1 438.1Z"/>
<path class="c153" d="M496.3 435.0L501.7 437.2L505.4 433.3L500.1 431.1Z"/>
<path class="c107" d="M454.3 379.3L455.5 383.3L461.1 379.9L460.0 376.1Z"/>
<path class="c45" d="M468.4 427.4L472.6 429.7L477.2 426.0L473.1 423.7Z"/>
<path class="c33" d="M451.1 414.3L454.0 417.2L459.2 413.6L456.4 410.7Z"/>
<path class="c72" d="M472.6 429.7L477.2 432.1L481.6 428.3L477.2 426.0Z"/>
<path class="c96" d="M443.8 349.4L449.4 350.7L455.2 348.0L448.4 346.4Z"/>
<path class="c143" d="M429.1 365.4L430.3 359.9L436.3 357.2L435.1 362.8Z"/>
<path class="c118" d="M436.3 357.2L437.0 353.4L443.0 350.7L442.2 354.6Z"/>
<path class="c1" d="M263.1 443.5L270.7 444.8L276.4 441.4L268.7 440.1Z"/>
<path class="c96" d="M460.4 349.2L467.3 350.8L474.9 348.5L466.2 346.5Z"/>
<path class="c110" d="M468.3 352.2L468.5 353.8L474.3 351.0L474.1 349.4Z"/>
<path class="c160" d="M398.8 393.0L401.3 388.0L407.3 385.3L404.8 390.3Z"/>
<path class="c86" d="M458.3 368.5L459.0 372.2L464.8 369.0L464.0 365.4Z"/>
<path class="c35" d="M448.3 411.3L451.1 414.3L456.4 410.7L453.7 407.8Z"/>
<path class="c88" d="M447.2 397.7L449.2 401.3L454.7 397.7L452.8 394.2Z"/>
<path class="c162" d="M501.7 437.2L507.5 439.5L511.0 435.5L505.4 433.3Z"/>
<path class="c113" d="M477.2 432.1L481.9 434.3L486.2 430.5L481.6 428.3Z"/>
<path class="c74" d="M449.7 386.6L451.2 390.5L456.8 387.1L455.5 383.3Z"/>
<path class="c124" d="M463.0 359.0L463.5 362.0L469.2 359.0L468.8 356.1Z"/>
<path class="c114" d="M468.2 351.2L468.3 352.2L474.1 349.4L474.0 348.5Z"/>
<path class="c99" d="M332.1 429.8L337.2 428.5L343.2 425.5L338.0 426.8Z"/>
<path class="c49" d="M343.2 425.5L347.9 423.3L354.0 420.5L349.2 422.6Z"/>
<path class="c116" d="M467.3 350.8L468.2 351.2L474.0 348.5L474.9 348.5Z"/>
<path class="c7" d="M320.5 433.6L326.0 432.9L332.1 429.8L326.4 430.5Z"/>
<path class="c53" d="M445.8 408.2L448.3 411.3L453.7 407.8L451.3 404.6Z"/>
<path class="c125" d="M481.9 434.3L487.0 436.6L491.1 432.8L486.2 430.5Z"/>
<path class="c170" d="M407.3 385.3L409.4 379.5L415.5 376.8L413.3 382.6Z"/>
<path class="c103" d="M453.3 375.4L454.3 379.3L460.0 376.1L459.0 372.2Z"/>
<path class="c9" d="M308.6 436.9L314.5 436.7L320.5 433.6L314.5 433.8Z"/>
<path class="c68" d="M354.0 420.5L358.2 417.4L364.3 414.6L360.0 417.6Z"/>
<path class="c119" d="M449.4 350.7L454.5 351.9L460.4 349.2L455.2 348.0Z"/>
<path class="c171" d="M507.5 439.5L513.5 441.7L516.8 437.7L511.0 435.5Z"/>
<path class="c90" d="M437.0 353.4L436.6 351.8L443.8 349.4L443.0 350.7Z"/>
<path class="c13" d="M296.3 439.8L302.6 440.1L308.6 436.9L302.1 436.6Z"/>
<path class="c78" d="M445.5 393.9L447.2 397.7L452.8 394.2L451.2 390.5Z"/>
<path class="c20" d="M364.3 414.6L368.0 411.3L374.2 408.4L370.3 411.8Z"/>
<path class="c142" d="M487.0 436.6L492.4 438.9L496.3 435.0L491.1 432.8Z"/>
<path class="c133" d="M457.6 365.0L458.3 368.5L464.0 365.4L463.5 362.0Z"/>
<path class="c105" d="M462.7 356.6L463.0 359.0L468.8 356.1L468.5 353.8Z"/>
<path class="c38" d="M443.6 404.8L445.8 408.2L451.3 404.6L449.2 401.3Z"/>
<path class="c29" d="M455.7 426.1L459.5 428.7L464.4 425.0L460.7 422.5Z"/>
<path class="c56" d="M452.1 423.5L455.7 426.1L460.7 422.5L457.2 419.9Z"/>
<path class="c16" d="M374.2 408.4L377.5 405.3L383.7 402.5L380.2 405.6Z"/>
<path class="c166" d="M415.5 376.8L417.1 370.7L423.1 368.1L421.5 374.2Z"/>
<path class="c1" d="M283.6 442.5L290.4 443.1L296.3 439.8L289.4 439.1Z"/>
<path class="c70" d="M448.5 382.6L449.7 386.6L455.5 383.3L454.3 379.3Z"/>
<path class="c31" d="M459.5 428.7L463.6 431.1L468.4 427.4L464.4 425.0Z"/>
<path class="c43" d="M448.8 420.8L452.1 423.5L457.2 419.9L454.0 417.2Z"/>
<path class="c172" d="M383.7 402.5L386.6 398.5L392.7 395.7L389.7 399.7Z"/>
<path class="c58" d="M463.6 431.1L468.0 433.5L472.6 429.7L468.4 427.4Z"/>
<path class="c94" d="M445.7 417.9L448.8 420.8L454.0 417.2L451.1 414.3Z"/>
<path class="c153" d="M492.4 438.9L498.0 441.2L501.7 437.2L496.3 435.0Z"/>
<path class="c1" d="M270.7 444.8L277.8 445.8L283.6 442.5L276.4 441.4Z"/>
<path class="c96" d="M436.6 351.8L443.4 353.4L449.4 350.7L443.8 349.4Z"/>
<path class="c110" d="M462.5 354.9L462.7 356.6L468.5 353.8L468.3 352.2Z"/>
<path class="c118" d="M430.3 359.9L431.0 356.1L437.0 353.4L436.3 357.2Z"/>
<path class="c83" d="M468.0 433.5L472.7 435.9L477.2 432.1L472.6 429.7Z"/>
<path class="c96" d="M454.5 351.9L463.2 353.9L467.3 350.8L460.4 349.2Z"/>
<path class="c173" d="M423.1 368.1L424.3 362.6L430.3 359.9L429.1 365.4Z"/>
<path class="c86" d="M452.4 371.6L453.3 375.4L459.0 372.2L458.3 368.5Z"/>
<path class="c35" d="M442.9 414.9L445.7 417.9L451.1 414.3L448.3 411.3Z"/>
<path class="c63" d="M441.5 401.2L443.6 404.8L449.2 401.3L447.2 397.7Z"/>
<path class="c174" d="M392.7 395.7L395.1 390.7L401.3 388.0L398.8 393.0Z"/>
<path class="c84" d="M444.0 390.0L445.5 393.9L451.2 390.5L449.7 386.6Z"/>
<path class="c130" d="M457.2 361.9L457.6 365.0L463.5 362.0L463.0 359.0Z"/>
<path class="c113" d="M472.7 435.9L477.7 438.2L481.9 434.3L477.2 432.1Z"/>
<path class="c114" d="M462.4 354.0L462.5 354.9L468.3 352.2L468.2 351.2Z"/>
<path class="c162" d="M498.0 441.2L504.0 443.5L507.5 439.5L501.7 437.2Z"/>
<path class="c141" d="M440.3 411.7L442.9 414.9L448.3 411.3L445.8 408.2Z"/>
<path class="c116" d="M463.2 353.9L462.4 354.0L468.2 351.2L467.3 350.8Z"/>
<path class="c115" d="M447.4 378.6L448.5 382.6L454.3 379.3L453.3 375.4Z"/>
<path class="c99" d="M326.0 432.9L331.0 431.4L337.2 428.5L332.1 429.8Z"/>
<path class="c101" d="M337.2 428.5L341.7 426.2L347.9 423.3L343.2 425.5Z"/>
<path class="c170" d="M401.3 388.0L403.3 382.2L409.4 379.5L407.3 385.3Z"/>
<path class="c7" d="M314.5 436.7L319.9 435.9L326.0 432.9L320.5 433.6Z"/>
<path class="c137" d="M477.7 438.2L482.9 440.5L487.0 436.6L481.9 434.3Z"/>
<path class="c119" d="M443.4 353.4L448.6 354.6L454.5 351.9L449.4 350.7Z"/>
<path class="c55" d="M439.7 397.4L441.5 401.2L447.2 397.7L445.5 393.9Z"/>
<path class="c68" d="M347.9 423.3L352.0 420.2L358.2 417.4L354.0 420.5Z"/>
<path class="c17" d="M302.6 440.1L308.4 439.9L314.5 436.7L308.6 436.9Z"/>
<path class="c90" d="M431.0 356.1L431.9 354.8L436.6 351.8L437.0 353.4Z"/>
<path class="c133" d="M451.8 368.0L452.4 371.6L458.3 368.5L457.6 365.0Z"/>
<path class="c38" d="M437.9 408.3L440.3 411.7L445.8 408.2L443.6 404.8Z"/>
<path class="c175" d="M504.0 443.5L510.2 445.8L513.5 441.7L507.5 439.5Z"/>
<path class="c105" d="M456.8 359.5L457.2 361.9L463.0 359.0L462.7 356.6Z"/>
<path class="c70" d="M442.6 386.0L444.0 390.0L449.7 386.6L448.5 382.6Z"/>
<path class="c20" d="M358.2 417.4L361.8 414.2L368.0 411.3L364.3 414.6Z"/>
<path class="c21" d="M290.4 443.1L296.6 443.3L302.6 440.1L296.3 439.8Z"/>
<path class="c56" d="M446.9 427.2L450.6 429.8L455.7 426.1L452.1 423.5Z"/>
<path class="c142" d="M482.9 440.5L488.4 442.8L492.4 438.9L487.0 436.6Z"/>
<path class="c29" d="M450.6 429.8L454.6 432.4L459.5 428.7L455.7 426.1Z"/>
<path class="c30" d="M443.5 424.5L446.9 427.2L452.1 423.5L448.8 420.8Z"/>
<path class="c166" d="M409.4 379.5L410.9 373.5L417.1 370.7L415.5 376.8Z"/>
<path class="c31" d="M454.6 432.4L458.8 434.9L463.6 431.1L459.5 428.7Z"/>
<path class="c23" d="M368.0 411.3L371.3 408.1L377.5 405.3L374.2 408.4Z"/>
<path class="c46" d="M440.3 421.6L443.5 424.5L448.8 420.8L445.7 417.9Z"/>
<path class="c2" d="M277.8 445.8L284.4 446.4L290.4 443.1L283.6 442.5Z"/>
<path class="c58" d="M458.8 434.9L463.4 437.3L468.0 433.5L463.6 431.1Z"/>
<path class="c172" d="M377.5 405.3L380.3 401.2L386.6 398.5L383.7 402.5Z"/>
<path class="c96" d="M431.9 354.8L437.4 356.1L443.4 353.4L436.6 351.8Z"/>
<path class="c108" d="M446.5 374.7L447.4 378.6L453.3 375.4L452.4 371.6Z"/>
<path class="c110" d="M456.6 357.7L456.8 359.5L462.7 356.6L462.5 354.9Z"/>
<path class="c63" d="M435.8 404.7L437.9 408.3L443.6 404.8L441.5 401.2Z"/>
<path class="c96" d="M448.6 354.6L455.6 356.2L463.2 353.9L454.5 351.9Z"/>
<path class="c118" d="M424.3 362.6L424.9 358.8L431.0 356.1L430.3 359.9Z"/>
<path class="c48" d="M437.3 418.5L440.3 421.6L445.7 417.9L442.9 414.9Z"/>
<path class="c155" d="M488.4 442.8L494.3 445.2L498.0 441.2L492.4 438.9Z"/>
<path class="c173" d="M417.1 370.7L418.2 365.3L424.3 362.6L423.1 368.1Z"/>
<path class="c129" d="M438.1 393.4L439.7 397.4L445.5 393.9L444.0 390.0Z"/>
<path class="c83" d="M463.4 437.3L468.2 439.7L472.7 435.9L468.0 433.5Z"/>
<path class="c174" d="M386.6 398.5L388.9 393.5L395.1 390.7L392.7 395.7Z"/>
<path class="c130" d="M451.3 364.9L451.8 368.0L457.6 365.0L457.2 361.9Z"/>
<path class="c114" d="M456.5 356.7L456.6 357.7L462.5 354.9L462.4 354.0Z"/>
<path class="c36" d="M434.6 415.3L437.3 418.5L442.9 414.9L440.3 411.7Z"/>
<path class="c125" d="M468.2 439.7L473.3 442.1L477.7 438.2L472.7 435.9Z"/>
<path class="c115" d="M441.5 381.9L442.6 386.0L448.5 382.6L447.4 378.6Z"/>
<path class="c116" d="M455.6 356.2L456.5 356.7L462.4 354.0L463.2 353.9Z"/>
<path class="c171" d="M494.3 445.2L500.4 447.5L504.0 443.5L498.0 441.2Z"/>
<path class="c119" d="M437.4 356.1L442.6 357.3L448.6 354.6L443.4 353.4Z"/>
<path class="c55" d="M433.9 400.9L435.8 404.7L441.5 401.2L439.7 397.4Z"/>
<path class="c170" d="M395.1 390.7L397.1 385.0L403.3 382.2L401.3 388.0Z"/>
<path class="c8" d="M319.9 435.9L324.8 434.4L331.0 431.4L326.0 432.9Z"/>
<path class="c120" d="M331.0 431.4L335.4 429.2L341.7 426.2L337.2 428.5Z"/>
<path class="c137" d="M473.3 442.1L478.7 444.4L482.9 440.5L477.7 438.2Z"/>
<path class="c14" d="M308.4 439.9L313.7 439.0L319.9 435.9L314.5 436.7Z"/>
<path class="c90" d="M424.9 358.8L424.5 357.3L431.9 354.8L431.0 356.1Z"/>
<path class="c54" d="M432.2 411.9L434.6 415.3L440.3 411.7L437.9 408.3Z"/>
<path class="c133" d="M445.8 371.1L446.5 374.7L452.4 371.6L451.8 368.0Z"/>
<path class="c76" d="M436.7 389.3L438.1 393.4L444.0 390.0L442.6 386.0Z"/>
<path class="c105" d="M450.9 362.3L451.3 364.9L457.2 361.9L456.8 359.5Z"/>
<path class="c68" d="M341.7 426.2L345.7 423.0L352.0 420.2L347.9 423.3Z"/>
<path class="c17" d="M296.6 443.3L302.3 443.0L308.4 439.9L302.6 440.1Z"/>
<path class="c40" d="M441.6 430.9L445.5 433.6L450.6 429.8L446.9 427.2Z"/>
<path class="c42" d="M445.5 433.6L449.6 436.2L454.6 432.4L450.6 429.8Z"/>
<path class="c41" d="M438.1 428.2L441.6 430.9L446.9 427.2L443.5 424.5Z"/>
<path class="c176" d="M500.4 447.5L506.9 449.9L510.2 445.8L504.0 443.5Z"/>
<path class="c20" d="M352.0 420.2L355.6 417.1L361.8 414.2L358.2 417.4Z"/>
<path class="c45" d="M449.6 436.2L454.0 438.7L458.8 434.9L454.6 432.4Z"/>
<path class="c153" d="M478.7 444.4L484.4 446.8L488.4 442.8L482.9 440.5Z"/>
<path class="c166" d="M403.3 382.2L404.7 376.2L410.9 373.5L409.4 379.5Z"/>
<path class="c4" d="M284.4 446.4L290.5 446.6L296.6 443.3L290.4 443.1Z"/>
<path class="c46" d="M434.8 425.2L438.1 428.2L443.5 424.5L440.3 421.6Z"/>
<path class="c23" d="M361.8 414.2L365.0 411.0L371.3 408.1L368.0 411.3Z"/>
<path class="c108" d="M440.6 377.9L441.5 381.9L447.4 378.6L446.5 374.7Z"/>
<path class="c72" d="M454.0 438.7L458.6 441.1L463.4 437.3L458.8 434.9Z"/>
<path class="c47" d="M430.0 408.3L432.2 411.9L437.9 408.3L435.8 404.7Z"/>
<path class="c96" d="M424.5 357.3L431.3 358.9L437.4 356.1L431.9 354.8Z"/>
<path class="c110" d="M450.7 360.5L450.9 362.3L456.8 359.5L456.6 357.7Z"/>
<path class="c177" d="M371.3 408.1L374.1 404.1L380.3 401.2L377.5 405.3Z"/>
<path class="c59" d="M432.2 396.9L433.9 400.9L439.7 397.4L438.1 393.4Z"/>
<path class="c48" d="M431.7 422.2L434.8 425.2L440.3 421.6L437.3 418.5Z"/>
<path class="c96" d="M442.6 357.3L451.4 359.4L455.6 356.2L448.6 354.6Z"/>
<path class="c118" d="M418.2 365.3L418.8 361.6L424.9 358.8L424.3 362.6Z"/>
<path class="c173" d="M410.9 373.5L412.0 368.1L418.2 365.3L417.1 370.7Z"/>
<path class="c113" d="M458.6 441.1L463.6 443.6L468.2 439.7L463.4 437.3Z"/>
<path class="c140" d="M445.3 367.9L445.8 371.1L451.8 368.0L451.3 364.9Z"/>
<path class="c162" d="M484.4 446.8L490.5 449.2L494.3 445.2L488.4 442.8Z"/>
<path class="c178" d="M380.3 401.2L382.6 396.3L388.9 393.5L386.6 398.5Z"/>
<path class="c114" d="M450.5 359.5L450.7 360.5L456.6 357.7L456.5 356.7Z"/>
<path class="c36" d="M429.0 418.9L431.7 422.2L437.3 418.5L434.6 415.3Z"/>
<path class="c75" d="M435.6 385.2L436.7 389.3L442.6 386.0L441.5 381.9Z"/>
<path class="c116" d="M451.4 359.4L450.5 359.5L456.5 356.7L455.6 356.2Z"/>
<path class="c125" d="M463.6 443.6L468.9 446.0L473.3 442.1L468.2 439.7Z"/>
<path class="c66" d="M428.0 404.4L430.0 408.3L435.8 404.7L433.9 400.9Z"/>
<path class="c119" d="M431.3 358.9L436.5 360.1L442.6 357.3L437.4 356.1Z"/>
<path class="c171" d="M490.5 449.2L496.8 451.6L500.4 447.5L494.3 445.2Z"/>
<path class="c170" d="M388.9 393.5L390.8 387.7L397.1 385.0L395.1 390.7Z"/>
<path class="c54" d="M426.4 415.5L429.0 418.9L434.6 415.3L432.2 411.9Z"/>
<path class="c92" d="M439.8 374.2L440.6 377.9L446.5 374.7L445.8 371.1Z"/>
<path class="c76" d="M430.8 392.7L432.2 396.9L438.1 393.4L436.7 389.3Z"/>
<path class="c90" d="M418.8 361.6L419.6 360.4L424.5 357.3L424.9 358.8Z"/>
<path class="c142" d="M468.9 446.0L474.5 448.4L478.7 444.4L473.3 442.1Z"/>
<path class="c11" d="M313.7 439.0L318.5 437.5L324.8 434.4L319.9 435.9Z"/>
<path class="c105" d="M444.9 365.3L445.3 367.9L451.3 364.9L450.9 362.3Z"/>
<path class="c132" d="M324.8 434.4L329.1 432.1L335.4 429.2L331.0 431.4Z"/>
<path class="c14" d="M302.3 443.0L307.5 442.1L313.7 439.0L308.4 439.9Z"/>
<path class="c27" d="M436.3 434.7L440.3 437.3L445.5 433.6L441.6 430.9Z"/>
<path class="c41" d="M432.6 431.9L436.3 434.7L441.6 430.9L438.1 428.2Z"/>
<path class="c68" d="M335.4 429.2L339.3 425.9L345.7 423.0L341.7 426.2Z"/>
<path class="c42" d="M440.3 437.3L444.5 440.0L449.6 436.2L445.5 433.6Z"/>
<path class="c44" d="M290.5 446.6L296.0 446.2L302.3 443.0L296.6 443.3Z"/>
<path class="c32" d="M429.2 428.9L432.6 431.9L438.1 428.2L434.8 425.2Z"/>
<path class="c45" d="M444.5 440.0L449.0 442.5L454.0 438.7L449.6 436.2Z"/>
<path class="c179" d="M397.1 385.0L398.5 379.0L404.7 376.2L403.3 382.2Z"/>
<path class="c80" d="M345.7 423.0L349.2 420.0L355.6 417.1L352.0 420.2Z"/>
<path class="c121" d="M434.6 381.1L435.6 385.2L441.5 381.9L440.6 377.9Z"/>
<path class="c47" d="M424.1 411.8L426.4 415.5L432.2 411.9L430.0 408.3Z"/>
<path class="c153" d="M474.5 448.4L480.4 450.8L484.4 446.8L478.7 444.4Z"/>
<path class="c176" d="M496.8 451.6L503.5 454.0L506.9 449.9L500.4 447.5Z"/>
<path class="c106" d="M426.3 400.3L428.0 404.4L433.9 400.9L432.2 396.9Z"/>
<path class="c23" d="M355.6 417.1L358.7 413.9L365.0 411.0L361.8 414.2Z"/>
<path class="c48" d="M426.1 425.9L429.2 428.9L434.8 425.2L431.7 422.2Z"/>
<path class="c96" d="M419.6 360.4L425.2 361.7L431.3 358.9L424.5 357.3Z"/>
<path class="c110" d="M444.6 363.4L444.9 365.3L450.9 362.3L450.7 360.5Z"/>
<path class="c72" d="M449.0 442.5L453.9 445.0L458.6 441.1L454.0 438.7Z"/>
<path class="c96" d="M436.5 360.1L443.5 361.8L451.4 359.4L442.6 357.3Z"/>
<path class="c118" d="M412.0 368.1L412.6 364.4L418.8 361.6L418.2 365.3Z"/>
<path class="c177" d="M365.0 411.0L367.7 406.9L374.1 404.1L371.3 408.1Z"/>
<path class="c173" d="M404.7 376.2L405.7 370.9L412.0 368.1L410.9 373.5Z"/>
<path class="c140" d="M439.2 370.9L439.8 374.2L445.8 371.1L445.3 367.9Z"/>
<path class="c113" d="M453.9 445.0L459.0 447.5L463.6 443.6L458.6 441.1Z"/>
<path class="c75" d="M429.5 388.5L430.8 392.7L436.7 389.3L435.6 385.2Z"/>
<path class="c98" d="M423.2 422.6L426.1 425.9L431.7 422.2L429.0 418.9Z"/>
<path class="c114" d="M444.5 362.3L444.6 363.4L450.7 360.5L450.5 359.5Z"/>
<path class="c162" d="M480.4 450.8L486.6 453.3L490.5 449.2L484.4 446.8Z"/>
<path class="c178" d="M374.1 404.1L376.3 399.1L382.6 396.3L380.3 401.2Z"/>
<path class="c116" d="M443.5 361.8L444.5 362.3L450.5 359.5L451.4 359.4Z"/>
<path class="c66" d="M422.1 407.9L424.1 411.8L430.0 408.3L428.0 404.4Z"/>
<path class="c137" d="M459.0 447.5L464.4 449.9L468.9 446.0L463.6 443.6Z"/>
<path class="c119" d="M425.2 361.7L430.4 362.9L436.5 360.1L431.3 358.9Z"/>
<path class="c54" d="M420.6 419.1L423.2 422.6L429.0 418.9L426.4 415.5Z"/>
<path class="c104" d="M433.8 377.3L434.6 381.1L440.6 377.9L439.8 374.2Z"/>
<path class="c89" d="M424.7 396.1L426.3 400.3L432.2 396.9L430.8 392.7Z"/>
<path class="c180" d="M382.6 396.3L384.4 390.5L390.8 387.7L388.9 393.5Z"/>
<path class="c90" d="M412.6 364.4L412.1 362.9L419.6 360.4L418.8 361.6Z"/>
<path class="c105" d="M438.8 368.2L439.2 370.9L445.3 367.9L444.9 365.3Z"/>
<path class="c175" d="M486.6 453.3L493.2 455.7L496.8 451.6L490.5 449.2Z"/>
<path class="c142" d="M464.4 449.9L470.2 452.4L474.5 448.4L468.9 446.0Z"/>
<path class="c15" d="M307.5 442.1L312.1 440.6L318.5 437.5L313.7 439.0Z"/>
<path class="c27" d="M430.9 438.4L435.0 441.1L440.3 437.3L436.3 434.7Z"/>
<path class="c41" d="M427.1 435.6L430.9 438.4L436.3 434.7L432.6 431.9Z"/>
<path class="c132" d="M318.5 437.5L322.7 435.1L329.1 432.1L324.8 434.4Z"/>
<path class="c31" d="M435.0 441.1L439.4 443.8L444.5 440.0L440.3 437.3Z"/>
<path class="c22" d="M296.0 446.2L301.1 445.3L307.5 442.1L302.3 443.0Z"/>
<path class="c43" d="M423.6 432.7L427.1 435.6L432.6 431.9L429.2 428.9Z"/>
<path class="c121" d="M428.5 384.4L429.5 388.5L435.6 385.2L434.6 381.1Z"/>
<path class="c81" d="M418.2 415.4L420.6 419.1L426.4 415.5L424.1 411.8Z"/>
<path class="c127" d="M329.1 432.1L332.9 428.8L339.3 425.9L335.4 429.2Z"/>
<path class="c106" d="M420.3 403.8L422.1 407.9L428.0 404.4L426.3 400.3Z"/>
<path class="c58" d="M439.4 443.8L444.1 446.4L449.0 442.5L444.5 440.0Z"/>
<path class="c179" d="M390.8 387.7L392.1 381.8L398.5 379.0L397.1 385.0Z"/>
<path class="c109" d="M420.4 429.6L423.6 432.7L429.2 428.9L426.1 425.9Z"/>
<path class="c111" d="M339.3 425.9L342.8 423.0L349.2 420.0L345.7 423.0Z"/>
<path class="c110" d="M438.5 366.3L438.8 368.2L444.9 365.3L444.6 363.4Z"/>
<path class="c96" d="M412.1 362.9L419.0 364.5L425.2 361.7L419.6 360.4Z"/>
<path class="c155" d="M470.2 452.4L476.3 454.9L480.4 450.8L474.5 448.4Z"/>
<path class="c61" d="M349.2 420.0L352.2 416.8L358.7 413.9L355.6 417.1Z"/>
<path class="c83" d="M444.1 446.4L449.0 448.9L453.9 445.0L449.0 442.5Z"/>
<path class="c96" d="M430.4 362.9L439.2 365.1L443.5 361.8L436.5 360.1Z"/>
<path class="c118" d="M405.7 370.9L406.3 367.2L412.6 364.4L412.0 368.1Z"/>
<path class="c176" d="M493.2 455.7L500.1 458.2L503.5 454.0L496.8 451.6Z"/>
<path class="c140" d="M433.1 373.9L433.8 377.3L439.8 374.2L439.2 370.9Z"/>
<path class="c173" d="M398.5 379.0L399.4 373.7L405.7 370.9L404.7 376.2Z"/>
<path class="c18" d="M358.7 413.9L361.3 409.8L367.7 406.9L365.0 411.0Z"/>
<path class="c85" d="M423.4 391.9L424.7 396.1L430.8 392.7L429.5 388.5Z"/>
<path class="c73" d="M417.4 426.3L420.4 429.6L426.1 425.9L423.2 422.6Z"/>
<path class="c114" d="M438.4 365.2L438.5 366.3L444.6 363.4L444.5 362.3Z"/>
<path class="c113" d="M449.0 448.9L454.3 451.4L459.0 447.5L453.9 445.0Z"/>
<path class="c51" d="M416.1 411.5L418.2 415.4L424.1 411.8L422.1 407.9Z"/>
<path class="c181" d="M367.7 406.9L369.8 401.9L376.3 399.1L374.1 404.1Z"/>
<path class="c116" d="M439.2 365.1L438.4 365.2L444.5 362.3L443.5 361.8Z"/>
<path class="c162" d="M476.3 454.9L482.7 457.4L486.6 453.3L480.4 450.8Z"/>
<path class="c37" d="M414.7 422.8L417.4 426.3L423.2 422.6L420.6 419.1Z"/>
<path class="c182" d="M418.7 399.6L420.3 403.8L426.3 400.3L424.7 396.1Z"/>
<path class="c104" d="M427.6 380.5L428.5 384.4L434.6 381.1L433.8 377.3Z"/>
<path class="c119" d="M419.0 364.5L424.2 365.8L430.4 362.9L425.2 361.7Z"/>
<path class="c137" d="M454.3 451.4L459.9 453.9L464.4 449.9L459.0 447.5Z"/>
<path class="c138" d="M432.7 371.2L433.1 373.9L439.2 370.9L438.8 368.2Z"/>
<path class="c90" d="M406.3 367.2L407.1 366.0L412.1 362.9L412.6 364.4Z"/>
<path class="c183" d="M376.3 399.1L378.0 393.3L384.4 390.5L382.6 396.3Z"/>
<path class="c56" d="M421.6 439.4L425.5 442.2L430.9 438.4L427.1 435.6Z"/>
<path class="c29" d="M425.5 442.2L429.7 445.0L435.0 441.1L430.9 438.4Z"/>
<path class="c176" d="M482.7 457.4L489.5 459.9L493.2 455.7L486.6 453.3Z"/>
<path class="c142" d="M459.9 453.9L465.9 456.4L470.2 452.4L464.4 449.9Z"/>
<path class="c154" d="M422.3 387.7L423.4 391.9L429.5 388.5L428.5 384.4Z"/>
<path class="c31" d="M429.7 445.0L434.2 447.6L439.4 443.8L435.0 441.1Z"/>
<path class="c43" d="M418.0 436.4L421.6 439.4L427.1 435.6L423.6 432.7Z"/>
<path class="c93" d="M412.2 419.1L414.7 422.8L420.6 419.1L418.2 415.4Z"/>
<path class="c71" d="M414.2 407.4L416.1 411.5L422.1 407.9L420.3 403.8Z"/>
<path class="c15" d="M301.1 445.3L305.7 443.7L312.1 440.6L307.5 442.1Z"/>
<path class="c132" d="M312.1 440.6L316.2 438.1L322.7 435.1L318.5 437.5Z"/>
<path class="c58" d="M434.2 447.6L439.0 450.3L444.1 446.4L439.4 443.8Z"/>
<path class="c33" d="M414.6 433.3L418.0 436.4L423.6 432.7L420.4 429.6Z"/>
<path class="c179" d="M384.4 390.5L385.7 384.6L392.1 381.8L390.8 387.7Z"/>
<path class="c127" d="M322.7 435.1L326.4 431.7L332.9 428.8L329.1 432.1Z"/>
<path class="c110" d="M432.4 369.2L432.7 371.2L438.8 368.2L438.5 366.3Z"/>
<path class="c96" d="M407.1 366.0L412.7 367.4L419.0 364.5L412.1 362.9Z"/>
<path class="c96" d="M424.2 365.8L431.3 367.5L439.2 365.1L430.4 362.9Z"/>
<path class="c140" d="M427.0 377.0L427.6 380.5L433.8 377.3L433.1 373.9Z"/>
<path class="c111" d="M332.9 428.8L336.3 426.0L342.8 423.0L339.3 425.9Z"/>
<path class="c118" d="M399.4 373.7L399.9 370.1L406.3 367.2L405.7 370.9Z"/>
<path class="c83" d="M439.0 450.3L444.1 452.8L449.0 448.9L444.1 446.4Z"/>
<path class="c85" d="M417.3 395.3L418.7 399.6L424.7 396.1L423.4 391.9Z"/>
<path class="c61" d="M342.8 423.0L345.7 419.8L352.2 416.8L349.2 420.0Z"/>
<path class="c162" d="M465.9 456.4L472.2 459.0L476.3 454.9L470.2 452.4Z"/>
<path class="c35" d="M411.5 430.0L414.6 433.3L420.4 429.6L417.4 426.3Z"/>
<path class="c173" d="M392.1 381.8L393.0 376.6L399.4 373.7L398.5 379.0Z"/>
<path class="c18" d="M352.2 416.8L354.7 412.7L361.3 409.8L358.7 413.9Z"/>
<path class="c184" d="M489.5 459.9L496.6 462.5L500.1 458.2L493.2 455.7Z"/>
<path class="c114" d="M432.2 368.0L432.4 369.2L438.5 366.3L438.4 365.2Z"/>
<path class="c51" d="M410.0 415.1L412.2 419.1L418.2 415.4L416.1 411.5Z"/>
<path class="c125" d="M444.1 452.8L449.6 455.4L454.3 451.4L449.0 448.9Z"/>
<path class="c116" d="M431.3 367.5L432.2 368.0L438.4 365.2L439.2 365.1Z"/>
<path class="c181" d="M361.3 409.8L363.3 404.8L369.8 401.9L367.7 406.9Z"/>
<path class="c65" d="M412.5 403.1L414.2 407.4L420.3 403.8L418.7 399.6Z"/>
<path class="c53" d="M408.7 426.5L411.5 430.0L417.4 426.3L414.7 422.8Z"/>
<path class="c118" d="M421.4 383.7L422.3 387.7L428.5 384.4L427.6 380.5Z"/>
<path class="c119" d="M412.7 367.4L418.0 368.7L424.2 365.8L419.0 364.5Z"/>
<path class="c171" d="M472.2 459.0L478.8 461.5L482.7 457.4L476.3 454.9Z"/>
<path class="c137" d="M449.6 455.4L455.4 458.0L459.9 453.9L454.3 451.4Z"/>
<path class="c138" d="M426.5 374.2L427.0 377.0L433.1 373.9L432.7 371.2Z"/>
<path class="c90" d="M399.9 370.1L399.4 368.6L407.1 366.0L406.3 367.2Z"/>
<path class="c183" d="M369.8 401.9L371.5 396.2L378.0 393.3L376.3 399.1Z"/>
<path class="c56" d="M416.0 443.2L420.0 446.1L425.5 442.2L421.6 439.4Z"/>
<path class="c77" d="M416.1 391.0L417.3 395.3L423.4 391.9L422.3 387.7Z"/>
<path class="c29" d="M420.0 446.1L424.3 448.8L429.7 445.0L425.5 442.2Z"/>
<path class="c38" d="M406.2 422.7L408.7 426.5L414.7 422.8L412.2 419.1Z"/>
<path class="c71" d="M408.0 410.9L410.0 415.1L416.1 411.5L414.2 407.4Z"/>
<path class="c30" d="M412.2 440.2L416.0 443.2L421.6 439.4L418.0 436.4Z"/>
<path class="c45" d="M424.3 448.8L429.0 451.5L434.2 447.6L429.7 445.0Z"/>
<path class="c153" d="M455.4 458.0L461.5 460.5L465.9 456.4L459.9 453.9Z"/>
<path class="c94" d="M408.8 437.0L412.2 440.2L418.0 436.4L414.6 433.3Z"/>
<path class="c176" d="M478.8 461.5L485.8 464.1L489.5 459.9L482.7 457.4Z"/>
<path class="c72" d="M429.0 451.5L433.9 454.2L439.0 450.3L434.2 447.6Z"/>
<path class="c122" d="M426.1 372.1L426.5 374.2L432.7 371.2L432.4 369.2Z"/>
<path class="c10" d="M305.7 443.7L309.7 441.2L316.2 438.1L312.1 440.6Z"/>
<path class="c185" d="M378.0 393.3L379.2 387.5L385.7 384.6L384.4 390.5Z"/>
<path class="c96" d="M399.4 368.6L406.4 370.3L412.7 367.4L407.1 366.0Z"/>
<path class="c149" d="M420.7 380.1L421.4 383.7L427.6 380.5L427.0 377.0Z"/>
<path class="c95" d="M411.1 398.7L412.5 403.1L418.7 399.6L417.3 395.3Z"/>
<path class="c96" d="M418.0 368.7L426.8 370.8L431.3 367.5L424.2 365.8Z"/>
<path class="c144" d="M316.2 438.1L319.8 434.7L326.4 431.7L322.7 435.1Z"/>
<path class="c118" d="M393.0 376.6L393.5 372.9L399.9 370.1L399.4 373.7Z"/>
<path class="c35" d="M405.6 433.7L408.8 437.0L414.6 433.3L411.5 430.0Z"/>
<path class="c83" d="M433.9 454.2L439.2 456.8L444.1 452.8L439.0 450.3Z"/>
<path class="c111" d="M326.4 431.7L329.7 429.1L336.3 426.0L332.9 428.8Z"/>
<path class="c173" d="M385.7 384.6L386.6 379.4L393.0 376.6L392.1 381.8Z"/>
<path class="c61" d="M336.3 426.0L339.1 422.7L345.7 419.8L342.8 423.0Z"/>
<path class="c88" d="M403.9 418.7L406.2 422.7L412.2 419.1L410.0 415.1Z"/>
<path class="c162" d="M461.5 460.5L468.0 463.1L472.2 459.0L465.9 456.4Z"/>
<path class="c114" d="M426.0 370.9L426.1 372.1L432.4 369.2L432.2 368.0Z"/>
<path class="c52" d="M345.7 419.8L348.2 415.6L354.7 412.7L352.2 416.8Z"/>
<path class="c65" d="M406.3 406.6L408.0 410.9L414.2 407.4L412.5 403.1Z"/>
<path class="c116" d="M426.8 370.8L426.0 370.9L432.2 368.0L431.3 367.5Z"/>
<path class="c125" d="M439.2 456.8L444.8 459.4L449.6 455.4L444.1 452.8Z"/>
<path class="c53" d="M402.7 430.2L405.6 433.7L411.5 430.0L408.7 426.5Z"/>
<path class="c186" d="M485.8 464.1L493.1 466.8L496.6 462.5L489.5 459.9Z"/>
<path class="c118" d="M415.2 386.9L416.1 391.0L422.3 387.7L421.4 383.7Z"/>
<path class="c181" d="M354.7 412.7L356.7 407.7L363.3 404.8L361.3 409.8Z"/>
<path class="c119" d="M406.4 370.3L411.6 371.6L418.0 368.7L412.7 367.4Z"/>
<path class="c138" d="M420.2 377.2L420.7 380.1L427.0 377.0L426.5 374.2Z"/>
<path class="c90" d="M393.5 372.9L394.3 371.8L399.4 368.6L399.9 370.1Z"/>
<path class="c175" d="M468.0 463.1L474.8 465.7L478.8 461.5L472.2 459.0Z"/>
<path class="c142" d="M444.8 459.4L450.8 462.0L455.4 458.0L449.6 455.4Z"/>
<path class="c77" d="M409.8 394.3L411.1 398.7L417.3 395.3L416.1 391.0Z"/>
<path class="c78" d="M401.8 414.5L403.9 418.7L410.0 415.1L408.0 410.9Z"/>
<path class="c38" d="M400.1 426.4L402.7 430.2L408.7 426.5L406.2 422.7Z"/>
<path class="c183" d="M363.3 404.8L364.9 399.1L371.5 396.2L369.8 401.9Z"/>
<path class="c40" d="M410.3 447.0L414.4 449.9L420.0 446.1L416.0 443.2Z"/>
<path class="c42" d="M414.4 449.9L418.9 452.7L424.3 448.8L420.0 446.1Z"/>
<path class="c30" d="M406.4 444.0L410.3 447.0L416.0 443.2L412.2 440.2Z"/>
<path class="c45" d="M418.9 452.7L423.7 455.5L429.0 451.5L424.3 448.8Z"/>
<path class="c46" d="M402.9 440.8L406.4 444.0L412.2 440.2L408.8 437.0Z"/>
<path class="c122" d="M419.8 375.1L420.2 377.2L426.5 374.2L426.1 372.1Z"/>
<path class="c155" d="M450.8 462.0L457.1 464.6L461.5 460.5L455.4 458.0Z"/>
<path class="c95" d="M404.8 402.1L406.3 406.6L412.5 403.1L411.1 398.7Z"/>
<path class="c72" d="M423.7 455.5L428.8 458.2L433.9 454.2L429.0 451.5Z"/>
<path class="c97" d="M414.4 383.3L415.2 386.9L421.4 383.7L420.7 380.1Z"/>
<path class="c96" d="M394.3 371.8L399.9 373.2L406.4 370.3L399.4 368.6Z"/>
<path class="c185" d="M371.5 396.2L372.6 390.4L379.2 387.5L378.0 393.3Z"/>
<path class="c96" d="M411.6 371.6L418.7 373.3L426.8 370.8L418.0 368.7Z"/>
<path class="c176" d="M474.8 465.7L482.0 468.4L485.8 464.1L478.8 461.5Z"/>
<path class="c48" d="M399.6 437.5L402.9 440.8L408.8 437.0L405.6 433.7Z"/>
<path class="c118" d="M386.6 379.4L387.0 375.9L393.5 372.9L393.0 376.6Z"/>
<path class="c88" d="M397.7 422.4L400.1 426.4L406.2 422.7L403.9 418.7Z"/>
<path class="c113" d="M428.8 458.2L434.2 460.8L439.2 456.8L433.9 454.2Z"/>
<path class="c12" d="M309.7 441.2L313.1 437.8L319.8 434.7L316.2 438.1Z"/>
<path class="c187" d="M379.2 387.5L380.0 382.4L386.6 379.4L385.7 384.6Z"/>
<path class="c114" d="M419.7 373.9L419.8 375.1L426.1 372.1L426.0 370.9Z"/>
<path class="c61" d="M329.7 429.1L332.5 425.8L339.1 422.7L336.3 426.0Z"/>
<path class="c135" d="M319.8 434.7L323.0 432.1L329.7 429.1L326.4 431.7Z"/>
<path class="c74" d="M400.0 410.1L401.8 414.5L408.0 410.9L406.3 406.6Z"/>
<path class="c141" d="M396.6 433.9L399.6 437.5L405.6 433.7L402.7 430.2Z"/>
<path class="c162" d="M457.1 464.6L463.7 467.3L468.0 463.1L461.5 460.5Z"/>
<path class="c52" d="M339.1 422.7L341.5 418.6L348.2 415.6L345.7 419.8Z"/>
<path class="c126" d="M408.8 390.2L409.8 394.3L416.1 391.0L415.2 386.9Z"/>
<path class="c116" d="M418.7 373.3L419.7 373.9L426.0 370.9L426.8 370.8Z"/>
<path class="c137" d="M434.2 460.8L440.0 463.5L444.8 459.4L439.2 456.8Z"/>
<path class="c119" d="M399.9 373.2L405.2 374.5L411.6 371.6L406.4 370.3Z"/>
<path class="c181" d="M348.2 415.6L350.1 410.6L356.7 407.7L354.7 412.7Z"/>
<path class="c186" d="M482.0 468.4L489.5 471.1L493.1 466.8L485.8 464.1Z"/>
<path class="c138" d="M413.8 380.3L414.4 383.3L420.7 380.1L420.2 377.2Z"/>
<path class="c90" d="M387.0 375.9L386.5 374.4L394.3 371.8L393.5 372.9Z"/>
<path class="c91" d="M403.5 397.7L404.8 402.1L411.1 398.7L409.8 394.3Z"/>
<path class="c78" d="M395.5 418.1L397.7 422.4L403.9 418.7L401.8 414.5Z"/>
<path class="c38" d="M393.9 430.1L396.6 433.9L402.7 430.2L400.1 426.4Z"/>
<path class="c142" d="M440.0 463.5L446.1 466.1L450.8 462.0L444.8 459.4Z"/>
<path class="c27" d="M404.5 450.9L408.8 453.8L414.4 449.9L410.3 447.0Z"/>
<path class="c175" d="M463.7 467.3L470.7 470.0L474.8 465.7L468.0 463.1Z"/>
<path class="c41" d="M400.6 447.9L404.5 450.9L410.3 447.0L406.4 444.0Z"/>
<path class="c42" d="M408.8 453.8L413.4 456.7L418.9 452.7L414.4 449.9Z"/>
<path class="c183" d="M356.7 407.7L358.2 402.0L364.9 399.1L363.3 404.8Z"/>
<path class="c46" d="M396.9 444.7L400.6 447.9L406.4 444.0L402.9 440.8Z"/>
<path class="c45" d="M413.4 456.7L418.3 459.4L423.7 455.5L418.9 452.7Z"/>
<path class="c107" d="M398.4 405.6L400.0 410.1L406.3 406.6L404.8 402.1Z"/>
<path class="c122" d="M413.5 378.1L413.8 380.3L420.2 377.2L419.8 375.1Z"/>
<path class="c97" d="M408.0 386.4L408.8 390.2L415.2 386.9L414.4 383.3Z"/>
<path class="c96" d="M386.5 374.4L393.4 376.2L399.9 373.2L394.3 371.8Z"/>
<path class="c72" d="M418.3 459.4L423.5 462.2L428.8 458.2L423.7 455.5Z"/>
<path class="c48" d="M393.5 441.3L396.9 444.7L402.9 440.8L399.6 437.5Z"/>
<path class="c96" d="M405.2 374.5L414.1 376.7L418.7 373.3L411.6 371.6Z"/>
<path class="c155" d="M446.1 466.1L452.6 468.8L457.1 464.6L450.8 462.0Z"/>
<path class="c188" d="M364.9 399.1L366.0 393.3L372.6 390.4L371.5 396.2Z"/>
<path class="c63" d="M391.4 426.1L393.9 430.1L400.1 426.4L397.7 422.4Z"/>
<path class="c118" d="M380.0 382.4L380.4 378.8L387.0 375.9L386.6 379.4Z"/>
<path class="c184" d="M470.7 470.0L478.1 472.7L482.0 468.4L474.8 465.7Z"/>
<path class="c187" d="M372.6 390.4L373.4 385.3L380.0 382.4L379.2 387.5Z"/>
<path class="c114" d="M413.3 376.9L413.5 378.1L419.8 375.1L419.7 373.9Z"/>
<path class="c74" d="M393.6 413.7L395.5 418.1L401.8 414.5L400.0 410.1Z"/>
<path class="c113" d="M423.5 462.2L429.1 464.9L434.2 460.8L428.8 458.2Z"/>
<path class="c36" d="M390.4 437.7L393.5 441.3L399.6 437.5L396.6 433.9Z"/>
<path class="c131" d="M402.4 393.5L403.5 397.7L409.8 394.3L408.8 390.2Z"/>
<path class="c123" d="M323.0 432.1L325.7 428.8L332.5 425.8L329.7 429.1Z"/>
<path class="c135" d="M313.1 437.8L316.3 435.2L323.0 432.1L319.8 434.7Z"/>
<path class="c116" d="M414.1 376.7L413.3 376.9L419.7 373.9L418.7 373.3Z"/>
<path class="c52" d="M332.5 425.8L334.7 421.6L341.5 418.6L339.1 422.7Z"/>
<path class="c171" d="M452.6 468.8L459.4 471.5L463.7 467.3L457.1 464.6Z"/>
<path class="c137" d="M429.1 464.9L435.1 467.6L440.0 463.5L434.2 460.8Z"/>
<path class="c119" d="M393.4 376.2L398.7 377.5L405.2 374.5L399.9 373.2Z"/>
<path class="c138" d="M407.4 383.4L408.0 386.4L414.4 383.3L413.8 380.3Z"/>
<path class="c26" d="M341.5 418.6L343.3 413.6L350.1 410.6L348.2 415.6Z"/>
<path class="c91" d="M397.1 401.1L398.4 405.6L404.8 402.1L403.5 397.7Z"/>
<path class="c55" d="M389.2 421.8L391.4 426.1L397.7 422.4L395.5 418.1Z"/>
<path class="c90" d="M380.4 378.8L381.2 377.8L386.5 374.4L387.0 375.9Z"/>
<path class="c159" d="M387.6 433.9L390.4 437.7L396.6 433.9L393.9 430.1Z"/>
<path class="c189" d="M478.1 472.7L485.9 475.5L489.5 471.1L482.0 468.4Z"/>
<path class="c27" d="M398.7 454.8L403.1 457.8L408.8 453.8L404.5 450.9Z"/>
<path class="c41" d="M394.7 451.7L398.7 454.8L404.5 450.9L400.6 447.9Z"/>
<path class="c31" d="M403.1 457.8L407.8 460.6L413.4 456.7L408.8 453.8Z"/>
<path class="c142" d="M435.1 467.6L441.3 470.3L446.1 466.1L440.0 463.5Z"/>
<path class="c190" d="M350.1 410.6L351.5 405.0L358.2 402.0L356.7 407.7Z"/>
<path class="c32" d="M390.9 448.5L394.7 451.7L400.6 447.9L396.9 444.7Z"/>
<path class="c176" d="M459.4 471.5L466.6 474.3L470.7 470.0L463.7 467.3Z"/>
<path class="c107" d="M392.0 409.1L393.6 413.7L400.0 410.1L398.4 405.6Z"/>
<path class="c58" d="M407.8 460.6L412.9 463.5L418.3 459.4L413.4 456.7Z"/>
<path class="c122" d="M407.0 381.2L407.4 383.4L413.8 380.3L413.5 378.1Z"/>
<path class="c97" d="M401.6 389.7L402.4 393.5L408.8 390.2L408.0 386.4Z"/>
<path class="c96" d="M381.2 377.8L386.9 379.2L393.4 376.2L386.5 374.4Z"/>
<path class="c48" d="M387.4 445.1L390.9 448.5L396.9 444.7L393.5 441.3Z"/>
<path class="c63" d="M385.1 429.8L387.6 433.9L393.9 430.1L391.4 426.1Z"/>
<path class="c96" d="M398.7 377.5L405.8 379.3L414.1 376.7L405.2 374.5Z"/>
<path class="c83" d="M412.9 463.5L418.3 466.2L423.5 462.2L418.3 459.4Z"/>
<path class="c188" d="M358.2 402.0L359.2 396.3L366.0 393.3L364.9 399.1Z"/>
<path class="c118" d="M373.4 385.3L373.8 381.8L380.4 378.8L380.0 382.4Z"/>
<path class="c162" d="M441.3 470.3L448.0 473.0L452.6 468.8L446.1 466.1Z"/>
<path class="c84" d="M387.2 417.3L389.2 421.8L395.5 418.1L393.6 413.7Z"/>
<path class="c114" d="M406.8 379.9L407.0 381.2L413.5 378.1L413.3 376.9Z"/>
<path class="c187" d="M366.0 393.3L366.7 388.3L373.4 385.3L372.6 390.4Z"/>
<path class="c36" d="M384.2 441.5L387.4 445.1L393.5 441.3L390.4 437.7Z"/>
<path class="c131" d="M395.9 396.8L397.1 401.1L403.5 397.7L402.4 393.5Z"/>
<path class="c125" d="M418.3 466.2L424.0 469.0L429.1 464.9L423.5 462.2Z"/>
<path class="c184" d="M466.6 474.3L474.3 477.1L478.1 472.7L470.7 470.0Z"/>
<path class="c116" d="M405.8 379.3L406.8 379.9L413.3 376.9L414.1 376.7Z"/>
<path class="c136" d="M316.3 435.2L318.9 431.9L325.7 428.8L323.0 432.1Z"/>
<path class="c102" d="M325.7 428.8L327.9 424.6L334.7 421.6L332.5 425.8Z"/>
<path class="c119" d="M386.9 379.2L392.2 380.5L398.7 377.5L393.4 376.2Z"/>
<path class="c138" d="M400.9 386.5L401.6 389.7L408.0 386.4L407.4 383.4Z"/>
<path class="c55" d="M382.8 425.5L385.1 429.8L391.4 426.1L389.2 421.8Z"/>
<path class="c171" d="M448.0 473.0L455.1 475.8L459.4 471.5L452.6 468.8Z"/>
<path class="c91" d="M390.6 404.5L392.0 409.1L398.4 405.6L397.1 401.1Z"/>
<path class="c137" d="M424.0 469.0L430.1 471.7L435.1 467.6L429.1 464.9Z"/>
<path class="c54" d="M381.3 437.7L384.2 441.5L390.4 437.7L387.6 433.9Z"/>
<path class="c90" d="M373.8 381.8L373.2 380.4L381.2 377.8L380.4 378.8Z"/>
<path class="c26" d="M334.7 421.6L336.5 416.6L343.3 413.6L341.5 418.6Z"/>
<path class="c29" d="M392.9 458.8L397.4 461.7L403.1 457.8L398.7 454.8Z"/>
<path class="c41" d="M388.7 455.7L392.9 458.8L398.7 454.8L394.7 451.7Z"/>
<path class="c31" d="M397.4 461.7L402.2 464.7L407.8 460.6L403.1 457.8Z"/>
<path class="c191" d="M385.5 412.7L387.2 417.3L393.6 413.7L392.0 409.1Z"/>
<path class="c189" d="M474.3 477.1L482.3 480.0L485.9 475.5L478.1 472.7Z"/>
<path class="c43" d="M384.8 452.4L388.7 455.7L394.7 451.7L390.9 448.5Z"/>
<path class="c153" d="M430.1 471.7L436.6 474.5L441.3 470.3L435.1 467.6Z"/>
<path class="c190" d="M343.3 413.6L344.6 408.0L351.5 405.0L350.1 410.6Z"/>
<path class="c97" d="M395.0 392.9L395.9 396.8L402.4 393.5L401.6 389.7Z"/>
<path class="c58" d="M402.2 464.7L407.4 467.5L412.9 463.5L407.8 460.6Z"/>
<path class="c122" d="M400.5 384.2L400.9 386.5L407.4 383.4L407.0 381.2Z"/>
<path class="c176" d="M455.1 475.8L462.5 478.6L466.6 474.3L459.4 471.5Z"/>
<path class="c109" d="M381.2 449.0L384.8 452.4L390.9 448.5L387.4 445.1Z"/>
<path class="c47" d="M378.6 433.6L381.3 437.7L387.6 433.9L385.1 429.8Z"/>
<path class="c96" d="M373.2 380.4L380.2 382.2L386.9 379.2L381.2 377.8Z"/>
<path class="c96" d="M392.2 380.5L401.1 382.8L405.8 379.3L398.7 377.5Z"/>
<path class="c83" d="M407.4 467.5L412.9 470.3L418.3 466.2L412.9 463.5Z"/>
<path class="c84" d="M380.7 420.9L382.8 425.5L389.2 421.8L387.2 417.3Z"/>
<path class="c188" d="M351.5 405.0L352.4 399.3L359.2 396.3L358.2 402.0Z"/>
<path class="c118" d="M366.7 388.3L367.0 384.9L373.8 381.8L373.4 385.3Z"/>
<path class="c114" d="M400.3 382.9L400.5 384.2L407.0 381.2L406.8 379.9Z"/>
<path class="c98" d="M377.9 445.4L381.2 449.0L387.4 445.1L384.2 441.5Z"/>
<path class="c131" d="M389.4 400.2L390.6 404.5L397.1 401.1L395.9 396.8Z"/>
<path class="c162" d="M436.6 474.5L443.4 477.3L448.0 473.0L441.3 470.3Z"/>
<path class="c187" d="M359.2 396.3L359.9 391.3L366.7 388.3L366.0 393.3Z"/>
<path class="c125" d="M412.9 470.3L418.8 473.1L424.0 469.0L418.3 466.2Z"/>
<path class="c116" d="M401.1 382.8L400.3 382.9L406.8 379.9L405.8 379.3Z"/>
<path class="c186" d="M462.5 478.6L470.3 481.5L474.3 477.1L466.6 474.3Z"/>
<path class="c138" d="M394.4 389.7L395.0 392.9L401.6 389.7L400.9 386.5Z"/>
<path class="c55" d="M376.3 429.2L378.6 433.6L385.1 429.8L382.8 425.5Z"/>
<path class="c119" d="M380.2 382.2L385.5 383.6L392.2 380.5L386.9 379.2Z"/>
<path class="c169" d="M384.0 408.0L385.5 412.7L392.0 409.1L390.6 404.5Z"/>
<path class="c54" d="M374.9 441.5L377.9 445.4L384.2 441.5L381.3 437.7Z"/>
<path class="c102" d="M318.9 431.9L320.9 427.7L327.9 424.6L325.7 428.8Z"/>
<path class="c90" d="M367.0 384.9L367.8 383.8L373.2 380.4L373.8 381.8Z"/>
<path class="c142" d="M418.8 473.1L425.1 475.9L430.1 471.7L424.0 469.0Z"/>
<path class="c175" d="M443.4 477.3L450.6 480.1L455.1 475.8L448.0 473.0Z"/>
<path class="c39" d="M327.9 424.6L329.5 419.6L336.5 416.6L334.7 421.6Z"/>
<path class="c56" d="M382.6 459.6L386.9 462.7L392.9 458.8L388.7 455.7Z"/>
<path class="c29" d="M386.9 462.7L391.5 465.8L397.4 461.7L392.9 458.8Z"/>
<path class="c70" d="M378.9 416.3L380.7 420.9L387.2 417.3L385.5 412.7Z"/>
<path class="c43" d="M378.6 456.3L382.6 459.6L388.7 455.7L384.8 452.4Z"/>
<path class="c31" d="M391.5 465.8L396.5 468.7L402.2 464.7L397.4 461.7Z"/>
<path class="c90" d="M388.4 396.2L389.4 400.2L395.9 396.8L395.0 392.9Z"/>
<path class="c122" d="M393.9 387.4L394.4 389.7L400.9 386.5L400.5 384.2Z"/>
<path class="c190" d="M336.5 416.6L337.7 411.0L344.6 408.0L343.3 413.6Z"/>
<path class="c47" d="M372.2 437.4L374.9 441.5L381.3 437.7L378.6 433.6Z"/>
<path class="c72" d="M396.5 468.7L401.8 471.6L407.4 467.5L402.2 464.7Z"/>
<path class="c153" d="M425.1 475.9L431.7 478.8L436.6 474.5L430.1 471.7Z"/>
<path class="c33" d="M374.9 452.9L378.6 456.3L384.8 452.4L381.2 449.0Z"/>
<path class="c189" d="M470.3 481.5L478.6 484.5L482.3 480.0L474.3 477.1Z"/>
<path class="c96" d="M367.8 383.8L373.5 385.3L380.2 382.2L373.2 380.4Z"/>
<path class="c96" d="M385.5 383.6L392.7 385.4L401.1 382.8L392.2 380.5Z"/>
<path class="c129" d="M374.1 424.6L376.3 429.2L382.8 425.5L380.7 420.9Z"/>
<path class="c176" d="M450.6 480.1L458.3 483.0L462.5 478.6L455.1 475.8Z"/>
<path class="c113" d="M401.8 471.6L407.5 474.5L412.9 470.3L407.4 467.5Z"/>
<path class="c118" d="M359.9 391.3L360.2 387.9L367.0 384.9L366.7 388.3Z"/>
<path class="c188" d="M344.6 408.0L345.5 402.3L352.4 399.3L351.5 405.0Z"/>
<path class="c73" d="M371.5 449.2L374.9 452.9L381.2 449.0L377.9 445.4Z"/>
<path class="c131" d="M382.8 403.6L384.0 408.0L390.6 404.5L389.4 400.2Z"/>
<path class="c114" d="M393.7 386.0L393.9 387.4L400.5 384.2L400.3 382.9Z"/>
<path class="c187" d="M352.4 399.3L353.0 394.4L359.9 391.3L359.2 396.3Z"/>
<path class="c162" d="M431.7 478.8L438.7 481.6L443.4 477.3L436.6 474.5Z"/>
<path class="c116" d="M392.7 385.4L393.7 386.0L400.3 382.9L401.1 382.8Z"/>
<path class="c125" d="M407.5 474.5L413.5 477.3L418.8 473.1L412.9 470.3Z"/>
<path class="c66" d="M369.7 433.0L372.2 437.4L378.6 433.6L376.3 429.2Z"/>
<path class="c103" d="M377.4 411.5L378.9 416.3L385.5 412.7L384.0 408.0Z"/>
<path class="c100" d="M387.7 392.9L388.4 396.2L395.0 392.9L394.4 389.7Z"/>
<path class="c119" d="M373.5 385.3L378.8 386.7L385.5 383.6L380.2 382.2Z"/>
<path class="c54" d="M368.4 445.3L371.5 449.2L377.9 445.4L374.9 441.5Z"/>
<path class="c189" d="M458.3 483.0L466.3 486.0L470.3 481.5L462.5 478.6Z"/>
<path class="c90" d="M360.2 387.9L359.6 386.6L367.8 383.8L367.0 384.9Z"/>
<path class="c142" d="M413.5 477.3L420.0 480.2L425.1 475.9L418.8 473.1Z"/>
<path class="c70" d="M372.3 419.9L374.1 424.6L380.7 420.9L378.9 416.3Z"/>
<path class="c56" d="M376.5 463.6L380.9 466.8L386.9 462.7L382.6 459.6Z"/>
<path class="c29" d="M380.9 466.8L385.6 469.8L391.5 465.8L386.9 462.7Z"/>
<path class="c175" d="M438.7 481.6L446.2 484.5L450.6 480.1L443.4 477.3Z"/>
<path class="c39" d="M320.9 427.7L322.5 422.7L329.5 419.6L327.9 424.6Z"/>
<path class="c43" d="M372.4 460.3L376.5 463.6L382.6 459.6L378.6 456.3Z"/>
<path class="c45" d="M385.6 469.8L390.7 472.8L396.5 468.7L391.5 465.8Z"/>
<path class="c90" d="M381.8 399.5L382.8 403.6L389.4 400.2L388.4 396.2Z"/>
<path class="c81" d="M365.6 441.2L368.4 445.3L374.9 441.5L372.2 437.4Z"/>
<path class="c122" d="M387.2 390.5L387.7 392.9L394.4 389.7L393.9 387.4Z"/>
<path class="c33" d="M368.6 456.8L372.4 460.3L378.6 456.3L374.9 452.9Z"/>
<path class="c72" d="M390.7 472.8L396.2 475.7L401.8 471.6L396.5 468.7Z"/>
<path class="c190" d="M329.5 419.6L330.7 414.1L337.7 411.0L336.5 416.6Z"/>
<path class="c96" d="M359.6 386.6L366.7 388.4L373.5 385.3L367.8 383.8Z"/>
<path class="c59" d="M367.5 428.3L369.7 433.0L376.3 429.2L374.1 424.6Z"/>
<path class="c155" d="M420.0 480.2L426.8 483.0L431.7 478.8L425.1 475.9Z"/>
<path class="c96" d="M378.8 386.7L387.8 389.0L392.7 385.4L385.5 383.6Z"/>
<path class="c192" d="M466.3 486.0L474.8 489.0L478.6 484.5L470.3 481.5Z"/>
<path class="c86" d="M376.0 407.0L377.4 411.5L384.0 408.0L382.8 403.6Z"/>
<path class="c118" d="M353.0 394.4L353.3 391.0L360.2 387.9L359.9 391.3Z"/>
<path class="c35" d="M365.1 453.1L368.6 456.8L374.9 452.9L371.5 449.2Z"/>
<path class="c113" d="M396.2 475.7L402.0 478.6L407.5 474.5L401.8 471.6Z"/>
<path class="c188" d="M337.7 411.0L338.6 405.4L345.5 402.3L344.6 408.0Z"/>
<path class="c112" d="M387.0 389.1L387.2 390.5L393.9 387.4L393.7 386.0Z"/>
<path class="c184" d="M446.2 484.5L454.0 487.5L458.3 483.0L450.6 480.1Z"/>
<path class="c187" d="M345.5 402.3L346.1 397.5L353.0 394.4L352.4 399.3Z"/>
<path class="c116" d="M387.8 389.0L387.0 389.1L393.7 386.0L392.7 385.4Z"/>
<path class="c66" d="M363.1 436.8L365.6 441.2L372.2 437.4L369.7 433.0Z"/>
<path class="c115" d="M370.6 415.1L372.3 419.9L378.9 416.3L377.4 411.5Z"/>
<path class="c171" d="M426.8 483.0L434.0 486.0L438.7 481.6L431.7 478.8Z"/>
<path class="c100" d="M381.0 396.2L381.8 399.5L388.4 396.2L387.7 392.9Z"/>
<path class="c137" d="M402.0 478.6L408.2 481.5L413.5 477.3L407.5 474.5Z"/>
<path class="c67" d="M361.9 449.2L365.1 453.1L371.5 449.2L368.4 445.3Z"/>
<path class="c119" d="M366.7 388.4L372.0 389.8L378.8 386.7L373.5 385.3Z"/>
<path class="c90" d="M353.3 391.0L354.0 390.0L359.6 386.6L360.2 387.9Z"/>
<path class="c76" d="M365.5 423.5L367.5 428.3L374.1 424.6L372.3 419.9Z"/>
<path class="c189" d="M454.0 487.5L462.3 490.5L466.3 486.0L458.3 483.0Z"/>
<path class="c142" d="M408.2 481.5L414.8 484.5L420.0 480.2L413.5 477.3Z"/>
<path class="c90" d="M375.0 402.9L376.0 407.0L382.8 403.6L381.8 399.5Z"/>
<path class="c57" d="M359.0 445.0L361.9 449.2L368.4 445.3L365.6 441.2Z"/>
<path class="c176" d="M434.0 486.0L441.6 488.9L446.2 484.5L438.7 481.6Z"/>
<path class="c122" d="M380.5 393.7L381.0 396.2L387.7 392.9L387.2 390.5Z"/>
<path class="c106" d="M360.8 432.1L363.1 436.8L369.7 433.0L367.5 428.3Z"/>
<path class="c96" d="M354.0 390.0L359.8 391.5L366.7 388.4L359.6 386.6Z"/>
<path class="c193" d="M322.5 422.7L323.6 417.2L330.7 414.1L329.5 419.6Z"/>
<path class="c96" d="M372.0 389.8L379.2 391.6L387.8 389.0L378.8 386.7Z"/>
<path class="c86" d="M369.3 410.5L370.6 415.1L377.4 411.5L376.0 407.0Z"/>
<path class="c162" d="M414.8 484.5L421.8 487.4L426.8 483.0L420.0 480.2Z"/>
<path class="c118" d="M346.1 397.5L346.3 394.2L353.3 391.0L353.0 394.4Z"/>
<path class="c112" d="M380.2 392.3L380.5 393.7L387.2 390.5L387.0 389.1Z"/>
<path class="c194" d="M330.7 414.1L331.5 408.5L338.6 405.4L337.7 411.0Z"/>
<path class="c101" d="M462.3 490.5L471.0 493.6L474.8 489.0L466.3 486.0Z"/>
<path class="c187" d="M338.6 405.4L339.1 400.6L346.1 397.5L345.5 402.3Z"/>
<path class="c51" d="M356.3 440.6L359.0 445.0L365.6 441.2L363.1 436.8Z"/>
<path class="c116" d="M379.2 391.6L380.2 392.3L387.0 389.1L387.8 389.0Z"/>
<path class="c184" d="M441.6 488.9L449.7 492.0L454.0 487.5L446.2 484.5Z"/>
<path class="c115" d="M363.8 418.7L365.5 423.5L372.3 419.9L370.6 415.1Z"/>
<path class="c100" d="M374.2 399.5L375.0 402.9L381.8 399.5L381.0 396.2Z"/>
<path class="c119" d="M359.8 391.5L365.1 392.9L372.0 389.8L366.7 388.4Z"/>
<path class="c171" d="M421.8 487.4L429.2 490.4L434.0 486.0L426.8 483.0Z"/>
<path class="c76" d="M358.7 427.2L360.8 432.1L367.5 428.3L365.5 423.5Z"/>
<path class="c90" d="M346.3 394.2L345.7 392.8L354.0 390.0L353.3 391.0Z"/>
<path class="c90" d="M368.2 406.3L369.3 410.5L376.0 407.0L375.0 402.9Z"/>
<path class="c189" d="M449.7 492.0L458.2 495.1L462.3 490.5L454.0 487.5Z"/>
<path class="c122" d="M373.7 396.9L374.2 399.5L381.0 396.2L380.5 393.7Z"/>
<path class="c106" d="M354.0 435.9L356.3 440.6L363.1 436.8L360.8 432.1Z"/>
<path class="c176" d="M429.2 490.4L437.0 493.4L441.6 488.9L434.0 486.0Z"/>
<path class="c96" d="M345.7 392.8L352.8 394.7L359.8 391.5L354.0 390.0Z"/>
<path class="c96" d="M365.1 392.9L374.2 395.3L379.2 391.6L372.0 389.8Z"/>
<path class="c86" d="M362.4 414.0L363.8 418.7L370.6 415.1L369.3 410.5Z"/>
<path class="c118" d="M339.1 400.6L339.3 397.4L346.3 394.2L346.1 397.5Z"/>
<path class="c112" d="M373.4 395.5L373.7 396.9L380.5 393.7L380.2 392.3Z"/>
<path class="c194" d="M323.6 417.2L324.3 411.7L331.5 408.5L330.7 414.1Z"/>
<path class="c115" d="M357.0 422.3L358.7 427.2L365.5 423.5L363.8 418.7Z"/>
<path class="c116" d="M374.2 395.3L373.4 395.5L380.2 392.3L379.2 391.6Z"/>
<path class="c195" d="M331.5 408.5L331.9 403.8L339.1 400.6L338.6 405.4Z"/>
<path class="c100" d="M367.3 402.8L368.2 406.3L375.0 402.9L374.2 399.5Z"/>
<path class="c101" d="M458.2 495.1L467.1 498.3L471.0 493.6L462.3 490.5Z"/>
<path class="c186" d="M437.0 493.4L445.3 496.5L449.7 492.0L441.6 488.9Z"/>
<path class="c119" d="M352.8 394.7L358.2 396.1L365.1 392.9L359.8 391.5Z"/>
<path class="c89" d="M351.9 431.0L354.0 435.9L360.8 432.1L358.7 427.2Z"/>
<path class="c90" d="M339.3 397.4L340.0 396.4L345.7 392.8L346.3 394.2Z"/>
<path class="c90" d="M361.2 409.7L362.4 414.0L369.3 410.5L368.2 406.3Z"/>
<path class="c122" d="M366.7 400.2L367.3 402.8L374.2 399.5L373.7 396.9Z"/>
<path class="c96" d="M340.0 396.4L345.7 397.9L352.8 394.7L345.7 392.8Z"/>
<path class="c192" d="M445.3 496.5L454.0 499.7L458.2 495.1L449.7 492.0Z"/>
<path class="c108" d="M355.5 417.6L357.0 422.3L363.8 418.7L362.4 414.0Z"/>
<path class="c96" d="M358.2 396.1L365.4 398.0L374.2 395.3L365.1 392.9Z"/>
<path class="c118" d="M331.9 403.8L332.1 400.6L339.3 397.4L339.1 400.6Z"/>
<path class="c112" d="M366.4 398.7L366.7 400.2L373.7 396.9L373.4 395.5Z"/>
<path class="c75" d="M350.0 426.0L351.9 431.0L358.7 427.2L357.0 422.3Z"/>
<path class="c116" d="M365.4 398.0L366.4 398.7L373.4 395.5L374.2 395.3Z"/>
<path class="c100" d="M360.3 406.1L361.2 409.7L368.2 406.3L367.3 402.8Z"/>
<path class="c196" d="M324.3 411.7L324.7 407.0L331.9 403.8L331.5 408.5Z"/>
<path class="c119" d="M345.7 397.9L351.1 399.4L358.2 396.1L352.8 394.7Z"/>
<path class="c49" d="M454.0 499.7L463.2 503.0L467.1 498.3L458.2 495.1Z"/>
<path class="c90" d="M332.1 400.6L331.5 399.3L340.0 396.4L339.3 397.4Z"/>
<path class="c133" d="M354.2 413.2L355.5 417.6L362.4 414.0L361.2 409.7Z"/>
<path class="c148" d="M359.7 403.5L360.3 406.1L367.3 402.8L366.7 400.2Z"/>
<path class="c108" d="M348.4 421.2L350.0 426.0L357.0 422.3L355.5 417.6Z"/>
<path class="c96" d="M331.5 399.3L338.6 401.2L345.7 397.9L340.0 396.4Z"/>
<path class="c96" d="M351.1 399.4L360.2 401.8L365.4 398.0L358.2 396.1Z"/>
<path class="c104" d="M324.7 407.0L324.9 403.8L332.1 400.6L331.9 403.8Z"/>
<path class="c112" d="M359.4 402.0L359.7 403.5L366.7 400.2L366.4 398.7Z"/>
<path class="c116" d="M360.2 401.8L359.4 402.0L366.4 398.7L365.4 398.0Z"/>
<path class="c100" d="M353.3 409.6L354.2 413.2L361.2 409.7L360.3 406.1Z"/>
<path class="c119" d="M338.6 401.2L344.0 402.6L351.1 399.4L345.7 397.9Z"/>
<path class="c90" d="M324.9 403.8L325.6 402.9L331.5 399.3L332.1 400.6Z"/>
<path class="c133" d="M347.2 416.7L348.4 421.2L355.5 417.6L354.2 413.2Z"/>
<path class="c148" d="M352.7 406.9L353.3 409.6L360.3 406.1L359.7 403.5Z"/>
<path class="c96" d="M325.6 402.9L331.4 404.5L338.6 401.2L331.5 399.3Z"/>
<path class="c96" d="M344.0 402.6L351.3 404.6L360.2 401.8L351.1 399.4Z"/>
<path class="c112" d="M352.3 405.3L352.7 406.9L359.7 403.5L359.4 402.0Z"/>
<path class="c100" d="M346.2 413.0L347.2 416.7L354.2 413.2L353.3 409.6Z"/>
<path class="c116" d="M351.3 404.6L352.3 405.3L359.4 402.0L360.2 401.8Z"/>
<path class="c119" d="M331.4 404.5L336.8 406.0L344.0 402.6L338.6 401.2Z"/>
<path class="c148" d="M345.5 410.3L346.2 413.0L353.3 409.6L352.7 406.9Z"/>
<path class="c96" d="M336.8 406.0L345.9 408.5L351.3 404.6L344.0 402.6Z"/>
<path class="c112" d="M345.1 408.7L345.5 410.3L352.7 406.9L352.3 405.3Z"/>
<path class="c116" d="M345.9 408.5L345.1 408.7L352.3 405.3L351.3 404.6Z"/>
<path class="m" d="M228.2 435.4L289.5 391.3L360.7 339.5M241.2 438.7L301.1 394.9L372.4 342.0M254.3 441.7L312.7 398.6L384.2 344.5M267.6 444.3L294.2 424.8L324.1 402.3L396.1 347.0M281.1 446.1L301.4 431.5L324.3 414.5M360.7 386.6L360.9 386.4M361.1 386.3L408.1 349.4M294.5 446.4L307.1 438.1L320.9 428.4M321.2 428.3L321.3 428.2M395.5 371.6L395.7 371.5M395.9 371.3L420.4 351.7M307.8 442.5L314.7 439.3L322.2 435.3M322.4 435.3L322.8 435.0M323.1 434.9L323.4 434.7M323.7 434.5L324.0 434.3M324.3 434.2L324.6 434.0M325.0 433.8L325.1 433.7M430.6 355.6L432.7 353.9M320.6 428.5L325.3 428.7L330.6 428.0L335.2 426.7L340.2 424.9L344.6 423.9L349.3 422.3M350.7 391.1L351.0 391.9M350.4 427.0L354.3 415.2L357.6 402.4M395.5 371.0L395.6 371.5M367.3 455.6L374.1 446.1L380.0 436.9L385.2 428.1L389.7 419.2L393.7 410.3L397.2 401.1L400.3 391.6L403.0 381.5M437.0 352.3L437.1 352.8M383.1 468.2L396.5 452.3L407.5 438.0L416.7 424.9L424.5 412.6L430.9 400.6L436.4 388.3L441.0 375.7L445.0 361.9M475.5 334.7L475.5 335.2M398.9 477.1L418.7 454.3L434.7 434.9L447.6 418.1L457.9 402.9L462.4 395.7L466.3 388.7L470.0 381.6L473.2 374.6L476.2 367.3L479.0 359.8L484.0 343.7M511.4 318.6L511.4 319.1M414.7 484.4L440.9 454.5L461.4 430.1L477.4 409.8L489.9 392.2L495.2 384.1L499.8 376.3L504.0 368.6L507.8 360.9L511.2 353.0L514.4 344.9L517.4 336.3L520.2 327.0M430.6 490.9L456.5 461.2L477.3 436.6L494.2 416.0L507.9 398.4L519.1 383.1L528.2 369.3L535.7 356.3L542.1 343.5M446.8 497.1L487.2 449.3L516.6 413.4L538.1 385.9L546.6 374.2L553.9 363.6M463.2 503.0L500.1 458.2L528.4 423.3L550.2 395.7L567.1 373.4M228.2 435.4L243.4 439.2L256.3 442.1L267.3 444.2L276.8 445.7L285.0 446.4L291.9 446.5L297.8 446.0L302.9 444.8L306.9 443.0L310.3 440.7L313.0 437.9L315.0 436.4L316.7 434.8L318.3 432.7L319.7 430.4L321.8 425.3L323.3 419.3L324.3 411.7L324.9 402.7M345.0 408.2L347.5 418.0L350.2 426.5L353.2 434.2L356.4 440.6L360.1 446.7L364.2 452.1L369.1 457.3L374.5 462.1L380.8 466.7L388.3 471.4L396.7 476.0L406.5 480.7L417.7 485.7L430.8 491.0L463.2 503.0M238.1 428.4L265.0 434.8L275.7 437.0L285.2 438.6L293.4 439.6L300.5 440.1L306.6 440.0L312.0 439.4M314.7 438.8L315.1 438.7M315.4 438.6L319.4 437.1L322.8 435.0L324.9 433.3L326.7 431.3L329.7 429.0L332.1 426.2L334.2 422.7L336.0 418.2L337.4 412.7L338.5 406.1M359.3 401.6L361.6 411.0L364.0 419.2L366.8 426.7L369.9 433.3L373.3 439.2L377.4 444.7L381.9 449.7L387.1 454.4L393.2 459.0L400.1 463.4L408.1 467.9L417.4 472.5L428.1 477.2L440.4 482.3L471.0 493.6M247.7 421.5L272.0 427.3L291.2 431.2L306.1 433.3L312.4 433.7L317.9 433.7M327.7 432.5L328.1 432.4M328.4 432.3L333.2 430.5L337.2 427.9L340.2 424.9L342.3 423.4L344.2 421.7L346.0 419.3L347.6 416.7M373.3 395.1L375.3 404.1L377.6 412.5L380.2 419.7L383.2 426.4L386.5 432.2L390.2 437.4L394.5 442.3L399.5 447.0L405.3 451.4L411.8 455.7L419.4 460.0L428.2 464.4L438.3 469.0L450.0 473.8L478.6 484.5M257.1 414.7L278.4 419.8L295.7 423.5L310.0 426.0L321.6 427.3M341.1 426.2L341.5 426.0M341.8 426.0L345.8 424.5L349.3 422.4M386.9 388.7L388.8 397.9L391.0 405.9L393.4 413.1L396.1 419.3L399.2 425.0L402.7 430.2L406.7 435.0L411.5 439.5L416.9 443.9L423.1 448.1L430.3 452.2L438.6 456.5L448.1 460.9L459.0 465.4L485.9 475.5M266.2 408.1L284.1 412.4L299.4 415.8L312.3 418.3L323.3 420.1M400.2 382.6L401.9 391.3L404.0 399.4L406.2 406.3L408.7 412.5L411.7 418.2L415.0 423.3L418.9 428.0L423.2 432.3L428.4 436.6L434.2 440.6L440.9 444.7L448.8 448.8L457.7 452.9L468.0 457.3L493.1 466.8M275.2 401.7L303.0 408.2L324.6 412.5M413.2 376.5L414.7 384.8L416.5 392.6L418.7 399.7L421.0 405.7L423.8 411.2L427.0 416.3L430.6 420.9L434.7 425.2L439.5 429.3L445.1 433.4L451.5 437.3L458.7 441.2L467.1 445.2L476.7 449.3L500.1 458.2M283.9 395.4L306.6 400.7L325.3 404.7M425.9 370.6L427.3 379.0L429.0 386.4L430.9 393.1L433.1 399.1L435.8 404.7L438.7 409.5L442.2 414.1L446.0 418.3L450.5 422.3L455.8 426.2L461.7 430.0L468.5 433.8L476.3 437.6L485.2 441.5L506.9 449.9M292.4 389.2L315.5 394.6L334.4 398.6M438.3 364.8L439.6 372.8L441.1 380.2L442.9 386.9L445.0 392.7L447.4 398.0L450.1 402.7L453.3 407.2L457.0 411.4L461.3 415.4L466.1 419.1L471.7 422.8L478.0 426.4L485.3 430.1L493.5 433.8L513.5 441.7M300.7 383.2L325.6 389.0L346.0 393.2M450.5 359.2L451.6 367.1L453.0 374.1L454.6 380.5L456.5 386.3L458.7 391.4L461.3 396.1L464.3 400.6L467.7 404.6L471.7 408.5L476.2 412.2L481.4 415.7L487.2 419.2L493.9 422.7L501.5 426.2L520.0 433.7M308.8 377.3L336.1 383.5L357.9 388.0M462.4 353.7L463.4 361.6L464.6 368.4L466.2 374.7L467.9 380.1L470.0 385.2L472.3 389.8L475.1 394.0L478.2 397.9L481.9 401.7L486.1 405.3L490.9 408.7L496.3 412.1L502.5 415.4L509.5 418.8L526.3 425.9M316.7 371.5L346.4 378.2L369.8 383.0M474.0 348.3L474.8 355.7L476.0 362.5L477.3 368.5L478.9 373.9L480.8 378.8L483.0 383.3L485.5 387.4L488.5 391.3L491.8 394.9L495.7 398.4L500.1 401.8L505.1 405.0L510.7 408.2L517.2 411.5L532.5 418.1M324.5 365.9L356.5 373.0L381.3 378.0M485.3 343.0L486.1 350.2L487.1 356.6L488.3 362.5L489.8 367.8L491.5 372.6L493.5 376.9L495.9 381.0L498.6 384.8L501.7 388.4L505.2 391.7L509.2 394.9L513.7 398.1L518.9 401.2L524.7 404.3L538.6 410.5M332.1 360.4L366.1 367.9L392.0 373.0M496.5 337.9L498.0 350.8L499.1 356.6L500.4 361.6L502.0 366.4L503.8 370.6L505.9 374.6L508.4 378.3L511.2 381.8L514.4 385.0L518.1 388.2L522.2 391.2L526.8 394.2L532.0 397.1L544.5 403.0M339.5 355.0L375.0 362.8L402.1 368.0M507.3 332.8L508.7 345.3L509.6 350.9L510.8 355.8L512.2 360.3L513.9 364.4L515.8 368.3L518.0 371.9L520.6 375.2L523.5 378.4L526.7 381.5L530.4 384.4L534.6 387.2L539.2 390.0L550.3 395.5M346.7 349.7L384.1 357.8L412.2 363.2M518.0 327.8L519.1 339.8L521.0 349.8L522.2 354.1L523.7 358.2L525.4 361.9L527.4 365.4L529.7 368.7L532.3 371.8L535.2 374.7L538.5 377.5L546.3 382.9L556.0 388.1M353.8 344.5L393.7 353.0L423.2 358.6M528.4 323.0L529.4 334.4L531.0 343.9L533.4 352.1L534.9 355.7L536.7 359.0L538.7 362.2L540.9 365.1L543.5 368.0L546.3 370.7L553.1 375.8L561.6 380.8M360.7 339.5L402.8 348.3L433.5 354.0M538.7 318.3L539.4 329.1L540.8 338.1L542.9 345.8L545.7 352.5L549.4 358.4L554.1 363.7L559.9 368.7L567.1 373.4"/>
<path d="M325.6 402.9L326.3 402.5L327.1 402.0L327.8 401.5L328.5 401.1L329.3 400.6L330.0 400.2L330.7 399.7L331.5 399.3L332.5 398.9L333.6 398.6L334.7 398.2L335.7 397.8L336.8 397.5L337.9 397.1L338.9 396.8L340.0 396.4L340.7 396.0L341.4 395.5L342.1 395.1L342.9 394.6L343.6 394.2L344.3 393.7L345.0 393.3L345.7 392.8L346.8 392.5L347.8 392.1L348.9 391.8L349.9 391.4L350.9 391.1L352.0 390.7L353.0 390.4L354.0 390.0L354.7 389.6L355.4 389.2L356.1 388.7L356.8 388.3L357.5 387.9L358.2 387.4L358.9 387.0L359.6 386.6L360.6 386.2L361.7 385.9L362.7 385.5L363.7 385.2L364.7 384.8L365.7 384.5L366.8 384.2L367.8 383.8L368.5 383.4L369.1 383.0L369.8 382.5L370.5 382.1L371.2 381.7L371.8 381.3L372.5 380.9L373.2 380.4L374.2 380.1L375.2 379.8L376.2 379.4L377.2 379.1L378.2 378.8L379.2 378.4L380.2 378.1L381.2 377.8L381.8 377.3L382.5 376.9L383.2 376.5L383.8 376.1L384.5 375.7L385.1 375.3L385.8 374.9L386.5 374.4L387.4 374.1L388.4 373.8L389.4 373.5L390.4 373.1L391.4 372.8L392.3 372.5L393.3 372.1L394.3 371.8L394.9 371.4L395.6 371.0L396.2 370.6L396.9 370.2L397.5 369.8L398.1 369.4L398.8 369.0L399.4 368.6L400.4 368.3L401.3 367.9L402.3 367.6L403.3 367.3L404.2 367.0L405.2 366.7L406.1 366.3L407.1 366.0L407.7 365.6L408.4 365.2L409.0 364.8L409.6 364.4L410.2 364.0L410.8 363.6L411.5 363.3L412.1 362.9L413.0 362.5L414.0 362.2L414.9 361.9L415.9 361.6L416.8 361.3L417.7 361.0L418.7 360.7L419.6 360.4L420.2 360.0L420.8 359.6L421.4 359.2L422.1 358.8L422.7 358.4L423.3 358.0L423.9 357.7L424.5 357.3L425.4 357.0L426.3 356.7L427.3 356.3L428.2 356.0L429.1 355.7L430.0 355.4L430.9 355.1L431.9 354.8L432.5 354.4L433.0 354.1L433.6 353.7L434.2 353.3L434.8 352.9L435.4 352.5L436.0 352.2L436.6 351.8L437.5 351.5L438.4 351.2L439.3 350.9L440.2 350.6L441.1 350.3L442.0 350.0L442.9 349.7L443.8 349.4L444.4 349.0L445.0 348.7L445.6 348.3L446.1 347.9L446.7 347.5L447.3 347.2L447.9 346.8L448.4 346.4L449.3 346.1L450.2 345.9L451.1 345.6L452.0 345.3L452.9 345.0L453.8 344.7L454.7 344.4L455.5 344.1L456.1 343.7L456.7 343.4L457.2 343.0L457.8 342.6L458.4 342.3L458.9 341.9L459.5 341.6L460.0 341.2L460.9 340.9L461.8 340.6L462.7 340.3L463.5 340.1L464.4 339.8L465.3 339.5L466.1 339.2L467.0 338.9L467.6 338.6L468.1 338.2L468.7 337.8L469.2 337.5L469.7 337.1L470.3 336.8L470.8 336.4L471.4 336.1L472.2 335.8L473.1 335.5L474.0 335.2L474.8 335.0L475.7 334.7L476.5 334.4L477.4 334.1L478.2 333.8L478.8 333.5L479.3 333.1L479.8 332.8L480.4 332.4L480.9 332.1L481.4 331.7L482.0 331.4L482.5 331.1L483.3 330.8L484.2 330.5L485.0 330.2L485.9 330.0L486.7 329.7L487.5 329.4L488.4 329.1L489.2 328.9L489.7 328.5L490.3 328.2L490.8 327.8L491.3 327.5L491.8 327.2L492.3 326.8L492.9 326.5L493.4 326.1L494.2 325.9L495.0 325.6L495.9 325.3L496.7 325.1L497.5 324.8L498.3 324.5L499.2 324.3L500.0 324.0L500.5 323.7L501.0 323.3L501.5 323.0L502.0 322.7L502.5 322.3L503.0 322.0L503.5 321.7L504.0 321.3L504.8 321.1L505.6 320.8L506.5 320.5L507.3 320.3L508.1 320.0L508.9 319.8L509.7 319.5L510.5 319.2L511.0 318.9L511.5 318.6L512.0 318.2L512.5 317.9L513.0 317.6L513.5 317.3L514.0 316.9L514.5 316.6L515.3 316.4L516.1 316.1L516.9 315.8L517.7 315.6L518.4 315.3L519.2 315.1L520.0 314.8L520.8 314.6M345.9 408.5L346.6 408.0L347.3 407.5L347.9 407.0L348.6 406.5L349.3 406.0L349.9 405.6L350.6 405.1L351.3 404.6L352.4 404.3L353.5 403.9L354.6 403.6L355.8 403.2L356.9 402.9L358.0 402.5L359.1 402.2L360.2 401.8L360.9 401.3L361.5 400.9L362.2 400.4L362.8 399.9L363.5 399.4L364.1 399.0L364.8 398.5L365.4 398.0L366.5 397.7L367.6 397.4L368.7 397.0L369.8 396.7L370.9 396.3L372.0 396.0L373.1 395.7L374.2 395.3L374.8 394.9L375.5 394.4L376.1 393.9L376.7 393.5L377.3 393.0L378.0 392.6L378.6 392.1L379.2 391.6L380.3 391.3L381.4 391.0L382.4 390.6L383.5 390.3L384.6 390.0L385.7 389.6L386.7 389.3L387.8 389.0L388.4 388.5L389.0 388.1L389.6 387.6L390.3 387.2L390.9 386.7L391.5 386.3L392.1 385.8L392.7 385.4L393.7 385.1L394.8 384.7L395.9 384.4L396.9 384.1L398.0 383.8L399.0 383.4L400.1 383.1L401.1 382.8L401.7 382.3L402.3 381.9L402.9 381.5L403.5 381.0L404.1 380.6L404.7 380.2L405.3 379.7L405.8 379.3L406.9 379.0L407.9 378.6L409.0 378.3L410.0 378.0L411.0 377.7L412.1 377.4L413.1 377.1L414.1 376.7L414.7 376.3L415.3 375.9L415.8 375.5L416.4 375.0L417.0 374.6L417.6 374.2L418.1 373.7L418.7 373.3L419.7 373.0L420.7 372.7L421.8 372.4L422.8 372.1L423.8 371.8L424.8 371.5L425.8 371.1L426.8 370.8L427.4 370.4L427.9 370.0L428.5 369.6L429.1 369.2L429.6 368.7L430.2 368.3L430.7 367.9L431.3 367.5L432.3 367.2L433.3 366.9L434.3 366.6L435.3 366.3L436.3 366.0L437.3 365.7L438.2 365.4L439.2 365.1L439.8 364.6L440.3 364.2L440.9 363.8L441.4 363.4L441.9 363.0L442.5 362.6L443.0 362.2L443.5 361.8L444.5 361.5L445.5 361.2L446.5 360.9L447.5 360.6L448.5 360.3L449.4 360.0L450.4 359.7L451.4 359.4L451.9 359.0L452.4 358.6L453.0 358.2L453.5 357.8L454.0 357.4L454.5 357.0L455.0 356.6L455.6 356.2L456.5 355.9L457.5 355.6L458.5 355.3L459.4 355.1L460.4 354.8L461.3 354.5L462.3 354.2L463.2 353.9L463.8 353.5L464.3 353.1L464.8 352.7L465.3 352.3L465.8 351.9L466.3 351.5L466.8 351.2L467.3 350.8L468.3 350.5L469.2 350.2L470.1 349.9L471.1 349.6L472.0 349.3L473.0 349.1L473.9 348.8L474.9 348.5L475.4 348.1L475.8 347.7L476.3 347.3L476.8 347.0L477.3 346.6L477.8 346.2L478.3 345.8L478.8 345.4L479.7 345.2L480.7 344.9L481.6 344.6L482.5 344.3L483.4 344.0L484.4 343.8L485.3 343.5L486.2 343.2L486.7 342.8L487.2 342.5L487.7 342.1L488.1 341.7L488.6 341.3L489.1 341.0L489.6 340.6L490.0 340.2L491.0 340.0L491.9 339.7L492.8 339.4L493.7 339.1L494.6 338.9L495.5 338.6L496.4 338.3L497.3 338.0L497.8 337.7L498.3 337.3L498.7 336.9L499.2 336.6L499.7 336.2L500.1 335.8L500.6 335.5L501.1 335.1L502.0 334.9L502.8 334.6L503.7 334.3L504.6 334.0L505.5 333.8L506.4 333.5L507.3 333.3L508.2 333.0L508.7 332.6L509.1 332.3L509.6 331.9L510.0 331.5L510.5 331.2L510.9 330.8L511.4 330.5L511.8 330.1L512.7 329.9L513.6 329.6L514.5 329.3L515.4 329.1L516.2 328.8L517.1 328.6L518.0 328.3L518.9 328.0L519.3 327.7L519.7 327.3L520.2 327.0L520.6 326.6L521.1 326.3L521.5 325.9L521.9 325.6L522.4 325.2L523.2 325.0L524.1 324.7L525.0 324.5L525.8 324.2L526.7 323.9L527.6 323.7L528.4 323.4L529.3 323.2L529.7 322.8L530.2 322.5L530.6 322.1L531.0 321.8L531.4 321.5L531.9 321.1L532.3 320.8L532.7 320.4L533.6 320.2L534.4 319.9L535.3 319.7L536.1 319.4L537.0 319.2L537.8 318.9L538.7 318.7L539.5 318.4" fill="none" stroke="#333" stroke-width="0.7"/>
<path d="M347.7 397.4L348.0 401.0M361.8 391.0L362.0 394.6M375.5 384.7L375.6 388.3M380.0 382.7L380.1 386.2M388.9 378.6L388.9 382.2M401.9 372.7L402.0 376.2M414.7 366.8L414.7 370.3M423.1 363.0L423.0 366.5M427.2 361.1L427.2 364.6M439.4 355.6L439.3 359.0M451.4 350.1L451.2 353.6M463.1 344.8L462.9 348.2M474.5 339.5L474.3 343.0M485.7 334.4L485.4 337.8M496.7 329.4L496.3 332.8M500.3 327.8L499.9 331.2M507.4 324.5L507.0 327.9M517.9 319.7L517.5 323.1" fill="none" stroke="#4a4a40" stroke-width="0.7"/>
</g>
<path d="M221.7 440.9L207.0 372.5" stroke="#8a8a8a" stroke-width="0.90" fill="none"/>
<path d="M465.4 515.7L470.5 444.5" stroke="#8a8a8a" stroke-width="0.90" fill="none"/>
<path d="M570.3 389.1L581.9 323.6" stroke="#8a8a8a" stroke-width="0.90" fill="none"/>
<path d="M221.7 440.9L465.4 515.7" stroke="#8a8a8a" stroke-width="0.90" fill="none"/>
<path d="M465.4 515.7L570.3 389.1" stroke="#8a8a8a" stroke-width="0.90" fill="none"/>
<path d="M207.0 372.5L470.5 444.5" stroke="#8a8a8a" stroke-width="0.90" fill="none"/>
<path d="M470.5 444.5L581.9 323.6" stroke="#8a8a8a" stroke-width="0.90" fill="none"/>
<path d="M207.0 372.5L356.2 277.2" stroke="#8a8a8a" stroke-width="0.90" fill="none"/>
<path d="M356.2 277.2L581.9 323.6" stroke="#8a8a8a" stroke-width="0.90" fill="none"/>
<path d="M221.5 439.6l3.8 1.2M220.1 433.5l2.5 0.8M218.8 427.2l2.5 0.7M217.4 420.9l2.5 0.7M216.0 414.5l2.5 0.7M214.6 408.0l3.8 1.1M213.2 401.4l2.5 0.7M211.8 394.7l2.5 0.7M210.3 387.8l2.5 0.7M208.8 380.9l2.5 0.7M207.3 373.9l3.9 1.1M225.9 442.1l3.2 -2.4M236.4 445.3l2.1 -1.6M247.0 448.6l2.1 -1.6M257.7 451.9l2.0 -1.6M268.5 455.2l2.0 -1.6M279.5 458.6l3.1 -2.5M290.6 462.0l2.0 -1.7M301.8 465.4l2.0 -1.7M313.1 468.9l2.0 -1.7M324.6 472.5l1.9 -1.7M336.2 476.0l2.9 -2.7M347.9 479.6l1.9 -1.8M359.8 483.3l1.9 -1.8M371.8 487.0l1.9 -1.8M384.0 490.7l1.8 -1.8M396.3 494.5l2.8 -2.9M408.8 498.3l1.8 -1.9M421.4 502.2l1.8 -1.9M434.2 506.1l1.7 -1.9M447.1 510.1l1.7 -2.0M460.2 514.1l2.6 -3.1M467.9 512.7l-3.8 -1.2M474.1 505.3l-2.5 -0.7M480.0 498.1l-2.5 -0.7M485.9 491.1l-2.5 -0.7M491.6 484.1l-2.5 -0.7M497.2 477.4l-3.8 -1.1M502.7 470.8l-2.5 -0.7M508.1 464.3l-2.5 -0.7M513.3 458.0l-2.5 -0.7M518.5 451.7l-2.5 -0.7M523.5 445.7l-3.9 -1.0M528.4 439.7l-2.5 -0.7M533.3 433.9l-2.5 -0.7M538.0 428.2l-2.5 -0.6M542.7 422.6l-2.5 -0.6M547.2 417.1l-3.9 -1.0M551.7 411.7l-2.5 -0.6M556.1 406.4l-2.5 -0.6M560.4 401.2l-2.5 -0.6M564.6 396.1l-2.5 -0.6M568.7 391.1l-3.9 -0.9" stroke="#7a7a7a" stroke-width="0.8" fill="none"/><text transform="translate(175.31 374.37) scale(1.120 1)" font-family="Liberation Sans, sans-serif" font-weight="bold" font-style="normal" font-size="12.54" letter-spacing="1.71" fill="#000" stroke="#000" stroke-width="0.30">100</text>
<text transform="translate(191.73 408.37) scale(1.120 1)" font-family="Liberation Sans, sans-serif" font-weight="bold" font-style="normal" font-size="12.54" letter-spacing="1.96" fill="#000" stroke="#000" stroke-width="0.30">50</text>
<text transform="translate(206.92 440.07) scale(1.260 1)" font-family="Liberation Sans, sans-serif" font-weight="bold" font-style="normal" font-size="12.54" letter-spacing="0.00" fill="#000" stroke="#000" stroke-width="0.30">0</text>
<text transform="translate(193.49 456.17) scale(1.120 1)" font-family="Liberation Sans, sans-serif" font-weight="bold" font-style="normal" font-size="12.54" letter-spacing="1.84" fill="#000" stroke="#000" stroke-width="0.30">−10</text>
<text transform="translate(256.88 473.82) scale(1.120 1)" font-family="Liberation Sans, sans-serif" font-weight="bold" font-style="normal" font-size="12.71" letter-spacing="2.31" fill="#000" stroke="#000" stroke-width="0.30">−5</text>
<text transform="translate(323.77 490.82) scale(1.360 1)" font-family="Liberation Sans, sans-serif" font-weight="bold" font-style="normal" font-size="12.54" letter-spacing="0.00" fill="#000" stroke="#000" stroke-width="0.30">0</text>
<text transform="translate(384.96 509.72) scale(1.290 1)" font-family="Liberation Sans, sans-serif" font-weight="bold" font-style="normal" font-size="12.71" letter-spacing="0.00" fill="#000" stroke="#000" stroke-width="0.30">5</text>
<text transform="translate(442.21 530.07) scale(1.120 1)" font-family="Liberation Sans, sans-serif" font-weight="bold" font-style="normal" font-size="12.54" letter-spacing="1.54" fill="#000" stroke="#000" stroke-width="0.30">10</text>
<text transform="translate(472.49 521.62) scale(1.120 1)" font-family="Liberation Sans, sans-serif" font-weight="bold" font-style="normal" font-size="12.54" letter-spacing="1.34" fill="#000" stroke="#000" stroke-width="0.30">0.0</text>
<text transform="translate(501.79 486.32) scale(1.120 1)" font-family="Liberation Sans, sans-serif" font-weight="bold" font-style="normal" font-size="12.54" letter-spacing="1.34" fill="#000" stroke="#000" stroke-width="0.30">0.5</text>
<text transform="translate(528.11 454.52) scale(1.120 1)" font-family="Liberation Sans, sans-serif" font-weight="bold" font-style="normal" font-size="12.54" letter-spacing="1.51" fill="#000" stroke="#000" stroke-width="0.30">1.0</text>
<text transform="translate(551.40 425.67) scale(1.120 1)" font-family="Liberation Sans, sans-serif" font-weight="bold" font-style="normal" font-size="12.71" letter-spacing="1.35" fill="#000" stroke="#000" stroke-width="0.30">1.5</text>
<text transform="translate(573.06 399.62) scale(1.120 1)" font-family="Liberation Sans, sans-serif" font-weight="bold" font-style="normal" font-size="12.54" letter-spacing="1.62" fill="#000" stroke="#000" stroke-width="0.30">2.0</text>
<text transform="translate(312.21 502.05) scale(1.148 1)" font-family="Liberation Sans, sans-serif" font-weight="bold" font-style="normal" font-size="12.26" fill="#000" stroke="#000" stroke-width="0.30">x</text>
<text transform="translate(553.91 461.11) scale(0.992 1)" font-family="Liberation Sans, sans-serif" font-weight="bold" font-style="normal" font-size="13.98" fill="#000" stroke="#000" stroke-width="0.30">t</text>
<text transform="translate(102.47 401.91) scale(0.667 1)" font-family="Liberation Sans, sans-serif" font-weight="bold" font-style="normal" font-size="11.53" fill="#000" stroke="#000" stroke-width="0.30">|</text>
<text transform="translate(110.35 402.05) scale(1.382 1)" font-family="Liberation Serif, serif" font-weight="bold" font-style="italic" font-size="12.52" fill="#000" stroke="#000" stroke-width="0.30">R</text>
<text transform="translate(121.63 404.36) scale(1.306 1)" font-family="Liberation Sans, sans-serif" font-weight="bold" font-style="normal" font-size="9.15" fill="#000" stroke="#000" stroke-width="0.30">18</text>
<text transform="translate(139.40 401.61) scale(0.803 1)" font-family="Liberation Sans, sans-serif" font-weight="bold" font-style="normal" font-size="11.12" fill="#000" stroke="#000" stroke-width="0.30">(</text>
<text transform="translate(147.64 402.05) scale(0.877 1)" font-family="Liberation Sans, sans-serif" font-weight="bold" font-style="normal" font-size="12.45" fill="#000" stroke="#000" stroke-width="0.30">x</text>
<text transform="translate(155.05 402.27) scale(0.924 1)" font-family="Liberation Sans, sans-serif" font-weight="bold" font-style="normal" font-size="10.82" fill="#000" stroke="#000" stroke-width="0.30">,</text>
<text transform="translate(158.44 401.93) scale(0.912 1)" font-family="Liberation Sans, sans-serif" font-weight="bold" font-style="normal" font-size="12.03" fill="#000" stroke="#000" stroke-width="0.30">t</text>
<text transform="translate(167.25 401.61) scale(0.789 1)" font-family="Liberation Sans, sans-serif" font-weight="bold" font-style="normal" font-size="11.12" fill="#000" stroke="#000" stroke-width="0.30">)</text>
<text transform="translate(177.07 401.91) scale(0.667 1)" font-family="Liberation Sans, sans-serif" font-weight="bold" font-style="normal" font-size="11.53" fill="#000" stroke="#000" stroke-width="0.30">|</text>
</svg>
</body></html>
